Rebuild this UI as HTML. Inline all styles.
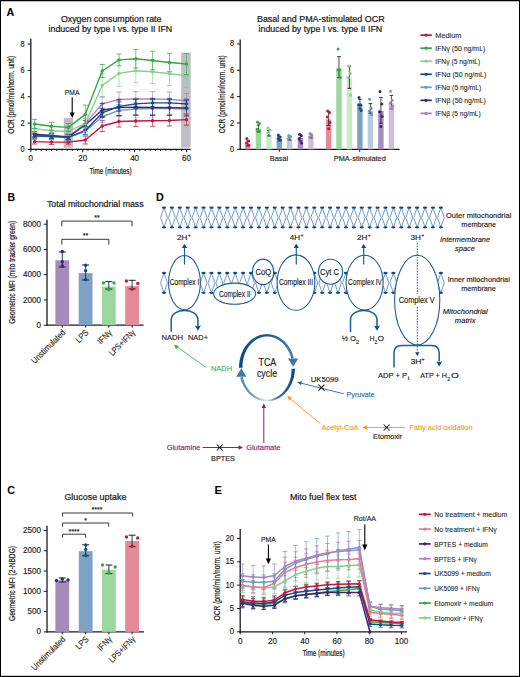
<!DOCTYPE html>
<html><head><meta charset="utf-8"><style>html,body{margin:0;padding:0;background:#fff;width:520px;height:677px;overflow:hidden}text{font-family:"Liberation Sans",sans-serif}</style></head><body>
<svg width="520" height="677" viewBox="0 0 520 677" style="display:block;font-family:'Liberation Sans', sans-serif">
<rect x="0.00" y="0.00" width="520.00" height="677.00" fill="#ffffff" />
<text x="6.60" y="15.70" font-size="10.6" text-anchor="start" fill="#000" font-weight="bold" textLength="7.80" lengthAdjust="spacingAndGlyphs" >A</text>
<text x="111.20" y="22.10" font-size="8.9" text-anchor="middle" fill="#1a1a1a" stroke="#1a1a1a" stroke-width="0.22" textLength="100.60" lengthAdjust="spacingAndGlyphs" >Oxygen consumption rate</text>
<text x="110.40" y="32.40" font-size="8.9" text-anchor="middle" fill="#1a1a1a" stroke="#1a1a1a" stroke-width="0.22" textLength="123.70" lengthAdjust="spacingAndGlyphs" >induced by type I vs. type II IFN</text>
<rect x="63.80" y="118.00" width="9.20" height="29.70" fill="#bdbdc2" />
<rect x="181.20" y="52.80" width="9.50" height="94.90" fill="#bdbdc2" />
<line x1="30.80" y1="38.70" x2="30.80" y2="150.00" stroke="#1a1a1a" stroke-width="1.3" />
<line x1="30.20" y1="149.40" x2="190.60" y2="149.40" stroke="#1a1a1a" stroke-width="1.3" />
<line x1="27.60" y1="149.40" x2="30.80" y2="149.40" stroke="#1a1a1a" stroke-width="1" />
<text x="24.70" y="151.95" font-size="8.2" text-anchor="end" fill="#1a1a1a" stroke="#1a1a1a" stroke-width="0.15" textLength="4.10" lengthAdjust="spacingAndGlyphs" >0</text>
<line x1="27.60" y1="123.06" x2="30.80" y2="123.06" stroke="#1a1a1a" stroke-width="1" />
<text x="24.70" y="125.61" font-size="8.2" text-anchor="end" fill="#1a1a1a" stroke="#1a1a1a" stroke-width="0.15" textLength="4.10" lengthAdjust="spacingAndGlyphs" >2</text>
<line x1="27.60" y1="96.72" x2="30.80" y2="96.72" stroke="#1a1a1a" stroke-width="1" />
<text x="24.70" y="99.27" font-size="8.2" text-anchor="end" fill="#1a1a1a" stroke="#1a1a1a" stroke-width="0.15" textLength="4.10" lengthAdjust="spacingAndGlyphs" >4</text>
<line x1="27.60" y1="70.38" x2="30.80" y2="70.38" stroke="#1a1a1a" stroke-width="1" />
<text x="24.70" y="72.93" font-size="8.2" text-anchor="end" fill="#1a1a1a" stroke="#1a1a1a" stroke-width="0.15" textLength="4.10" lengthAdjust="spacingAndGlyphs" >6</text>
<line x1="27.60" y1="44.04" x2="30.80" y2="44.04" stroke="#1a1a1a" stroke-width="1" />
<text x="24.70" y="46.59" font-size="8.2" text-anchor="end" fill="#1a1a1a" stroke="#1a1a1a" stroke-width="0.15" textLength="4.10" lengthAdjust="spacingAndGlyphs" >8</text>
<line x1="30.80" y1="149.40" x2="30.80" y2="152.20" stroke="#1a1a1a" stroke-width="1" />
<line x1="35.99" y1="149.40" x2="35.99" y2="150.90" stroke="#1a1a1a" stroke-width="1" />
<line x1="41.18" y1="149.40" x2="41.18" y2="150.90" stroke="#1a1a1a" stroke-width="1" />
<line x1="46.38" y1="149.40" x2="46.38" y2="150.90" stroke="#1a1a1a" stroke-width="1" />
<line x1="51.57" y1="149.40" x2="51.57" y2="150.90" stroke="#1a1a1a" stroke-width="1" />
<line x1="56.76" y1="149.40" x2="56.76" y2="150.90" stroke="#1a1a1a" stroke-width="1" />
<line x1="61.95" y1="149.40" x2="61.95" y2="150.90" stroke="#1a1a1a" stroke-width="1" />
<line x1="67.14" y1="149.40" x2="67.14" y2="150.90" stroke="#1a1a1a" stroke-width="1" />
<line x1="72.34" y1="149.40" x2="72.34" y2="150.90" stroke="#1a1a1a" stroke-width="1" />
<line x1="77.53" y1="149.40" x2="77.53" y2="150.90" stroke="#1a1a1a" stroke-width="1" />
<line x1="82.72" y1="149.40" x2="82.72" y2="152.20" stroke="#1a1a1a" stroke-width="1" />
<line x1="87.91" y1="149.40" x2="87.91" y2="150.90" stroke="#1a1a1a" stroke-width="1" />
<line x1="93.10" y1="149.40" x2="93.10" y2="150.90" stroke="#1a1a1a" stroke-width="1" />
<line x1="98.30" y1="149.40" x2="98.30" y2="150.90" stroke="#1a1a1a" stroke-width="1" />
<line x1="103.49" y1="149.40" x2="103.49" y2="150.90" stroke="#1a1a1a" stroke-width="1" />
<line x1="108.68" y1="149.40" x2="108.68" y2="150.90" stroke="#1a1a1a" stroke-width="1" />
<line x1="113.87" y1="149.40" x2="113.87" y2="150.90" stroke="#1a1a1a" stroke-width="1" />
<line x1="119.06" y1="149.40" x2="119.06" y2="150.90" stroke="#1a1a1a" stroke-width="1" />
<line x1="124.26" y1="149.40" x2="124.26" y2="150.90" stroke="#1a1a1a" stroke-width="1" />
<line x1="129.45" y1="149.40" x2="129.45" y2="150.90" stroke="#1a1a1a" stroke-width="1" />
<line x1="134.64" y1="149.40" x2="134.64" y2="152.20" stroke="#1a1a1a" stroke-width="1" />
<line x1="139.83" y1="149.40" x2="139.83" y2="150.90" stroke="#1a1a1a" stroke-width="1" />
<line x1="145.02" y1="149.40" x2="145.02" y2="150.90" stroke="#1a1a1a" stroke-width="1" />
<line x1="150.22" y1="149.40" x2="150.22" y2="150.90" stroke="#1a1a1a" stroke-width="1" />
<line x1="155.41" y1="149.40" x2="155.41" y2="150.90" stroke="#1a1a1a" stroke-width="1" />
<line x1="160.60" y1="149.40" x2="160.60" y2="150.90" stroke="#1a1a1a" stroke-width="1" />
<line x1="165.79" y1="149.40" x2="165.79" y2="150.90" stroke="#1a1a1a" stroke-width="1" />
<line x1="170.98" y1="149.40" x2="170.98" y2="150.90" stroke="#1a1a1a" stroke-width="1" />
<line x1="176.18" y1="149.40" x2="176.18" y2="150.90" stroke="#1a1a1a" stroke-width="1" />
<line x1="181.37" y1="149.40" x2="181.37" y2="150.90" stroke="#1a1a1a" stroke-width="1" />
<line x1="186.56" y1="149.40" x2="186.56" y2="152.20" stroke="#1a1a1a" stroke-width="1" />
<text x="30.80" y="161.15" font-size="8.2" text-anchor="middle" fill="#1a1a1a" stroke="#1a1a1a" stroke-width="0.15" textLength="4.50" lengthAdjust="spacingAndGlyphs" >0</text>
<text x="82.72" y="161.15" font-size="8.2" text-anchor="middle" fill="#1a1a1a" stroke="#1a1a1a" stroke-width="0.15" textLength="9.00" lengthAdjust="spacingAndGlyphs" >20</text>
<text x="134.64" y="161.15" font-size="8.2" text-anchor="middle" fill="#1a1a1a" stroke="#1a1a1a" stroke-width="0.15" textLength="9.00" lengthAdjust="spacingAndGlyphs" >40</text>
<text x="186.56" y="161.15" font-size="8.2" text-anchor="middle" fill="#1a1a1a" stroke="#1a1a1a" stroke-width="0.15" textLength="9.00" lengthAdjust="spacingAndGlyphs" >60</text>
<text x="110.50" y="173.80" font-size="9.4" text-anchor="middle" fill="#1a1a1a" stroke="#1a1a1a" stroke-width="0.22" textLength="42.20" lengthAdjust="spacingAndGlyphs" >Time (minutes)</text>
<text x="11.20" y="97.97" font-size="8.8" text-anchor="middle" fill="#1a1a1a" stroke="#1a1a1a" stroke-width="0.22" textLength="77.70" lengthAdjust="spacingAndGlyphs" transform="rotate(-90 11.20 94.80)" >OCR (pmol/min/norm. unit)</text>
<text x="72.10" y="95.04" font-size="7.6" text-anchor="middle" fill="#1a1a1a" stroke="#1a1a1a" stroke-width="0.15" textLength="14.60" lengthAdjust="spacingAndGlyphs" >PMA</text>
<line x1="72.20" y1="97.30" x2="72.20" y2="113.50" stroke="#000" stroke-width="1.1" />
<path d="M69.6,112.5 L74.8,112.5 L72.2,118 Z" fill="#000" stroke="none" stroke-width="1" />
<line x1="34.60" y1="139.26" x2="34.60" y2="144.00" stroke="#c8153c" stroke-width="0.75" opacity="0.85"/>
<line x1="32.00" y1="139.26" x2="37.20" y2="139.26" stroke="#c8153c" stroke-width="0.9" opacity="0.85"/>
<line x1="32.00" y1="144.00" x2="37.20" y2="144.00" stroke="#c8153c" stroke-width="0.9" opacity="0.85"/>
<line x1="51.50" y1="139.79" x2="51.50" y2="144.53" stroke="#c8153c" stroke-width="0.75" opacity="0.85"/>
<line x1="48.90" y1="139.79" x2="54.10" y2="139.79" stroke="#c8153c" stroke-width="0.9" opacity="0.85"/>
<line x1="48.90" y1="144.53" x2="54.10" y2="144.53" stroke="#c8153c" stroke-width="0.9" opacity="0.85"/>
<line x1="68.30" y1="140.18" x2="68.30" y2="144.13" stroke="#c8153c" stroke-width="0.75" opacity="0.85"/>
<line x1="65.70" y1="140.18" x2="70.90" y2="140.18" stroke="#c8153c" stroke-width="0.9" opacity="0.85"/>
<line x1="65.70" y1="144.13" x2="70.90" y2="144.13" stroke="#c8153c" stroke-width="0.9" opacity="0.85"/>
<line x1="85.30" y1="136.10" x2="85.30" y2="144.00" stroke="#c8153c" stroke-width="0.75" opacity="0.85"/>
<line x1="82.70" y1="136.10" x2="87.90" y2="136.10" stroke="#c8153c" stroke-width="0.9" opacity="0.85"/>
<line x1="82.70" y1="144.00" x2="87.90" y2="144.00" stroke="#c8153c" stroke-width="0.9" opacity="0.85"/>
<line x1="102.20" y1="120.43" x2="102.20" y2="131.49" stroke="#c8153c" stroke-width="0.75" opacity="0.85"/>
<line x1="99.60" y1="120.43" x2="104.80" y2="120.43" stroke="#c8153c" stroke-width="0.9" opacity="0.85"/>
<line x1="99.60" y1="131.49" x2="104.80" y2="131.49" stroke="#c8153c" stroke-width="0.9" opacity="0.85"/>
<line x1="119.00" y1="115.95" x2="119.00" y2="127.01" stroke="#c8153c" stroke-width="0.75" opacity="0.85"/>
<line x1="116.40" y1="115.95" x2="121.60" y2="115.95" stroke="#c8153c" stroke-width="0.9" opacity="0.85"/>
<line x1="116.40" y1="127.01" x2="121.60" y2="127.01" stroke="#c8153c" stroke-width="0.9" opacity="0.85"/>
<line x1="135.80" y1="115.42" x2="135.80" y2="126.48" stroke="#c8153c" stroke-width="0.75" opacity="0.85"/>
<line x1="133.20" y1="115.42" x2="138.40" y2="115.42" stroke="#c8153c" stroke-width="0.9" opacity="0.85"/>
<line x1="133.20" y1="126.48" x2="138.40" y2="126.48" stroke="#c8153c" stroke-width="0.9" opacity="0.85"/>
<line x1="152.60" y1="115.16" x2="152.60" y2="126.22" stroke="#c8153c" stroke-width="0.75" opacity="0.85"/>
<line x1="150.00" y1="115.16" x2="155.20" y2="115.16" stroke="#c8153c" stroke-width="0.9" opacity="0.85"/>
<line x1="150.00" y1="126.22" x2="155.20" y2="126.22" stroke="#c8153c" stroke-width="0.9" opacity="0.85"/>
<line x1="169.50" y1="114.89" x2="169.50" y2="125.96" stroke="#c8153c" stroke-width="0.75" opacity="0.85"/>
<line x1="166.90" y1="114.89" x2="172.10" y2="114.89" stroke="#c8153c" stroke-width="0.9" opacity="0.85"/>
<line x1="166.90" y1="125.96" x2="172.10" y2="125.96" stroke="#c8153c" stroke-width="0.9" opacity="0.85"/>
<line x1="186.40" y1="114.10" x2="186.40" y2="125.17" stroke="#c8153c" stroke-width="0.75" opacity="0.85"/>
<line x1="183.80" y1="114.10" x2="189.00" y2="114.10" stroke="#c8153c" stroke-width="0.9" opacity="0.85"/>
<line x1="183.80" y1="125.17" x2="189.00" y2="125.17" stroke="#c8153c" stroke-width="0.9" opacity="0.85"/>
<polyline points="34.60,141.63 51.50,142.16 68.30,142.16 85.30,140.05 102.20,125.96 119.00,121.48 135.80,120.95 152.60,120.69 169.50,120.43 186.40,119.64" fill="none" stroke="#c8153c" stroke-width="1.4" stroke-linejoin="round"/>
<circle cx="34.60" cy="141.63" r="1.7" fill="#c8153c" />
<circle cx="51.50" cy="142.16" r="1.7" fill="#c8153c" />
<circle cx="68.30" cy="142.16" r="1.7" fill="#c8153c" />
<circle cx="85.30" cy="140.05" r="1.7" fill="#c8153c" />
<circle cx="102.20" cy="125.96" r="1.7" fill="#c8153c" />
<circle cx="119.00" cy="121.48" r="1.7" fill="#c8153c" />
<circle cx="135.80" cy="120.95" r="1.7" fill="#c8153c" />
<circle cx="152.60" cy="120.69" r="1.7" fill="#c8153c" />
<circle cx="169.50" cy="120.43" r="1.7" fill="#c8153c" />
<circle cx="186.40" cy="119.64" r="1.7" fill="#c8153c" />
<line x1="34.60" y1="132.94" x2="34.60" y2="138.21" stroke="#a486be" stroke-width="0.75" opacity="0.85"/>
<line x1="32.00" y1="132.94" x2="37.20" y2="132.94" stroke="#a486be" stroke-width="0.9" opacity="0.85"/>
<line x1="32.00" y1="138.21" x2="37.20" y2="138.21" stroke="#a486be" stroke-width="0.9" opacity="0.85"/>
<line x1="51.50" y1="133.73" x2="51.50" y2="139.00" stroke="#a486be" stroke-width="0.75" opacity="0.85"/>
<line x1="48.90" y1="133.73" x2="54.10" y2="133.73" stroke="#a486be" stroke-width="0.9" opacity="0.85"/>
<line x1="48.90" y1="139.00" x2="54.10" y2="139.00" stroke="#a486be" stroke-width="0.9" opacity="0.85"/>
<line x1="68.30" y1="134.39" x2="68.30" y2="139.65" stroke="#a486be" stroke-width="0.75" opacity="0.85"/>
<line x1="65.70" y1="134.39" x2="70.90" y2="134.39" stroke="#a486be" stroke-width="0.9" opacity="0.85"/>
<line x1="65.70" y1="139.65" x2="70.90" y2="139.65" stroke="#a486be" stroke-width="0.9" opacity="0.85"/>
<line x1="85.30" y1="118.32" x2="85.30" y2="128.85" stroke="#a486be" stroke-width="0.75" opacity="0.85"/>
<line x1="82.70" y1="118.32" x2="87.90" y2="118.32" stroke="#a486be" stroke-width="0.9" opacity="0.85"/>
<line x1="82.70" y1="128.85" x2="87.90" y2="128.85" stroke="#a486be" stroke-width="0.9" opacity="0.85"/>
<line x1="102.20" y1="96.59" x2="102.20" y2="111.08" stroke="#a486be" stroke-width="0.75" opacity="0.85"/>
<line x1="99.60" y1="96.59" x2="104.80" y2="96.59" stroke="#a486be" stroke-width="0.9" opacity="0.85"/>
<line x1="99.60" y1="111.08" x2="104.80" y2="111.08" stroke="#a486be" stroke-width="0.9" opacity="0.85"/>
<line x1="119.00" y1="92.11" x2="119.00" y2="106.60" stroke="#a486be" stroke-width="0.75" opacity="0.85"/>
<line x1="116.40" y1="92.11" x2="121.60" y2="92.11" stroke="#a486be" stroke-width="0.9" opacity="0.85"/>
<line x1="116.40" y1="106.60" x2="121.60" y2="106.60" stroke="#a486be" stroke-width="0.9" opacity="0.85"/>
<line x1="135.80" y1="91.72" x2="135.80" y2="106.20" stroke="#a486be" stroke-width="0.75" opacity="0.85"/>
<line x1="133.20" y1="91.72" x2="138.40" y2="91.72" stroke="#a486be" stroke-width="0.9" opacity="0.85"/>
<line x1="133.20" y1="106.20" x2="138.40" y2="106.20" stroke="#a486be" stroke-width="0.9" opacity="0.85"/>
<line x1="152.60" y1="91.72" x2="152.60" y2="106.20" stroke="#a486be" stroke-width="0.75" opacity="0.85"/>
<line x1="150.00" y1="91.72" x2="155.20" y2="91.72" stroke="#a486be" stroke-width="0.9" opacity="0.85"/>
<line x1="150.00" y1="106.20" x2="155.20" y2="106.20" stroke="#a486be" stroke-width="0.9" opacity="0.85"/>
<line x1="169.50" y1="92.11" x2="169.50" y2="106.60" stroke="#a486be" stroke-width="0.75" opacity="0.85"/>
<line x1="166.90" y1="92.11" x2="172.10" y2="92.11" stroke="#a486be" stroke-width="0.9" opacity="0.85"/>
<line x1="166.90" y1="106.60" x2="172.10" y2="106.60" stroke="#a486be" stroke-width="0.9" opacity="0.85"/>
<line x1="186.40" y1="93.56" x2="186.40" y2="108.05" stroke="#a486be" stroke-width="0.75" opacity="0.85"/>
<line x1="183.80" y1="93.56" x2="189.00" y2="93.56" stroke="#a486be" stroke-width="0.9" opacity="0.85"/>
<line x1="183.80" y1="108.05" x2="189.00" y2="108.05" stroke="#a486be" stroke-width="0.9" opacity="0.85"/>
<polyline points="34.60,135.57 51.50,136.36 68.30,137.02 85.30,123.59 102.20,103.83 119.00,99.35 135.80,98.96 152.60,98.96 169.50,99.35 186.40,100.80" fill="none" stroke="#a486be" stroke-width="1.4" stroke-linejoin="round"/>
<circle cx="34.60" cy="135.57" r="1.7" fill="#a486be" />
<circle cx="51.50" cy="136.36" r="1.7" fill="#a486be" />
<circle cx="68.30" cy="137.02" r="1.7" fill="#a486be" />
<circle cx="85.30" cy="123.59" r="1.7" fill="#a486be" />
<circle cx="102.20" cy="103.83" r="1.7" fill="#a486be" />
<circle cx="119.00" cy="99.35" r="1.7" fill="#a486be" />
<circle cx="135.80" cy="98.96" r="1.7" fill="#a486be" />
<circle cx="152.60" cy="98.96" r="1.7" fill="#a486be" />
<circle cx="169.50" cy="99.35" r="1.7" fill="#a486be" />
<circle cx="186.40" cy="100.80" r="1.7" fill="#a486be" />
<line x1="34.60" y1="133.60" x2="34.60" y2="138.86" stroke="#6a9bc8" stroke-width="0.75" opacity="0.85"/>
<line x1="32.00" y1="133.60" x2="37.20" y2="133.60" stroke="#6a9bc8" stroke-width="0.9" opacity="0.85"/>
<line x1="32.00" y1="138.86" x2="37.20" y2="138.86" stroke="#6a9bc8" stroke-width="0.9" opacity="0.85"/>
<line x1="51.50" y1="133.99" x2="51.50" y2="139.26" stroke="#6a9bc8" stroke-width="0.75" opacity="0.85"/>
<line x1="48.90" y1="133.99" x2="54.10" y2="133.99" stroke="#6a9bc8" stroke-width="0.9" opacity="0.85"/>
<line x1="48.90" y1="139.26" x2="54.10" y2="139.26" stroke="#6a9bc8" stroke-width="0.9" opacity="0.85"/>
<line x1="68.30" y1="134.91" x2="68.30" y2="140.18" stroke="#6a9bc8" stroke-width="0.75" opacity="0.85"/>
<line x1="65.70" y1="134.91" x2="70.90" y2="134.91" stroke="#6a9bc8" stroke-width="0.9" opacity="0.85"/>
<line x1="65.70" y1="140.18" x2="70.90" y2="140.18" stroke="#6a9bc8" stroke-width="0.9" opacity="0.85"/>
<line x1="85.30" y1="127.27" x2="85.30" y2="135.18" stroke="#6a9bc8" stroke-width="0.75" opacity="0.85"/>
<line x1="82.70" y1="127.27" x2="87.90" y2="127.27" stroke="#6a9bc8" stroke-width="0.9" opacity="0.85"/>
<line x1="82.70" y1="135.18" x2="87.90" y2="135.18" stroke="#6a9bc8" stroke-width="0.9" opacity="0.85"/>
<line x1="102.20" y1="110.81" x2="102.20" y2="122.66" stroke="#6a9bc8" stroke-width="0.75" opacity="0.85"/>
<line x1="99.60" y1="110.81" x2="104.80" y2="110.81" stroke="#6a9bc8" stroke-width="0.9" opacity="0.85"/>
<line x1="99.60" y1="122.66" x2="104.80" y2="122.66" stroke="#6a9bc8" stroke-width="0.9" opacity="0.85"/>
<line x1="119.00" y1="104.49" x2="119.00" y2="116.34" stroke="#6a9bc8" stroke-width="0.75" opacity="0.85"/>
<line x1="116.40" y1="104.49" x2="121.60" y2="104.49" stroke="#6a9bc8" stroke-width="0.9" opacity="0.85"/>
<line x1="116.40" y1="116.34" x2="121.60" y2="116.34" stroke="#6a9bc8" stroke-width="0.9" opacity="0.85"/>
<line x1="135.80" y1="103.04" x2="135.80" y2="114.89" stroke="#6a9bc8" stroke-width="0.75" opacity="0.85"/>
<line x1="133.20" y1="103.04" x2="138.40" y2="103.04" stroke="#6a9bc8" stroke-width="0.9" opacity="0.85"/>
<line x1="133.20" y1="114.89" x2="138.40" y2="114.89" stroke="#6a9bc8" stroke-width="0.9" opacity="0.85"/>
<line x1="152.60" y1="102.65" x2="152.60" y2="114.50" stroke="#6a9bc8" stroke-width="0.75" opacity="0.85"/>
<line x1="150.00" y1="102.65" x2="155.20" y2="102.65" stroke="#6a9bc8" stroke-width="0.9" opacity="0.85"/>
<line x1="150.00" y1="114.50" x2="155.20" y2="114.50" stroke="#6a9bc8" stroke-width="0.9" opacity="0.85"/>
<line x1="169.50" y1="102.38" x2="169.50" y2="114.24" stroke="#6a9bc8" stroke-width="0.75" opacity="0.85"/>
<line x1="166.90" y1="102.38" x2="172.10" y2="102.38" stroke="#6a9bc8" stroke-width="0.9" opacity="0.85"/>
<line x1="166.90" y1="114.24" x2="172.10" y2="114.24" stroke="#6a9bc8" stroke-width="0.9" opacity="0.85"/>
<line x1="186.40" y1="103.44" x2="186.40" y2="115.29" stroke="#6a9bc8" stroke-width="0.75" opacity="0.85"/>
<line x1="183.80" y1="103.44" x2="189.00" y2="103.44" stroke="#6a9bc8" stroke-width="0.9" opacity="0.85"/>
<line x1="183.80" y1="115.29" x2="189.00" y2="115.29" stroke="#6a9bc8" stroke-width="0.9" opacity="0.85"/>
<polyline points="34.60,136.23 51.50,136.63 68.30,137.55 85.30,131.23 102.20,116.74 119.00,110.42 135.80,108.97 152.60,108.57 169.50,108.31 186.40,109.36" fill="none" stroke="#6a9bc8" stroke-width="1.4" stroke-linejoin="round"/>
<circle cx="34.60" cy="136.23" r="1.7" fill="#6a9bc8" />
<circle cx="51.50" cy="136.63" r="1.7" fill="#6a9bc8" />
<circle cx="68.30" cy="137.55" r="1.7" fill="#6a9bc8" />
<circle cx="85.30" cy="131.23" r="1.7" fill="#6a9bc8" />
<circle cx="102.20" cy="116.74" r="1.7" fill="#6a9bc8" />
<circle cx="119.00" cy="110.42" r="1.7" fill="#6a9bc8" />
<circle cx="135.80" cy="108.97" r="1.7" fill="#6a9bc8" />
<circle cx="152.60" cy="108.57" r="1.7" fill="#6a9bc8" />
<circle cx="169.50" cy="108.31" r="1.7" fill="#6a9bc8" />
<circle cx="186.40" cy="109.36" r="1.7" fill="#6a9bc8" />
<line x1="34.60" y1="131.62" x2="34.60" y2="136.89" stroke="#4c1c74" stroke-width="0.75" opacity="0.85"/>
<line x1="32.00" y1="131.62" x2="37.20" y2="131.62" stroke="#4c1c74" stroke-width="0.9" opacity="0.85"/>
<line x1="32.00" y1="136.89" x2="37.20" y2="136.89" stroke="#4c1c74" stroke-width="0.9" opacity="0.85"/>
<line x1="51.50" y1="132.94" x2="51.50" y2="138.21" stroke="#4c1c74" stroke-width="0.75" opacity="0.85"/>
<line x1="48.90" y1="132.94" x2="54.10" y2="132.94" stroke="#4c1c74" stroke-width="0.9" opacity="0.85"/>
<line x1="48.90" y1="138.21" x2="54.10" y2="138.21" stroke="#4c1c74" stroke-width="0.9" opacity="0.85"/>
<line x1="68.30" y1="134.25" x2="68.30" y2="139.52" stroke="#4c1c74" stroke-width="0.75" opacity="0.85"/>
<line x1="65.70" y1="134.25" x2="70.90" y2="134.25" stroke="#4c1c74" stroke-width="0.9" opacity="0.85"/>
<line x1="65.70" y1="139.52" x2="70.90" y2="139.52" stroke="#4c1c74" stroke-width="0.9" opacity="0.85"/>
<line x1="85.30" y1="120.43" x2="85.30" y2="129.65" stroke="#4c1c74" stroke-width="0.75" opacity="0.85"/>
<line x1="82.70" y1="120.43" x2="87.90" y2="120.43" stroke="#4c1c74" stroke-width="0.9" opacity="0.85"/>
<line x1="82.70" y1="129.65" x2="87.90" y2="129.65" stroke="#4c1c74" stroke-width="0.9" opacity="0.85"/>
<line x1="102.20" y1="103.44" x2="102.20" y2="116.61" stroke="#4c1c74" stroke-width="0.75" opacity="0.85"/>
<line x1="99.60" y1="103.44" x2="104.80" y2="103.44" stroke="#4c1c74" stroke-width="0.9" opacity="0.85"/>
<line x1="99.60" y1="116.61" x2="104.80" y2="116.61" stroke="#4c1c74" stroke-width="0.9" opacity="0.85"/>
<line x1="119.00" y1="99.75" x2="119.00" y2="115.55" stroke="#4c1c74" stroke-width="0.75" opacity="0.85"/>
<line x1="116.40" y1="99.75" x2="121.60" y2="99.75" stroke="#4c1c74" stroke-width="0.9" opacity="0.85"/>
<line x1="116.40" y1="115.55" x2="121.60" y2="115.55" stroke="#4c1c74" stroke-width="0.9" opacity="0.85"/>
<line x1="135.80" y1="99.22" x2="135.80" y2="115.03" stroke="#4c1c74" stroke-width="0.75" opacity="0.85"/>
<line x1="133.20" y1="99.22" x2="138.40" y2="99.22" stroke="#4c1c74" stroke-width="0.9" opacity="0.85"/>
<line x1="133.20" y1="115.03" x2="138.40" y2="115.03" stroke="#4c1c74" stroke-width="0.9" opacity="0.85"/>
<line x1="152.60" y1="99.62" x2="152.60" y2="115.42" stroke="#4c1c74" stroke-width="0.75" opacity="0.85"/>
<line x1="150.00" y1="99.62" x2="155.20" y2="99.62" stroke="#4c1c74" stroke-width="0.9" opacity="0.85"/>
<line x1="150.00" y1="115.42" x2="155.20" y2="115.42" stroke="#4c1c74" stroke-width="0.9" opacity="0.85"/>
<line x1="169.50" y1="99.75" x2="169.50" y2="115.55" stroke="#4c1c74" stroke-width="0.75" opacity="0.85"/>
<line x1="166.90" y1="99.75" x2="172.10" y2="99.75" stroke="#4c1c74" stroke-width="0.9" opacity="0.85"/>
<line x1="166.90" y1="115.55" x2="172.10" y2="115.55" stroke="#4c1c74" stroke-width="0.9" opacity="0.85"/>
<line x1="186.40" y1="100.14" x2="186.40" y2="115.95" stroke="#4c1c74" stroke-width="0.75" opacity="0.85"/>
<line x1="183.80" y1="100.14" x2="189.00" y2="100.14" stroke="#4c1c74" stroke-width="0.9" opacity="0.85"/>
<line x1="183.80" y1="115.95" x2="189.00" y2="115.95" stroke="#4c1c74" stroke-width="0.9" opacity="0.85"/>
<polyline points="34.60,134.25 51.50,135.57 68.30,136.89 85.30,125.04 102.20,110.02 119.00,107.65 135.80,107.12 152.60,107.52 169.50,107.65 186.40,108.05" fill="none" stroke="#4c1c74" stroke-width="1.4" stroke-linejoin="round"/>
<circle cx="34.60" cy="134.25" r="1.7" fill="#4c1c74" />
<circle cx="51.50" cy="135.57" r="1.7" fill="#4c1c74" />
<circle cx="68.30" cy="136.89" r="1.7" fill="#4c1c74" />
<circle cx="85.30" cy="125.04" r="1.7" fill="#4c1c74" />
<circle cx="102.20" cy="110.02" r="1.7" fill="#4c1c74" />
<circle cx="119.00" cy="107.65" r="1.7" fill="#4c1c74" />
<circle cx="135.80" cy="107.12" r="1.7" fill="#4c1c74" />
<circle cx="152.60" cy="107.52" r="1.7" fill="#4c1c74" />
<circle cx="169.50" cy="107.65" r="1.7" fill="#4c1c74" />
<circle cx="186.40" cy="108.05" r="1.7" fill="#4c1c74" />
<line x1="34.60" y1="133.86" x2="34.60" y2="137.81" stroke="#0f4c8a" stroke-width="0.75" opacity="0.85"/>
<line x1="32.00" y1="133.86" x2="37.20" y2="133.86" stroke="#0f4c8a" stroke-width="0.9" opacity="0.85"/>
<line x1="32.00" y1="137.81" x2="37.20" y2="137.81" stroke="#0f4c8a" stroke-width="0.9" opacity="0.85"/>
<line x1="51.50" y1="134.25" x2="51.50" y2="138.21" stroke="#0f4c8a" stroke-width="0.75" opacity="0.85"/>
<line x1="48.90" y1="134.25" x2="54.10" y2="134.25" stroke="#0f4c8a" stroke-width="0.9" opacity="0.85"/>
<line x1="48.90" y1="138.21" x2="54.10" y2="138.21" stroke="#0f4c8a" stroke-width="0.9" opacity="0.85"/>
<line x1="68.30" y1="135.31" x2="68.30" y2="139.26" stroke="#0f4c8a" stroke-width="0.75" opacity="0.85"/>
<line x1="65.70" y1="135.31" x2="70.90" y2="135.31" stroke="#0f4c8a" stroke-width="0.9" opacity="0.85"/>
<line x1="65.70" y1="139.26" x2="70.90" y2="139.26" stroke="#0f4c8a" stroke-width="0.9" opacity="0.85"/>
<line x1="85.30" y1="126.48" x2="85.30" y2="134.39" stroke="#0f4c8a" stroke-width="0.75" opacity="0.85"/>
<line x1="82.70" y1="126.48" x2="87.90" y2="126.48" stroke="#0f4c8a" stroke-width="0.9" opacity="0.85"/>
<line x1="82.70" y1="134.39" x2="87.90" y2="134.39" stroke="#0f4c8a" stroke-width="0.9" opacity="0.85"/>
<line x1="102.20" y1="108.31" x2="102.20" y2="117.53" stroke="#0f4c8a" stroke-width="0.75" opacity="0.85"/>
<line x1="99.60" y1="108.31" x2="104.80" y2="108.31" stroke="#0f4c8a" stroke-width="0.9" opacity="0.85"/>
<line x1="99.60" y1="117.53" x2="104.80" y2="117.53" stroke="#0f4c8a" stroke-width="0.9" opacity="0.85"/>
<line x1="119.00" y1="101.86" x2="119.00" y2="111.08" stroke="#0f4c8a" stroke-width="0.75" opacity="0.85"/>
<line x1="116.40" y1="101.86" x2="121.60" y2="101.86" stroke="#0f4c8a" stroke-width="0.9" opacity="0.85"/>
<line x1="116.40" y1="111.08" x2="121.60" y2="111.08" stroke="#0f4c8a" stroke-width="0.9" opacity="0.85"/>
<line x1="135.80" y1="99.22" x2="135.80" y2="108.44" stroke="#0f4c8a" stroke-width="0.75" opacity="0.85"/>
<line x1="133.20" y1="99.22" x2="138.40" y2="99.22" stroke="#0f4c8a" stroke-width="0.9" opacity="0.85"/>
<line x1="133.20" y1="108.44" x2="138.40" y2="108.44" stroke="#0f4c8a" stroke-width="0.9" opacity="0.85"/>
<line x1="152.60" y1="98.30" x2="152.60" y2="107.52" stroke="#0f4c8a" stroke-width="0.75" opacity="0.85"/>
<line x1="150.00" y1="98.30" x2="155.20" y2="98.30" stroke="#0f4c8a" stroke-width="0.9" opacity="0.85"/>
<line x1="150.00" y1="107.52" x2="155.20" y2="107.52" stroke="#0f4c8a" stroke-width="0.9" opacity="0.85"/>
<line x1="169.50" y1="98.30" x2="169.50" y2="107.52" stroke="#0f4c8a" stroke-width="0.75" opacity="0.85"/>
<line x1="166.90" y1="98.30" x2="172.10" y2="98.30" stroke="#0f4c8a" stroke-width="0.9" opacity="0.85"/>
<line x1="166.90" y1="107.52" x2="172.10" y2="107.52" stroke="#0f4c8a" stroke-width="0.9" opacity="0.85"/>
<line x1="186.40" y1="99.22" x2="186.40" y2="108.44" stroke="#0f4c8a" stroke-width="0.75" opacity="0.85"/>
<line x1="183.80" y1="99.22" x2="189.00" y2="99.22" stroke="#0f4c8a" stroke-width="0.9" opacity="0.85"/>
<line x1="183.80" y1="108.44" x2="189.00" y2="108.44" stroke="#0f4c8a" stroke-width="0.9" opacity="0.85"/>
<polyline points="34.60,135.83 51.50,136.23 68.30,137.28 85.30,130.44 102.20,112.92 119.00,106.47 135.80,103.83 152.60,102.91 169.50,102.91 186.40,103.83" fill="none" stroke="#0f4c8a" stroke-width="1.4" stroke-linejoin="round"/>
<circle cx="34.60" cy="135.83" r="1.7" fill="#0f4c8a" />
<circle cx="51.50" cy="136.23" r="1.7" fill="#0f4c8a" />
<circle cx="68.30" cy="137.28" r="1.7" fill="#0f4c8a" />
<circle cx="85.30" cy="130.44" r="1.7" fill="#0f4c8a" />
<circle cx="102.20" cy="112.92" r="1.7" fill="#0f4c8a" />
<circle cx="119.00" cy="106.47" r="1.7" fill="#0f4c8a" />
<circle cx="135.80" cy="103.83" r="1.7" fill="#0f4c8a" />
<circle cx="152.60" cy="102.91" r="1.7" fill="#0f4c8a" />
<circle cx="169.50" cy="102.91" r="1.7" fill="#0f4c8a" />
<circle cx="186.40" cy="103.83" r="1.7" fill="#0f4c8a" />
<line x1="34.60" y1="124.64" x2="34.60" y2="132.54" stroke="#87d18c" stroke-width="0.75" opacity="0.85"/>
<line x1="32.00" y1="124.64" x2="37.20" y2="124.64" stroke="#87d18c" stroke-width="0.9" opacity="0.85"/>
<line x1="32.00" y1="132.54" x2="37.20" y2="132.54" stroke="#87d18c" stroke-width="0.9" opacity="0.85"/>
<line x1="51.50" y1="126.75" x2="51.50" y2="134.65" stroke="#87d18c" stroke-width="0.75" opacity="0.85"/>
<line x1="48.90" y1="126.75" x2="54.10" y2="126.75" stroke="#87d18c" stroke-width="0.9" opacity="0.85"/>
<line x1="48.90" y1="134.65" x2="54.10" y2="134.65" stroke="#87d18c" stroke-width="0.9" opacity="0.85"/>
<line x1="68.30" y1="127.54" x2="68.30" y2="135.44" stroke="#87d18c" stroke-width="0.75" opacity="0.85"/>
<line x1="65.70" y1="127.54" x2="70.90" y2="127.54" stroke="#87d18c" stroke-width="0.9" opacity="0.85"/>
<line x1="65.70" y1="135.44" x2="70.90" y2="135.44" stroke="#87d18c" stroke-width="0.9" opacity="0.85"/>
<line x1="85.30" y1="115.68" x2="85.30" y2="131.49" stroke="#87d18c" stroke-width="0.75" opacity="0.85"/>
<line x1="82.70" y1="115.68" x2="87.90" y2="115.68" stroke="#87d18c" stroke-width="0.9" opacity="0.85"/>
<line x1="82.70" y1="131.49" x2="87.90" y2="131.49" stroke="#87d18c" stroke-width="0.9" opacity="0.85"/>
<line x1="102.20" y1="73.67" x2="102.20" y2="97.38" stroke="#87d18c" stroke-width="0.75" opacity="0.85"/>
<line x1="99.60" y1="73.67" x2="104.80" y2="73.67" stroke="#87d18c" stroke-width="0.9" opacity="0.85"/>
<line x1="99.60" y1="97.38" x2="104.80" y2="97.38" stroke="#87d18c" stroke-width="0.9" opacity="0.85"/>
<line x1="119.00" y1="60.24" x2="119.00" y2="86.58" stroke="#87d18c" stroke-width="0.75" opacity="0.85"/>
<line x1="116.40" y1="60.24" x2="121.60" y2="60.24" stroke="#87d18c" stroke-width="0.9" opacity="0.85"/>
<line x1="116.40" y1="86.58" x2="121.60" y2="86.58" stroke="#87d18c" stroke-width="0.9" opacity="0.85"/>
<line x1="135.80" y1="58.92" x2="135.80" y2="82.63" stroke="#87d18c" stroke-width="0.75" opacity="0.85"/>
<line x1="133.20" y1="58.92" x2="138.40" y2="58.92" stroke="#87d18c" stroke-width="0.9" opacity="0.85"/>
<line x1="133.20" y1="82.63" x2="138.40" y2="82.63" stroke="#87d18c" stroke-width="0.9" opacity="0.85"/>
<line x1="152.60" y1="59.84" x2="152.60" y2="83.55" stroke="#87d18c" stroke-width="0.75" opacity="0.85"/>
<line x1="150.00" y1="59.84" x2="155.20" y2="59.84" stroke="#87d18c" stroke-width="0.9" opacity="0.85"/>
<line x1="150.00" y1="83.55" x2="155.20" y2="83.55" stroke="#87d18c" stroke-width="0.9" opacity="0.85"/>
<line x1="169.50" y1="61.95" x2="169.50" y2="85.66" stroke="#87d18c" stroke-width="0.75" opacity="0.85"/>
<line x1="166.90" y1="61.95" x2="172.10" y2="61.95" stroke="#87d18c" stroke-width="0.9" opacity="0.85"/>
<line x1="166.90" y1="85.66" x2="172.10" y2="85.66" stroke="#87d18c" stroke-width="0.9" opacity="0.85"/>
<line x1="186.40" y1="63.80" x2="186.40" y2="87.50" stroke="#87d18c" stroke-width="0.75" opacity="0.85"/>
<line x1="183.80" y1="63.80" x2="189.00" y2="63.80" stroke="#87d18c" stroke-width="0.9" opacity="0.85"/>
<line x1="183.80" y1="87.50" x2="189.00" y2="87.50" stroke="#87d18c" stroke-width="0.9" opacity="0.85"/>
<polyline points="34.60,128.59 51.50,130.70 68.30,131.49 85.30,123.59 102.20,85.53 119.00,73.41 135.80,70.78 152.60,71.70 169.50,73.80 186.40,75.65" fill="none" stroke="#87d18c" stroke-width="1.4" stroke-linejoin="round"/>
<circle cx="34.60" cy="128.59" r="1.7" fill="#87d18c" />
<circle cx="51.50" cy="130.70" r="1.7" fill="#87d18c" />
<circle cx="68.30" cy="131.49" r="1.7" fill="#87d18c" />
<circle cx="85.30" cy="123.59" r="1.7" fill="#87d18c" />
<circle cx="102.20" cy="85.53" r="1.7" fill="#87d18c" />
<circle cx="119.00" cy="73.41" r="1.7" fill="#87d18c" />
<circle cx="135.80" cy="70.78" r="1.7" fill="#87d18c" />
<circle cx="152.60" cy="71.70" r="1.7" fill="#87d18c" />
<circle cx="169.50" cy="73.80" r="1.7" fill="#87d18c" />
<circle cx="186.40" cy="75.65" r="1.7" fill="#87d18c" />
<line x1="34.60" y1="119.37" x2="34.60" y2="128.59" stroke="#2eab44" stroke-width="0.75" opacity="0.85"/>
<line x1="32.00" y1="119.37" x2="37.20" y2="119.37" stroke="#2eab44" stroke-width="0.9" opacity="0.85"/>
<line x1="32.00" y1="128.59" x2="37.20" y2="128.59" stroke="#2eab44" stroke-width="0.9" opacity="0.85"/>
<line x1="51.50" y1="122.27" x2="51.50" y2="130.17" stroke="#2eab44" stroke-width="0.75" opacity="0.85"/>
<line x1="48.90" y1="122.27" x2="54.10" y2="122.27" stroke="#2eab44" stroke-width="0.9" opacity="0.85"/>
<line x1="48.90" y1="130.17" x2="54.10" y2="130.17" stroke="#2eab44" stroke-width="0.9" opacity="0.85"/>
<line x1="68.30" y1="123.46" x2="68.30" y2="131.36" stroke="#2eab44" stroke-width="0.75" opacity="0.85"/>
<line x1="65.70" y1="123.46" x2="70.90" y2="123.46" stroke="#2eab44" stroke-width="0.9" opacity="0.85"/>
<line x1="65.70" y1="131.36" x2="70.90" y2="131.36" stroke="#2eab44" stroke-width="0.9" opacity="0.85"/>
<line x1="85.30" y1="105.15" x2="85.30" y2="123.59" stroke="#2eab44" stroke-width="0.75" opacity="0.85"/>
<line x1="82.70" y1="105.15" x2="87.90" y2="105.15" stroke="#2eab44" stroke-width="0.9" opacity="0.85"/>
<line x1="82.70" y1="123.59" x2="87.90" y2="123.59" stroke="#2eab44" stroke-width="0.9" opacity="0.85"/>
<line x1="102.20" y1="64.45" x2="102.20" y2="77.62" stroke="#2eab44" stroke-width="0.75" opacity="0.85"/>
<line x1="99.60" y1="64.45" x2="104.80" y2="64.45" stroke="#2eab44" stroke-width="0.9" opacity="0.85"/>
<line x1="99.60" y1="77.62" x2="104.80" y2="77.62" stroke="#2eab44" stroke-width="0.9" opacity="0.85"/>
<line x1="119.00" y1="53.92" x2="119.00" y2="65.77" stroke="#2eab44" stroke-width="0.75" opacity="0.85"/>
<line x1="116.40" y1="53.92" x2="121.60" y2="53.92" stroke="#2eab44" stroke-width="0.9" opacity="0.85"/>
<line x1="116.40" y1="65.77" x2="121.60" y2="65.77" stroke="#2eab44" stroke-width="0.9" opacity="0.85"/>
<line x1="135.80" y1="49.57" x2="135.80" y2="68.01" stroke="#2eab44" stroke-width="0.75" opacity="0.85"/>
<line x1="133.20" y1="49.57" x2="138.40" y2="49.57" stroke="#2eab44" stroke-width="0.9" opacity="0.85"/>
<line x1="133.20" y1="68.01" x2="138.40" y2="68.01" stroke="#2eab44" stroke-width="0.9" opacity="0.85"/>
<line x1="152.60" y1="51.28" x2="152.60" y2="69.72" stroke="#2eab44" stroke-width="0.75" opacity="0.85"/>
<line x1="150.00" y1="51.28" x2="155.20" y2="51.28" stroke="#2eab44" stroke-width="0.9" opacity="0.85"/>
<line x1="150.00" y1="69.72" x2="155.20" y2="69.72" stroke="#2eab44" stroke-width="0.9" opacity="0.85"/>
<line x1="169.50" y1="53.26" x2="169.50" y2="71.70" stroke="#2eab44" stroke-width="0.75" opacity="0.85"/>
<line x1="166.90" y1="53.26" x2="172.10" y2="53.26" stroke="#2eab44" stroke-width="0.9" opacity="0.85"/>
<line x1="166.90" y1="71.70" x2="172.10" y2="71.70" stroke="#2eab44" stroke-width="0.9" opacity="0.85"/>
<line x1="186.40" y1="53.52" x2="186.40" y2="74.59" stroke="#2eab44" stroke-width="0.75" opacity="0.85"/>
<line x1="183.80" y1="53.52" x2="189.00" y2="53.52" stroke="#2eab44" stroke-width="0.9" opacity="0.85"/>
<line x1="183.80" y1="74.59" x2="189.00" y2="74.59" stroke="#2eab44" stroke-width="0.9" opacity="0.85"/>
<polyline points="34.60,123.98 51.50,126.22 68.30,127.41 85.30,114.37 102.20,71.04 119.00,59.84 135.80,58.79 152.60,60.50 169.50,62.48 186.40,64.06" fill="none" stroke="#2eab44" stroke-width="1.4" stroke-linejoin="round"/>
<circle cx="34.60" cy="123.98" r="1.7" fill="#2eab44" />
<circle cx="51.50" cy="126.22" r="1.7" fill="#2eab44" />
<circle cx="68.30" cy="127.41" r="1.7" fill="#2eab44" />
<circle cx="85.30" cy="114.37" r="1.7" fill="#2eab44" />
<circle cx="102.20" cy="71.04" r="1.7" fill="#2eab44" />
<circle cx="119.00" cy="59.84" r="1.7" fill="#2eab44" />
<circle cx="135.80" cy="58.79" r="1.7" fill="#2eab44" />
<circle cx="152.60" cy="60.50" r="1.7" fill="#2eab44" />
<circle cx="169.50" cy="62.48" r="1.7" fill="#2eab44" />
<circle cx="186.40" cy="64.06" r="1.7" fill="#2eab44" />
<text x="320.80" y="22.10" font-size="8.9" text-anchor="middle" fill="#1a1a1a" stroke="#1a1a1a" stroke-width="0.22" textLength="127.70" lengthAdjust="spacingAndGlyphs" >Basal and PMA-stimulated OCR</text>
<text x="320.40" y="32.40" font-size="8.9" text-anchor="middle" fill="#1a1a1a" stroke="#1a1a1a" stroke-width="0.22" textLength="123.70" lengthAdjust="spacingAndGlyphs" >induced by type I vs. type II IFN</text>
<line x1="240.20" y1="39.60" x2="240.20" y2="149.90" stroke="#1a1a1a" stroke-width="1.3" />
<line x1="239.60" y1="149.30" x2="399.60" y2="149.30" stroke="#1a1a1a" stroke-width="1.3" />
<line x1="237.00" y1="149.30" x2="240.20" y2="149.30" stroke="#1a1a1a" stroke-width="1" />
<text x="234.10" y="151.85" font-size="8.2" text-anchor="end" fill="#1a1a1a" stroke="#1a1a1a" stroke-width="0.15" textLength="4.10" lengthAdjust="spacingAndGlyphs" >0</text>
<line x1="237.00" y1="122.96" x2="240.20" y2="122.96" stroke="#1a1a1a" stroke-width="1" />
<text x="234.10" y="125.51" font-size="8.2" text-anchor="end" fill="#1a1a1a" stroke="#1a1a1a" stroke-width="0.15" textLength="4.10" lengthAdjust="spacingAndGlyphs" >2</text>
<line x1="237.00" y1="96.62" x2="240.20" y2="96.62" stroke="#1a1a1a" stroke-width="1" />
<text x="234.10" y="99.17" font-size="8.2" text-anchor="end" fill="#1a1a1a" stroke="#1a1a1a" stroke-width="0.15" textLength="4.10" lengthAdjust="spacingAndGlyphs" >4</text>
<line x1="237.00" y1="70.28" x2="240.20" y2="70.28" stroke="#1a1a1a" stroke-width="1" />
<text x="234.10" y="72.83" font-size="8.2" text-anchor="end" fill="#1a1a1a" stroke="#1a1a1a" stroke-width="0.15" textLength="4.10" lengthAdjust="spacingAndGlyphs" >6</text>
<line x1="237.00" y1="43.94" x2="240.20" y2="43.94" stroke="#1a1a1a" stroke-width="1" />
<text x="234.10" y="46.49" font-size="8.2" text-anchor="end" fill="#1a1a1a" stroke="#1a1a1a" stroke-width="0.15" textLength="4.10" lengthAdjust="spacingAndGlyphs" >8</text>
<text x="222.10" y="97.37" font-size="8.8" text-anchor="middle" fill="#1a1a1a" stroke="#1a1a1a" stroke-width="0.22" textLength="78.00" lengthAdjust="spacingAndGlyphs" transform="rotate(-90 222.10 94.20)" >OCR (pmol/min/norm. unit)</text>
<line x1="279.30" y1="149.30" x2="279.30" y2="151.80" stroke="#1a1a1a" stroke-width="1" />
<line x1="359.70" y1="149.30" x2="359.70" y2="151.80" stroke="#1a1a1a" stroke-width="1" />
<text x="279.00" y="160.74" font-size="7.6" text-anchor="middle" fill="#1a1a1a" stroke="#1a1a1a" stroke-width="0.15" textLength="18.40" lengthAdjust="spacingAndGlyphs" >Basal</text>
<text x="359.80" y="160.74" font-size="7.6" text-anchor="middle" fill="#1a1a1a" stroke="#1a1a1a" stroke-width="0.15" textLength="52.00" lengthAdjust="spacingAndGlyphs" >PMA-stimulated</text>
<rect x="245.00" y="144.20" width="5.40" height="5.10" fill="#e58a98" />
<rect x="255.70" y="128.50" width="5.40" height="20.80" fill="#9ad89d" />
<rect x="266.20" y="135.00" width="5.40" height="14.30" fill="#c9ebca" />
<rect x="276.60" y="139.60" width="5.40" height="9.70" fill="#7ea2c6" />
<rect x="286.90" y="138.80" width="5.40" height="10.50" fill="#b6cbe0" />
<rect x="297.70" y="138.00" width="5.40" height="11.30" fill="#a58cbb" />
<rect x="308.20" y="136.50" width="5.40" height="12.80" fill="#cdbcdb" />
<line x1="247.70" y1="141.00" x2="247.70" y2="146.00" stroke="#222" stroke-width="0.8" />
<line x1="245.90" y1="141.00" x2="249.50" y2="141.00" stroke="#222" stroke-width="0.9" />
<line x1="245.90" y1="146.00" x2="249.50" y2="146.00" stroke="#222" stroke-width="0.9" />
<circle cx="246.80" cy="138.50" r="1.5" fill="#c8153c" />
<circle cx="248.60" cy="141.00" r="1.5" fill="#c8153c" />
<circle cx="246.50" cy="143.00" r="1.5" fill="#c8153c" />
<circle cx="248.90" cy="145.00" r="1.5" fill="#c8153c" />
<line x1="258.40" y1="125.00" x2="258.40" y2="132.00" stroke="#222" stroke-width="0.8" />
<line x1="256.60" y1="125.00" x2="260.20" y2="125.00" stroke="#222" stroke-width="0.9" />
<line x1="256.60" y1="132.00" x2="260.20" y2="132.00" stroke="#222" stroke-width="0.9" />
<circle cx="257.50" cy="121.90" r="1.5" fill="#2eab44" />
<circle cx="259.30" cy="123.50" r="1.5" fill="#2eab44" />
<circle cx="257.20" cy="129.20" r="1.5" fill="#2eab44" />
<circle cx="259.60" cy="131.20" r="1.5" fill="#2eab44" />
<line x1="268.90" y1="130.50" x2="268.90" y2="136.00" stroke="#222" stroke-width="0.8" />
<line x1="267.10" y1="130.50" x2="270.70" y2="130.50" stroke="#222" stroke-width="0.9" />
<line x1="267.10" y1="136.00" x2="270.70" y2="136.00" stroke="#222" stroke-width="0.9" />
<circle cx="268.00" cy="128.00" r="1.5" fill="#87d18c" />
<circle cx="269.80" cy="130.00" r="1.5" fill="#87d18c" />
<circle cx="267.70" cy="133.00" r="1.5" fill="#87d18c" />
<line x1="279.30" y1="136.50" x2="279.30" y2="141.00" stroke="#222" stroke-width="0.8" />
<line x1="277.50" y1="136.50" x2="281.10" y2="136.50" stroke="#222" stroke-width="0.9" />
<line x1="277.50" y1="141.00" x2="281.10" y2="141.00" stroke="#222" stroke-width="0.9" />
<circle cx="278.40" cy="135.00" r="1.5" fill="#0f4c8a" />
<circle cx="280.20" cy="137.00" r="1.5" fill="#0f4c8a" />
<circle cx="278.10" cy="138.50" r="1.5" fill="#0f4c8a" />
<circle cx="280.50" cy="140.00" r="1.5" fill="#0f4c8a" />
<line x1="289.60" y1="136.00" x2="289.60" y2="140.00" stroke="#222" stroke-width="0.8" />
<line x1="287.80" y1="136.00" x2="291.40" y2="136.00" stroke="#222" stroke-width="0.9" />
<line x1="287.80" y1="140.00" x2="291.40" y2="140.00" stroke="#222" stroke-width="0.9" />
<circle cx="288.70" cy="135.50" r="1.5" fill="#6a9bc8" />
<circle cx="290.50" cy="137.00" r="1.5" fill="#6a9bc8" />
<circle cx="288.40" cy="138.50" r="1.5" fill="#6a9bc8" />
<line x1="300.40" y1="135.00" x2="300.40" y2="141.00" stroke="#222" stroke-width="0.8" />
<line x1="298.60" y1="135.00" x2="302.20" y2="135.00" stroke="#222" stroke-width="0.9" />
<line x1="298.60" y1="141.00" x2="302.20" y2="141.00" stroke="#222" stroke-width="0.9" />
<circle cx="299.50" cy="134.20" r="1.5" fill="#4c1c74" />
<circle cx="301.30" cy="135.70" r="1.5" fill="#4c1c74" />
<circle cx="299.20" cy="138.50" r="1.5" fill="#4c1c74" />
<circle cx="301.60" cy="143.00" r="1.5" fill="#4c1c74" />
<line x1="310.90" y1="134.00" x2="310.90" y2="138.00" stroke="#222" stroke-width="0.8" />
<line x1="309.10" y1="134.00" x2="312.70" y2="134.00" stroke="#222" stroke-width="0.9" />
<line x1="309.10" y1="138.00" x2="312.70" y2="138.00" stroke="#222" stroke-width="0.9" />
<circle cx="310.00" cy="133.50" r="1.5" fill="#a486be" />
<circle cx="311.80" cy="135.50" r="1.5" fill="#a486be" />
<circle cx="309.70" cy="137.00" r="1.5" fill="#a486be" />
<rect x="325.90" y="119.40" width="5.40" height="29.90" fill="#e58a98" />
<rect x="336.30" y="70.60" width="5.40" height="78.70" fill="#9ad89d" />
<rect x="346.70" y="78.30" width="5.40" height="71.00" fill="#c9ebca" />
<rect x="357.20" y="104.70" width="5.40" height="44.60" fill="#7ea2c6" />
<rect x="367.70" y="110.90" width="5.40" height="38.40" fill="#b6cbe0" />
<rect x="378.20" y="110.90" width="5.40" height="38.40" fill="#a58cbb" />
<rect x="388.70" y="103.10" width="5.40" height="46.20" fill="#cdbcdb" />
<line x1="328.60" y1="111.70" x2="328.60" y2="125.60" stroke="#222" stroke-width="0.8" />
<line x1="326.80" y1="111.70" x2="330.40" y2="111.70" stroke="#222" stroke-width="0.9" />
<line x1="326.80" y1="125.60" x2="330.40" y2="125.60" stroke="#222" stroke-width="0.9" />
<circle cx="327.70" cy="110.90" r="1.5" fill="#c8153c" />
<circle cx="329.50" cy="112.80" r="1.5" fill="#c8153c" />
<circle cx="327.40" cy="117.00" r="1.5" fill="#c8153c" />
<circle cx="329.80" cy="122.50" r="1.5" fill="#c8153c" />
<circle cx="328.60" cy="128.70" r="1.5" fill="#c8153c" />
<line x1="339.00" y1="56.60" x2="339.00" y2="77.60" stroke="#222" stroke-width="0.8" />
<line x1="337.20" y1="56.60" x2="340.80" y2="56.60" stroke="#222" stroke-width="0.9" />
<line x1="337.20" y1="77.60" x2="340.80" y2="77.60" stroke="#222" stroke-width="0.9" />
<circle cx="338.10" cy="48.90" r="1.5" fill="#2eab44" />
<circle cx="339.90" cy="69.80" r="1.5" fill="#2eab44" />
<circle cx="337.80" cy="69.80" r="1.5" fill="#2eab44" />
<circle cx="340.20" cy="77.60" r="1.5" fill="#2eab44" />
<line x1="349.40" y1="66.20" x2="349.40" y2="88.40" stroke="#222" stroke-width="0.8" />
<line x1="347.60" y1="66.20" x2="351.20" y2="66.20" stroke="#222" stroke-width="0.9" />
<line x1="347.60" y1="88.40" x2="351.20" y2="88.40" stroke="#222" stroke-width="0.9" />
<circle cx="348.50" cy="66.20" r="1.5" fill="#87d18c" />
<circle cx="350.30" cy="73.40" r="1.5" fill="#87d18c" />
<circle cx="348.20" cy="77.60" r="1.5" fill="#87d18c" />
<circle cx="350.60" cy="94.90" r="1.5" fill="#87d18c" />
<line x1="359.90" y1="99.30" x2="359.90" y2="108.90" stroke="#222" stroke-width="0.8" />
<line x1="358.10" y1="99.30" x2="361.70" y2="99.30" stroke="#222" stroke-width="0.9" />
<line x1="358.10" y1="108.90" x2="361.70" y2="108.90" stroke="#222" stroke-width="0.9" />
<circle cx="359.00" cy="97.40" r="1.5" fill="#0f4c8a" />
<circle cx="360.80" cy="104.70" r="1.5" fill="#0f4c8a" />
<circle cx="358.70" cy="104.70" r="1.5" fill="#0f4c8a" />
<circle cx="361.10" cy="110.40" r="1.5" fill="#0f4c8a" />
<line x1="370.40" y1="103.60" x2="370.40" y2="113.20" stroke="#222" stroke-width="0.8" />
<line x1="368.60" y1="103.60" x2="372.20" y2="103.60" stroke="#222" stroke-width="0.9" />
<line x1="368.60" y1="113.20" x2="372.20" y2="113.20" stroke="#222" stroke-width="0.9" />
<circle cx="369.50" cy="99.30" r="1.5" fill="#6a9bc8" />
<circle cx="371.30" cy="108.30" r="1.5" fill="#6a9bc8" />
<circle cx="369.20" cy="110.90" r="1.5" fill="#6a9bc8" />
<circle cx="371.60" cy="114.80" r="1.5" fill="#6a9bc8" />
<line x1="380.90" y1="97.40" x2="380.90" y2="123.30" stroke="#222" stroke-width="0.8" />
<line x1="379.10" y1="97.40" x2="382.70" y2="97.40" stroke="#222" stroke-width="0.9" />
<line x1="379.10" y1="123.30" x2="382.70" y2="123.30" stroke="#222" stroke-width="0.9" />
<circle cx="380.00" cy="91.50" r="1.5" fill="#4c1c74" />
<circle cx="381.80" cy="103.90" r="1.5" fill="#4c1c74" />
<circle cx="379.70" cy="111.70" r="1.5" fill="#4c1c74" />
<circle cx="382.10" cy="116.60" r="1.5" fill="#4c1c74" />
<circle cx="380.90" cy="126.40" r="1.5" fill="#4c1c74" />
<line x1="391.40" y1="95.40" x2="391.40" y2="108.90" stroke="#222" stroke-width="0.8" />
<line x1="389.60" y1="95.40" x2="393.20" y2="95.40" stroke="#222" stroke-width="0.9" />
<line x1="389.60" y1="108.90" x2="393.20" y2="108.90" stroke="#222" stroke-width="0.9" />
<circle cx="390.50" cy="91.20" r="1.5" fill="#a486be" />
<circle cx="392.30" cy="100.30" r="1.5" fill="#a486be" />
<circle cx="390.20" cy="103.10" r="1.5" fill="#a486be" />
<circle cx="392.60" cy="106.20" r="1.5" fill="#a486be" />
<circle cx="391.40" cy="108.60" r="1.5" fill="#a486be" />
<line x1="420.30" y1="35.10" x2="431.80" y2="35.10" stroke="#c8153c" stroke-width="1.7" />
<circle cx="426.00" cy="35.10" r="1.6" fill="#c8153c" />
<text x="435.30" y="37.86" font-size="7.1" text-anchor="start" fill="#1a1a1a" stroke="#1a1a1a" stroke-width="0.08" textLength="26.00" lengthAdjust="spacingAndGlyphs" >Medium</text>
<line x1="420.30" y1="48.15" x2="431.80" y2="48.15" stroke="#2eab44" stroke-width="1.7" />
<circle cx="426.00" cy="48.15" r="1.6" fill="#2eab44" />
<text x="435.30" y="50.91" font-size="7.1" text-anchor="start" fill="#1a1a1a" stroke="#1a1a1a" stroke-width="0.08" textLength="50.00" lengthAdjust="spacingAndGlyphs" >IFN&#947; (50 ng/mL)</text>
<line x1="420.30" y1="61.20" x2="431.80" y2="61.20" stroke="#87d18c" stroke-width="1.7" />
<circle cx="426.00" cy="61.20" r="1.6" fill="#87d18c" />
<text x="435.30" y="63.96" font-size="7.1" text-anchor="start" fill="#1a1a1a" stroke="#1a1a1a" stroke-width="0.08" textLength="45.00" lengthAdjust="spacingAndGlyphs" >IFN&#947; (5 ng/mL)</text>
<line x1="420.30" y1="74.25" x2="431.80" y2="74.25" stroke="#0f4c8a" stroke-width="1.7" />
<circle cx="426.00" cy="74.25" r="1.6" fill="#0f4c8a" />
<text x="435.30" y="77.01" font-size="7.1" text-anchor="start" fill="#1a1a1a" stroke="#1a1a1a" stroke-width="0.08" textLength="51.00" lengthAdjust="spacingAndGlyphs" >IFN&#945; (50 ng/mL)</text>
<line x1="420.30" y1="87.30" x2="431.80" y2="87.30" stroke="#6a9bc8" stroke-width="1.7" />
<circle cx="426.00" cy="87.30" r="1.6" fill="#6a9bc8" />
<text x="435.30" y="90.06" font-size="7.1" text-anchor="start" fill="#1a1a1a" stroke="#1a1a1a" stroke-width="0.08" textLength="46.00" lengthAdjust="spacingAndGlyphs" >IFN&#945; (5 ng/mL)</text>
<line x1="420.30" y1="100.35" x2="431.80" y2="100.35" stroke="#4c1c74" stroke-width="1.7" />
<circle cx="426.00" cy="100.35" r="1.6" fill="#4c1c74" />
<text x="435.30" y="103.11" font-size="7.1" text-anchor="start" fill="#1a1a1a" stroke="#1a1a1a" stroke-width="0.08" textLength="50.50" lengthAdjust="spacingAndGlyphs" >IFN&#946; (50 ng/mL)</text>
<line x1="420.30" y1="113.40" x2="431.80" y2="113.40" stroke="#a486be" stroke-width="1.7" />
<circle cx="426.00" cy="113.40" r="1.6" fill="#a486be" />
<text x="435.30" y="116.16" font-size="7.1" text-anchor="start" fill="#1a1a1a" stroke="#1a1a1a" stroke-width="0.08" textLength="45.50" lengthAdjust="spacingAndGlyphs" >IFN&#946; (5 ng/mL)</text>
<text x="7.40" y="200.70" font-size="10.6" text-anchor="start" fill="#000" font-weight="bold" textLength="7.60" lengthAdjust="spacingAndGlyphs" >B</text>
<text x="95.30" y="207.40" font-size="8.9" text-anchor="middle" fill="#1a1a1a" stroke="#1a1a1a" stroke-width="0.22" textLength="96.70" lengthAdjust="spacingAndGlyphs" >Total mitochondrial mass</text>
<line x1="47.00" y1="219.70" x2="47.00" y2="325.80" stroke="#1a1a1a" stroke-width="1.3" />
<line x1="46.40" y1="325.20" x2="143.60" y2="325.20" stroke="#1a1a1a" stroke-width="1.3" />
<line x1="43.80" y1="325.20" x2="47.00" y2="325.20" stroke="#1a1a1a" stroke-width="1" />
<text x="40.90" y="327.75" font-size="8.2" text-anchor="end" fill="#1a1a1a" stroke="#1a1a1a" stroke-width="0.15" textLength="4.50" lengthAdjust="spacingAndGlyphs" >0</text>
<line x1="43.80" y1="299.95" x2="47.00" y2="299.95" stroke="#1a1a1a" stroke-width="1" />
<text x="40.90" y="302.50" font-size="8.2" text-anchor="end" fill="#1a1a1a" stroke="#1a1a1a" stroke-width="0.15" textLength="18.00" lengthAdjust="spacingAndGlyphs" >2000</text>
<line x1="43.80" y1="274.70" x2="47.00" y2="274.70" stroke="#1a1a1a" stroke-width="1" />
<text x="40.90" y="277.25" font-size="8.2" text-anchor="end" fill="#1a1a1a" stroke="#1a1a1a" stroke-width="0.15" textLength="18.00" lengthAdjust="spacingAndGlyphs" >4000</text>
<line x1="43.80" y1="249.45" x2="47.00" y2="249.45" stroke="#1a1a1a" stroke-width="1" />
<text x="40.90" y="252.00" font-size="8.2" text-anchor="end" fill="#1a1a1a" stroke="#1a1a1a" stroke-width="0.15" textLength="18.00" lengthAdjust="spacingAndGlyphs" >6000</text>
<line x1="43.80" y1="224.20" x2="47.00" y2="224.20" stroke="#1a1a1a" stroke-width="1" />
<text x="40.90" y="226.75" font-size="8.2" text-anchor="end" fill="#1a1a1a" stroke="#1a1a1a" stroke-width="0.15" textLength="18.00" lengthAdjust="spacingAndGlyphs" >8000</text>
<text x="12.20" y="275.47" font-size="8.8" text-anchor="middle" fill="#1a1a1a" stroke="#1a1a1a" stroke-width="0.22" textLength="103.00" lengthAdjust="spacingAndGlyphs" transform="rotate(-90 12.20 272.30)" >Geometric MFI (mito tracker green)</text>
<rect x="55.40" y="260.27" width="13.80" height="64.93" fill="#a58cbb" />
<rect x="78.70" y="273.10" width="13.80" height="52.10" fill="#7ea2c6" />
<rect x="101.90" y="286.53" width="13.80" height="38.67" fill="#9ad89d" />
<rect x="125.20" y="286.06" width="13.80" height="39.14" fill="#e58a98" />
<line x1="62.30" y1="252.00" x2="62.30" y2="267.00" stroke="#222" stroke-width="0.9" />
<line x1="58.80" y1="252.00" x2="65.80" y2="252.00" stroke="#222" stroke-width="1" />
<line x1="58.80" y1="267.00" x2="65.80" y2="267.00" stroke="#222" stroke-width="1" />
<circle cx="62.30" cy="251.50" r="1.7" fill="#4c1c74" />
<circle cx="62.30" cy="261.80" r="1.7" fill="#4c1c74" />
<circle cx="62.30" cy="266.00" r="1.7" fill="#4c1c74" />
<line x1="62.30" y1="325.20" x2="62.30" y2="327.70" stroke="#1a1a1a" stroke-width="1" />
<line x1="85.60" y1="265.00" x2="85.60" y2="280.00" stroke="#222" stroke-width="0.9" />
<line x1="82.10" y1="265.00" x2="89.10" y2="265.00" stroke="#222" stroke-width="1" />
<line x1="82.10" y1="280.00" x2="89.10" y2="280.00" stroke="#222" stroke-width="1" />
<circle cx="85.60" cy="265.30" r="1.7" fill="#0f4c8a" />
<circle cx="85.60" cy="270.80" r="1.7" fill="#0f4c8a" />
<circle cx="85.60" cy="279.60" r="1.7" fill="#0f4c8a" />
<line x1="85.60" y1="325.20" x2="85.60" y2="327.70" stroke="#1a1a1a" stroke-width="1" />
<line x1="108.80" y1="281.60" x2="108.80" y2="289.00" stroke="#222" stroke-width="0.9" />
<line x1="105.30" y1="281.60" x2="112.30" y2="281.60" stroke="#222" stroke-width="1" />
<line x1="105.30" y1="289.00" x2="112.30" y2="289.00" stroke="#222" stroke-width="1" />
<circle cx="103.50" cy="283.00" r="1.7" fill="#2eab44" />
<circle cx="114.00" cy="283.00" r="1.7" fill="#2eab44" />
<circle cx="108.80" cy="289.80" r="1.7" fill="#2eab44" />
<line x1="108.80" y1="325.20" x2="108.80" y2="327.70" stroke="#1a1a1a" stroke-width="1" />
<line x1="132.10" y1="280.30" x2="132.10" y2="288.90" stroke="#222" stroke-width="0.9" />
<line x1="128.60" y1="280.30" x2="135.60" y2="280.30" stroke="#222" stroke-width="1" />
<line x1="128.60" y1="288.90" x2="135.60" y2="288.90" stroke="#222" stroke-width="1" />
<circle cx="126.40" cy="281.00" r="1.7" fill="#c8153c" />
<circle cx="137.80" cy="283.40" r="1.7" fill="#c8153c" />
<circle cx="132.10" cy="289.20" r="1.7" fill="#c8153c" />
<line x1="132.10" y1="325.20" x2="132.10" y2="327.70" stroke="#1a1a1a" stroke-width="1" />
<path d="M61.8,226.4 L61.8,221.1 L132,221.1 L132,226.4" fill="none" stroke="#222" stroke-width="0.9" />
<path d="M61.8,244.6 L61.8,239.3 L108.8,239.3 L108.8,244.6" fill="none" stroke="#222" stroke-width="0.9" />
<text x="97.10" y="220.02" font-size="7" text-anchor="middle" fill="#1a1a1a" stroke="#1a1a1a" stroke-width="0.15" >**</text>
<text x="85.50" y="238.02" font-size="7" text-anchor="middle" fill="#1a1a1a" stroke="#1a1a1a" stroke-width="0.15" >**</text>
<text x="63.80" y="331.00" font-size="8.8" text-anchor="end" fill="#1a1a1a" stroke="#1a1a1a" stroke-width="0.1" textLength="44" lengthAdjust="spacingAndGlyphs" transform="rotate(-45 63.80 331.00)" dy="3.0">Unstimulated</text>
<text x="87.10" y="331.00" font-size="8.8" text-anchor="end" fill="#1a1a1a" stroke="#1a1a1a" stroke-width="0.1" textLength="14.5" lengthAdjust="spacingAndGlyphs" transform="rotate(-45 87.10 331.00)" dy="3.0">LPS</text>
<text x="110.30" y="331.00" font-size="8.8" text-anchor="end" fill="#1a1a1a" stroke="#1a1a1a" stroke-width="0.1" textLength="16.5" lengthAdjust="spacingAndGlyphs" transform="rotate(-45 110.30 331.00)" dy="3.0">IFN&#947;</text>
<text x="133.60" y="331.00" font-size="8.8" text-anchor="end" fill="#1a1a1a" stroke="#1a1a1a" stroke-width="0.1" textLength="33" lengthAdjust="spacingAndGlyphs" transform="rotate(-45 133.60 331.00)" dy="3.0">LPS+IFN&#947;</text>
<text x="7.20" y="494.40" font-size="10.6" text-anchor="start" fill="#000" font-weight="bold" textLength="7.80" lengthAdjust="spacingAndGlyphs" >C</text>
<text x="95.40" y="500.10" font-size="8.9" text-anchor="middle" fill="#1a1a1a" stroke="#1a1a1a" stroke-width="0.22" textLength="62.00" lengthAdjust="spacingAndGlyphs" >Glucose uptake</text>
<line x1="47.00" y1="525.80" x2="47.00" y2="632.50" stroke="#1a1a1a" stroke-width="1.3" />
<line x1="46.40" y1="631.90" x2="144.00" y2="631.90" stroke="#1a1a1a" stroke-width="1.3" />
<line x1="43.80" y1="631.90" x2="47.00" y2="631.90" stroke="#1a1a1a" stroke-width="1" />
<text x="40.90" y="634.45" font-size="8.2" text-anchor="end" fill="#1a1a1a" stroke="#1a1a1a" stroke-width="0.15" textLength="4.50" lengthAdjust="spacingAndGlyphs" >0</text>
<line x1="43.80" y1="611.62" x2="47.00" y2="611.62" stroke="#1a1a1a" stroke-width="1" />
<text x="40.90" y="614.17" font-size="8.2" text-anchor="end" fill="#1a1a1a" stroke="#1a1a1a" stroke-width="0.15" textLength="13.50" lengthAdjust="spacingAndGlyphs" >500</text>
<line x1="43.80" y1="591.34" x2="47.00" y2="591.34" stroke="#1a1a1a" stroke-width="1" />
<text x="40.90" y="593.89" font-size="8.2" text-anchor="end" fill="#1a1a1a" stroke="#1a1a1a" stroke-width="0.15" textLength="18.00" lengthAdjust="spacingAndGlyphs" >1000</text>
<line x1="43.80" y1="571.06" x2="47.00" y2="571.06" stroke="#1a1a1a" stroke-width="1" />
<text x="40.90" y="573.61" font-size="8.2" text-anchor="end" fill="#1a1a1a" stroke="#1a1a1a" stroke-width="0.15" textLength="18.00" lengthAdjust="spacingAndGlyphs" >1500</text>
<line x1="43.80" y1="550.78" x2="47.00" y2="550.78" stroke="#1a1a1a" stroke-width="1" />
<text x="40.90" y="553.33" font-size="8.2" text-anchor="end" fill="#1a1a1a" stroke="#1a1a1a" stroke-width="0.15" textLength="18.00" lengthAdjust="spacingAndGlyphs" >2000</text>
<line x1="43.80" y1="530.50" x2="47.00" y2="530.50" stroke="#1a1a1a" stroke-width="1" />
<text x="40.90" y="533.05" font-size="8.2" text-anchor="end" fill="#1a1a1a" stroke="#1a1a1a" stroke-width="0.15" textLength="18.00" lengthAdjust="spacingAndGlyphs" >2500</text>
<text x="12.20" y="586.67" font-size="8.8" text-anchor="middle" fill="#1a1a1a" stroke="#1a1a1a" stroke-width="0.22" textLength="75.00" lengthAdjust="spacingAndGlyphs" transform="rotate(-90 12.20 583.50)" >Geometric MFI (2-NBDG)</text>
<rect x="55.40" y="580.35" width="13.80" height="51.55" fill="#a58cbb" />
<rect x="78.80" y="551.19" width="13.80" height="80.71" fill="#7ea2c6" />
<rect x="102.00" y="569.76" width="13.80" height="62.14" fill="#9ad89d" />
<rect x="125.20" y="541.01" width="13.80" height="90.89" fill="#e58a98" />
<line x1="62.30" y1="578.00" x2="62.30" y2="582.00" stroke="#222" stroke-width="0.9" />
<line x1="58.80" y1="578.00" x2="65.80" y2="578.00" stroke="#222" stroke-width="1" />
<line x1="58.80" y1="582.00" x2="65.80" y2="582.00" stroke="#222" stroke-width="1" />
<circle cx="56.50" cy="580.50" r="1.7" fill="#4c1c74" />
<circle cx="62.30" cy="579.00" r="1.7" fill="#4c1c74" />
<circle cx="68.00" cy="580.00" r="1.7" fill="#4c1c74" />
<line x1="62.30" y1="631.90" x2="62.30" y2="634.40" stroke="#1a1a1a" stroke-width="1" />
<line x1="85.70" y1="544.80" x2="85.70" y2="555.80" stroke="#222" stroke-width="0.9" />
<line x1="82.20" y1="544.80" x2="89.20" y2="544.80" stroke="#222" stroke-width="1" />
<line x1="82.20" y1="555.80" x2="89.20" y2="555.80" stroke="#222" stroke-width="1" />
<circle cx="85.70" cy="545.00" r="1.7" fill="#0f4c8a" />
<circle cx="85.70" cy="549.50" r="1.7" fill="#0f4c8a" />
<circle cx="85.70" cy="555.50" r="1.7" fill="#0f4c8a" />
<line x1="85.70" y1="631.90" x2="85.70" y2="634.40" stroke="#1a1a1a" stroke-width="1" />
<line x1="108.90" y1="565.00" x2="108.90" y2="573.60" stroke="#222" stroke-width="0.9" />
<line x1="105.40" y1="565.00" x2="112.40" y2="565.00" stroke="#222" stroke-width="1" />
<line x1="105.40" y1="573.60" x2="112.40" y2="573.60" stroke="#222" stroke-width="1" />
<circle cx="102.50" cy="565.00" r="1.7" fill="#2eab44" />
<circle cx="115.20" cy="567.00" r="1.7" fill="#2eab44" />
<circle cx="108.90" cy="573.00" r="1.7" fill="#2eab44" />
<line x1="108.90" y1="631.90" x2="108.90" y2="634.40" stroke="#1a1a1a" stroke-width="1" />
<line x1="132.10" y1="535.20" x2="132.10" y2="546.70" stroke="#222" stroke-width="0.9" />
<line x1="128.60" y1="535.20" x2="135.60" y2="535.20" stroke="#222" stroke-width="1" />
<line x1="128.60" y1="546.70" x2="135.60" y2="546.70" stroke="#222" stroke-width="1" />
<circle cx="126.50" cy="537.00" r="1.7" fill="#c8153c" />
<circle cx="137.70" cy="538.00" r="1.7" fill="#c8153c" />
<circle cx="132.10" cy="546.00" r="1.7" fill="#c8153c" />
<line x1="132.10" y1="631.90" x2="132.10" y2="634.40" stroke="#1a1a1a" stroke-width="1" />
<path d="M62.5,516.5 L62.5,513 L132.7,513 L132.7,516.5" fill="none" stroke="#222" stroke-width="0.9" />
<path d="M62.5,526.7 L62.5,523 L108.7,523 L108.7,526.7" fill="none" stroke="#222" stroke-width="0.9" />
<path d="M62.5,537.8 L62.5,534.2 L85.6,534.2 L85.6,537.8" fill="none" stroke="#222" stroke-width="0.9" />
<text x="97.00" y="512.32" font-size="7" text-anchor="middle" fill="#1a1a1a" stroke="#1a1a1a" stroke-width="0.15" >****</text>
<text x="85.60" y="522.52" font-size="7" text-anchor="middle" fill="#1a1a1a" stroke="#1a1a1a" stroke-width="0.15" >*</text>
<text x="74.00" y="533.52" font-size="7" text-anchor="middle" fill="#1a1a1a" stroke="#1a1a1a" stroke-width="0.15" >****</text>
<text x="63.80" y="637.70" font-size="8.8" text-anchor="end" fill="#1a1a1a" stroke="#1a1a1a" stroke-width="0.1" textLength="44" lengthAdjust="spacingAndGlyphs" transform="rotate(-45 63.80 637.70)" dy="3.0">Unstimulated</text>
<text x="87.20" y="637.70" font-size="8.8" text-anchor="end" fill="#1a1a1a" stroke="#1a1a1a" stroke-width="0.1" textLength="14.5" lengthAdjust="spacingAndGlyphs" transform="rotate(-45 87.20 637.70)" dy="3.0">LPS</text>
<text x="110.40" y="637.70" font-size="8.8" text-anchor="end" fill="#1a1a1a" stroke="#1a1a1a" stroke-width="0.1" textLength="16.5" lengthAdjust="spacingAndGlyphs" transform="rotate(-45 110.40 637.70)" dy="3.0">IFN&#947;</text>
<text x="133.60" y="637.70" font-size="8.8" text-anchor="end" fill="#1a1a1a" stroke="#1a1a1a" stroke-width="0.1" textLength="33" lengthAdjust="spacingAndGlyphs" transform="rotate(-45 133.60 637.70)" dy="3.0">LPS+IFN&#947;</text>
<text x="155.90" y="200.80" font-size="10.6" text-anchor="start" fill="#000" font-weight="bold" textLength="7.80" lengthAdjust="spacingAndGlyphs" >D</text>
<path d="M160.55,217.50 L164.00,207.70 L167.45,217.50 L164.00,227.30 Z M168.46,217.50 L171.91,207.70 L175.36,217.50 L171.91,227.30 Z M176.37,217.50 L179.82,207.70 L183.27,217.50 L179.82,227.30 Z M184.28,217.50 L187.73,207.70 L191.18,217.50 L187.73,227.30 Z M192.19,217.50 L195.64,207.70 L199.09,217.50 L195.64,227.30 Z M200.10,217.50 L203.55,207.70 L207.00,217.50 L203.55,227.30 Z M208.01,217.50 L211.46,207.70 L214.91,217.50 L211.46,227.30 Z M215.92,217.50 L219.37,207.70 L222.82,217.50 L219.37,227.30 Z M223.83,217.50 L227.28,207.70 L230.73,217.50 L227.28,227.30 Z M231.74,217.50 L235.19,207.70 L238.64,217.50 L235.19,227.30 Z M239.65,217.50 L243.10,207.70 L246.55,217.50 L243.10,227.30 Z M247.56,217.50 L251.01,207.70 L254.46,217.50 L251.01,227.30 Z M255.47,217.50 L258.92,207.70 L262.37,217.50 L258.92,227.30 Z M263.38,217.50 L266.83,207.70 L270.28,217.50 L266.83,227.30 Z M271.29,217.50 L274.74,207.70 L278.19,217.50 L274.74,227.30 Z M279.20,217.50 L282.65,207.70 L286.10,217.50 L282.65,227.30 Z M287.11,217.50 L290.56,207.70 L294.01,217.50 L290.56,227.30 Z M295.02,217.50 L298.47,207.70 L301.92,217.50 L298.47,227.30 Z M302.93,217.50 L306.38,207.70 L309.83,217.50 L306.38,227.30 Z M310.84,217.50 L314.29,207.70 L317.74,217.50 L314.29,227.30 Z M318.75,217.50 L322.20,207.70 L325.65,217.50 L322.20,227.30 Z M326.66,217.50 L330.11,207.70 L333.56,217.50 L330.11,227.30 Z M334.57,217.50 L338.02,207.70 L341.47,217.50 L338.02,227.30 Z M342.48,217.50 L345.93,207.70 L349.38,217.50 L345.93,227.30 Z M350.39,217.50 L353.84,207.70 L357.29,217.50 L353.84,227.30 Z M358.30,217.50 L361.75,207.70 L365.20,217.50 L361.75,227.30 Z M366.21,217.50 L369.66,207.70 L373.11,217.50 L369.66,227.30 Z M374.12,217.50 L377.57,207.70 L381.02,217.50 L377.57,227.30 Z M382.03,217.50 L385.48,207.70 L388.93,217.50 L385.48,227.30 Z M389.94,217.50 L393.39,207.70 L396.84,217.50 L393.39,227.30 Z M397.85,217.50 L401.30,207.70 L404.75,217.50 L401.30,227.30 Z M405.76,217.50 L409.21,207.70 L412.66,217.50 L409.21,227.30 Z M413.67,217.50 L417.12,207.70 L420.57,217.50 L417.12,227.30 Z M421.58,217.50 L425.03,207.70 L428.48,217.50 L425.03,227.30 Z M429.49,217.50 L432.94,207.70 L436.39,217.50 L432.94,227.30 Z M437.40,217.50 L440.85,207.70 L444.30,217.50 L440.85,227.30 Z" fill="none" stroke="#4479ad" stroke-width="0.75" stroke-linejoin="round"/>
<line x1="160.55" y1="217.50" x2="444.30" y2="217.50" stroke="#e3ebf3" stroke-width="0.3" />
<ellipse cx="164.00" cy="207.70" rx="2.2" ry="1.15" fill="#0e4a82"/>
<ellipse cx="164.00" cy="227.30" rx="2.2" ry="1.15" fill="#0e4a82"/>
<ellipse cx="171.91" cy="207.70" rx="2.2" ry="1.15" fill="#0e4a82"/>
<ellipse cx="171.91" cy="227.30" rx="2.2" ry="1.15" fill="#0e4a82"/>
<ellipse cx="179.82" cy="207.70" rx="2.2" ry="1.15" fill="#0e4a82"/>
<ellipse cx="179.82" cy="227.30" rx="2.2" ry="1.15" fill="#0e4a82"/>
<ellipse cx="187.73" cy="207.70" rx="2.2" ry="1.15" fill="#0e4a82"/>
<ellipse cx="187.73" cy="227.30" rx="2.2" ry="1.15" fill="#0e4a82"/>
<ellipse cx="195.64" cy="207.70" rx="2.2" ry="1.15" fill="#0e4a82"/>
<ellipse cx="195.64" cy="227.30" rx="2.2" ry="1.15" fill="#0e4a82"/>
<ellipse cx="203.55" cy="207.70" rx="2.2" ry="1.15" fill="#0e4a82"/>
<ellipse cx="203.55" cy="227.30" rx="2.2" ry="1.15" fill="#0e4a82"/>
<ellipse cx="211.46" cy="207.70" rx="2.2" ry="1.15" fill="#0e4a82"/>
<ellipse cx="211.46" cy="227.30" rx="2.2" ry="1.15" fill="#0e4a82"/>
<ellipse cx="219.37" cy="207.70" rx="2.2" ry="1.15" fill="#0e4a82"/>
<ellipse cx="219.37" cy="227.30" rx="2.2" ry="1.15" fill="#0e4a82"/>
<ellipse cx="227.28" cy="207.70" rx="2.2" ry="1.15" fill="#0e4a82"/>
<ellipse cx="227.28" cy="227.30" rx="2.2" ry="1.15" fill="#0e4a82"/>
<ellipse cx="235.19" cy="207.70" rx="2.2" ry="1.15" fill="#0e4a82"/>
<ellipse cx="235.19" cy="227.30" rx="2.2" ry="1.15" fill="#0e4a82"/>
<ellipse cx="243.10" cy="207.70" rx="2.2" ry="1.15" fill="#0e4a82"/>
<ellipse cx="243.10" cy="227.30" rx="2.2" ry="1.15" fill="#0e4a82"/>
<ellipse cx="251.01" cy="207.70" rx="2.2" ry="1.15" fill="#0e4a82"/>
<ellipse cx="251.01" cy="227.30" rx="2.2" ry="1.15" fill="#0e4a82"/>
<ellipse cx="258.92" cy="207.70" rx="2.2" ry="1.15" fill="#0e4a82"/>
<ellipse cx="258.92" cy="227.30" rx="2.2" ry="1.15" fill="#0e4a82"/>
<ellipse cx="266.83" cy="207.70" rx="2.2" ry="1.15" fill="#0e4a82"/>
<ellipse cx="266.83" cy="227.30" rx="2.2" ry="1.15" fill="#0e4a82"/>
<ellipse cx="274.74" cy="207.70" rx="2.2" ry="1.15" fill="#0e4a82"/>
<ellipse cx="274.74" cy="227.30" rx="2.2" ry="1.15" fill="#0e4a82"/>
<ellipse cx="282.65" cy="207.70" rx="2.2" ry="1.15" fill="#0e4a82"/>
<ellipse cx="282.65" cy="227.30" rx="2.2" ry="1.15" fill="#0e4a82"/>
<ellipse cx="290.56" cy="207.70" rx="2.2" ry="1.15" fill="#0e4a82"/>
<ellipse cx="290.56" cy="227.30" rx="2.2" ry="1.15" fill="#0e4a82"/>
<ellipse cx="298.47" cy="207.70" rx="2.2" ry="1.15" fill="#0e4a82"/>
<ellipse cx="298.47" cy="227.30" rx="2.2" ry="1.15" fill="#0e4a82"/>
<ellipse cx="306.38" cy="207.70" rx="2.2" ry="1.15" fill="#0e4a82"/>
<ellipse cx="306.38" cy="227.30" rx="2.2" ry="1.15" fill="#0e4a82"/>
<ellipse cx="314.29" cy="207.70" rx="2.2" ry="1.15" fill="#0e4a82"/>
<ellipse cx="314.29" cy="227.30" rx="2.2" ry="1.15" fill="#0e4a82"/>
<ellipse cx="322.20" cy="207.70" rx="2.2" ry="1.15" fill="#0e4a82"/>
<ellipse cx="322.20" cy="227.30" rx="2.2" ry="1.15" fill="#0e4a82"/>
<ellipse cx="330.11" cy="207.70" rx="2.2" ry="1.15" fill="#0e4a82"/>
<ellipse cx="330.11" cy="227.30" rx="2.2" ry="1.15" fill="#0e4a82"/>
<ellipse cx="338.02" cy="207.70" rx="2.2" ry="1.15" fill="#0e4a82"/>
<ellipse cx="338.02" cy="227.30" rx="2.2" ry="1.15" fill="#0e4a82"/>
<ellipse cx="345.93" cy="207.70" rx="2.2" ry="1.15" fill="#0e4a82"/>
<ellipse cx="345.93" cy="227.30" rx="2.2" ry="1.15" fill="#0e4a82"/>
<ellipse cx="353.84" cy="207.70" rx="2.2" ry="1.15" fill="#0e4a82"/>
<ellipse cx="353.84" cy="227.30" rx="2.2" ry="1.15" fill="#0e4a82"/>
<ellipse cx="361.75" cy="207.70" rx="2.2" ry="1.15" fill="#0e4a82"/>
<ellipse cx="361.75" cy="227.30" rx="2.2" ry="1.15" fill="#0e4a82"/>
<ellipse cx="369.66" cy="207.70" rx="2.2" ry="1.15" fill="#0e4a82"/>
<ellipse cx="369.66" cy="227.30" rx="2.2" ry="1.15" fill="#0e4a82"/>
<ellipse cx="377.57" cy="207.70" rx="2.2" ry="1.15" fill="#0e4a82"/>
<ellipse cx="377.57" cy="227.30" rx="2.2" ry="1.15" fill="#0e4a82"/>
<ellipse cx="385.48" cy="207.70" rx="2.2" ry="1.15" fill="#0e4a82"/>
<ellipse cx="385.48" cy="227.30" rx="2.2" ry="1.15" fill="#0e4a82"/>
<ellipse cx="393.39" cy="207.70" rx="2.2" ry="1.15" fill="#0e4a82"/>
<ellipse cx="393.39" cy="227.30" rx="2.2" ry="1.15" fill="#0e4a82"/>
<ellipse cx="401.30" cy="207.70" rx="2.2" ry="1.15" fill="#0e4a82"/>
<ellipse cx="401.30" cy="227.30" rx="2.2" ry="1.15" fill="#0e4a82"/>
<ellipse cx="409.21" cy="207.70" rx="2.2" ry="1.15" fill="#0e4a82"/>
<ellipse cx="409.21" cy="227.30" rx="2.2" ry="1.15" fill="#0e4a82"/>
<ellipse cx="417.12" cy="207.70" rx="2.2" ry="1.15" fill="#0e4a82"/>
<ellipse cx="417.12" cy="227.30" rx="2.2" ry="1.15" fill="#0e4a82"/>
<ellipse cx="425.03" cy="207.70" rx="2.2" ry="1.15" fill="#0e4a82"/>
<ellipse cx="425.03" cy="227.30" rx="2.2" ry="1.15" fill="#0e4a82"/>
<ellipse cx="432.94" cy="207.70" rx="2.2" ry="1.15" fill="#0e4a82"/>
<ellipse cx="432.94" cy="227.30" rx="2.2" ry="1.15" fill="#0e4a82"/>
<ellipse cx="440.85" cy="207.70" rx="2.2" ry="1.15" fill="#0e4a82"/>
<ellipse cx="440.85" cy="227.30" rx="2.2" ry="1.15" fill="#0e4a82"/>
<path d="M160.55,282.90 L164.00,273.00 L167.45,282.90 L164.00,292.80 Z M168.46,282.90 L171.91,273.00 L175.36,282.90 L171.91,292.80 Z M176.37,282.90 L179.82,273.00 L183.27,282.90 L179.82,292.80 Z M184.28,282.90 L187.73,273.00 L191.18,282.90 L187.73,292.80 Z M192.19,282.90 L195.64,273.00 L199.09,282.90 L195.64,292.80 Z M200.10,282.90 L203.55,273.00 L207.00,282.90 L203.55,292.80 Z M208.01,282.90 L211.46,273.00 L214.91,282.90 L211.46,292.80 Z M215.92,282.90 L219.37,273.00 L222.82,282.90 L219.37,292.80 Z M223.83,282.90 L227.28,273.00 L230.73,282.90 L227.28,292.80 Z M231.74,282.90 L235.19,273.00 L238.64,282.90 L235.19,292.80 Z M239.65,282.90 L243.10,273.00 L246.55,282.90 L243.10,292.80 Z M247.56,282.90 L251.01,273.00 L254.46,282.90 L251.01,292.80 Z M255.47,282.90 L258.92,273.00 L262.37,282.90 L258.92,292.80 Z M263.38,282.90 L266.83,273.00 L270.28,282.90 L266.83,292.80 Z M271.29,282.90 L274.74,273.00 L278.19,282.90 L274.74,292.80 Z M279.20,282.90 L282.65,273.00 L286.10,282.90 L282.65,292.80 Z M287.11,282.90 L290.56,273.00 L294.01,282.90 L290.56,292.80 Z M295.02,282.90 L298.47,273.00 L301.92,282.90 L298.47,292.80 Z M302.93,282.90 L306.38,273.00 L309.83,282.90 L306.38,292.80 Z M310.84,282.90 L314.29,273.00 L317.74,282.90 L314.29,292.80 Z M318.75,282.90 L322.20,273.00 L325.65,282.90 L322.20,292.80 Z M326.66,282.90 L330.11,273.00 L333.56,282.90 L330.11,292.80 Z M334.57,282.90 L338.02,273.00 L341.47,282.90 L338.02,292.80 Z M342.48,282.90 L345.93,273.00 L349.38,282.90 L345.93,292.80 Z M350.39,282.90 L353.84,273.00 L357.29,282.90 L353.84,292.80 Z M358.30,282.90 L361.75,273.00 L365.20,282.90 L361.75,292.80 Z M366.21,282.90 L369.66,273.00 L373.11,282.90 L369.66,292.80 Z M374.12,282.90 L377.57,273.00 L381.02,282.90 L377.57,292.80 Z M382.03,282.90 L385.48,273.00 L388.93,282.90 L385.48,292.80 Z M389.94,282.90 L393.39,273.00 L396.84,282.90 L393.39,292.80 Z M397.85,282.90 L401.30,273.00 L404.75,282.90 L401.30,292.80 Z M405.76,282.90 L409.21,273.00 L412.66,282.90 L409.21,292.80 Z M413.67,282.90 L417.12,273.00 L420.57,282.90 L417.12,292.80 Z M421.58,282.90 L425.03,273.00 L428.48,282.90 L425.03,292.80 Z M429.49,282.90 L432.94,273.00 L436.39,282.90 L432.94,292.80 Z M437.40,282.90 L440.85,273.00 L444.30,282.90 L440.85,292.80 Z" fill="none" stroke="#4479ad" stroke-width="0.75" stroke-linejoin="round"/>
<line x1="160.55" y1="282.90" x2="444.30" y2="282.90" stroke="#e3ebf3" stroke-width="0.3" />
<ellipse cx="164.00" cy="273.00" rx="2.2" ry="1.15" fill="#0e4a82"/>
<ellipse cx="164.00" cy="292.80" rx="2.2" ry="1.15" fill="#0e4a82"/>
<ellipse cx="171.91" cy="273.00" rx="2.2" ry="1.15" fill="#0e4a82"/>
<ellipse cx="171.91" cy="292.80" rx="2.2" ry="1.15" fill="#0e4a82"/>
<ellipse cx="179.82" cy="273.00" rx="2.2" ry="1.15" fill="#0e4a82"/>
<ellipse cx="179.82" cy="292.80" rx="2.2" ry="1.15" fill="#0e4a82"/>
<ellipse cx="187.73" cy="273.00" rx="2.2" ry="1.15" fill="#0e4a82"/>
<ellipse cx="187.73" cy="292.80" rx="2.2" ry="1.15" fill="#0e4a82"/>
<ellipse cx="195.64" cy="273.00" rx="2.2" ry="1.15" fill="#0e4a82"/>
<ellipse cx="195.64" cy="292.80" rx="2.2" ry="1.15" fill="#0e4a82"/>
<ellipse cx="203.55" cy="273.00" rx="2.2" ry="1.15" fill="#0e4a82"/>
<ellipse cx="203.55" cy="292.80" rx="2.2" ry="1.15" fill="#0e4a82"/>
<ellipse cx="211.46" cy="273.00" rx="2.2" ry="1.15" fill="#0e4a82"/>
<ellipse cx="211.46" cy="292.80" rx="2.2" ry="1.15" fill="#0e4a82"/>
<ellipse cx="219.37" cy="273.00" rx="2.2" ry="1.15" fill="#0e4a82"/>
<ellipse cx="219.37" cy="292.80" rx="2.2" ry="1.15" fill="#0e4a82"/>
<ellipse cx="227.28" cy="273.00" rx="2.2" ry="1.15" fill="#0e4a82"/>
<ellipse cx="227.28" cy="292.80" rx="2.2" ry="1.15" fill="#0e4a82"/>
<ellipse cx="235.19" cy="273.00" rx="2.2" ry="1.15" fill="#0e4a82"/>
<ellipse cx="235.19" cy="292.80" rx="2.2" ry="1.15" fill="#0e4a82"/>
<ellipse cx="243.10" cy="273.00" rx="2.2" ry="1.15" fill="#0e4a82"/>
<ellipse cx="243.10" cy="292.80" rx="2.2" ry="1.15" fill="#0e4a82"/>
<ellipse cx="251.01" cy="273.00" rx="2.2" ry="1.15" fill="#0e4a82"/>
<ellipse cx="251.01" cy="292.80" rx="2.2" ry="1.15" fill="#0e4a82"/>
<ellipse cx="258.92" cy="273.00" rx="2.2" ry="1.15" fill="#0e4a82"/>
<ellipse cx="258.92" cy="292.80" rx="2.2" ry="1.15" fill="#0e4a82"/>
<ellipse cx="266.83" cy="273.00" rx="2.2" ry="1.15" fill="#0e4a82"/>
<ellipse cx="266.83" cy="292.80" rx="2.2" ry="1.15" fill="#0e4a82"/>
<ellipse cx="274.74" cy="273.00" rx="2.2" ry="1.15" fill="#0e4a82"/>
<ellipse cx="274.74" cy="292.80" rx="2.2" ry="1.15" fill="#0e4a82"/>
<ellipse cx="282.65" cy="273.00" rx="2.2" ry="1.15" fill="#0e4a82"/>
<ellipse cx="282.65" cy="292.80" rx="2.2" ry="1.15" fill="#0e4a82"/>
<ellipse cx="290.56" cy="273.00" rx="2.2" ry="1.15" fill="#0e4a82"/>
<ellipse cx="290.56" cy="292.80" rx="2.2" ry="1.15" fill="#0e4a82"/>
<ellipse cx="298.47" cy="273.00" rx="2.2" ry="1.15" fill="#0e4a82"/>
<ellipse cx="298.47" cy="292.80" rx="2.2" ry="1.15" fill="#0e4a82"/>
<ellipse cx="306.38" cy="273.00" rx="2.2" ry="1.15" fill="#0e4a82"/>
<ellipse cx="306.38" cy="292.80" rx="2.2" ry="1.15" fill="#0e4a82"/>
<ellipse cx="314.29" cy="273.00" rx="2.2" ry="1.15" fill="#0e4a82"/>
<ellipse cx="314.29" cy="292.80" rx="2.2" ry="1.15" fill="#0e4a82"/>
<ellipse cx="322.20" cy="273.00" rx="2.2" ry="1.15" fill="#0e4a82"/>
<ellipse cx="322.20" cy="292.80" rx="2.2" ry="1.15" fill="#0e4a82"/>
<ellipse cx="330.11" cy="273.00" rx="2.2" ry="1.15" fill="#0e4a82"/>
<ellipse cx="330.11" cy="292.80" rx="2.2" ry="1.15" fill="#0e4a82"/>
<ellipse cx="338.02" cy="273.00" rx="2.2" ry="1.15" fill="#0e4a82"/>
<ellipse cx="338.02" cy="292.80" rx="2.2" ry="1.15" fill="#0e4a82"/>
<ellipse cx="345.93" cy="273.00" rx="2.2" ry="1.15" fill="#0e4a82"/>
<ellipse cx="345.93" cy="292.80" rx="2.2" ry="1.15" fill="#0e4a82"/>
<ellipse cx="353.84" cy="273.00" rx="2.2" ry="1.15" fill="#0e4a82"/>
<ellipse cx="353.84" cy="292.80" rx="2.2" ry="1.15" fill="#0e4a82"/>
<ellipse cx="361.75" cy="273.00" rx="2.2" ry="1.15" fill="#0e4a82"/>
<ellipse cx="361.75" cy="292.80" rx="2.2" ry="1.15" fill="#0e4a82"/>
<ellipse cx="369.66" cy="273.00" rx="2.2" ry="1.15" fill="#0e4a82"/>
<ellipse cx="369.66" cy="292.80" rx="2.2" ry="1.15" fill="#0e4a82"/>
<ellipse cx="377.57" cy="273.00" rx="2.2" ry="1.15" fill="#0e4a82"/>
<ellipse cx="377.57" cy="292.80" rx="2.2" ry="1.15" fill="#0e4a82"/>
<ellipse cx="385.48" cy="273.00" rx="2.2" ry="1.15" fill="#0e4a82"/>
<ellipse cx="385.48" cy="292.80" rx="2.2" ry="1.15" fill="#0e4a82"/>
<ellipse cx="393.39" cy="273.00" rx="2.2" ry="1.15" fill="#0e4a82"/>
<ellipse cx="393.39" cy="292.80" rx="2.2" ry="1.15" fill="#0e4a82"/>
<ellipse cx="401.30" cy="273.00" rx="2.2" ry="1.15" fill="#0e4a82"/>
<ellipse cx="401.30" cy="292.80" rx="2.2" ry="1.15" fill="#0e4a82"/>
<ellipse cx="409.21" cy="273.00" rx="2.2" ry="1.15" fill="#0e4a82"/>
<ellipse cx="409.21" cy="292.80" rx="2.2" ry="1.15" fill="#0e4a82"/>
<ellipse cx="417.12" cy="273.00" rx="2.2" ry="1.15" fill="#0e4a82"/>
<ellipse cx="417.12" cy="292.80" rx="2.2" ry="1.15" fill="#0e4a82"/>
<ellipse cx="425.03" cy="273.00" rx="2.2" ry="1.15" fill="#0e4a82"/>
<ellipse cx="425.03" cy="292.80" rx="2.2" ry="1.15" fill="#0e4a82"/>
<ellipse cx="432.94" cy="273.00" rx="2.2" ry="1.15" fill="#0e4a82"/>
<ellipse cx="432.94" cy="292.80" rx="2.2" ry="1.15" fill="#0e4a82"/>
<ellipse cx="440.85" cy="273.00" rx="2.2" ry="1.15" fill="#0e4a82"/>
<ellipse cx="440.85" cy="292.80" rx="2.2" ry="1.15" fill="#0e4a82"/>
<text x="478.70" y="217.64" font-size="7.9" text-anchor="middle" fill="#1a1a1a" stroke="#1a1a1a" stroke-width="0.15" textLength="65.30" lengthAdjust="spacingAndGlyphs" >Outer mitochondrial</text>
<text x="478.70" y="227.04" font-size="7.9" text-anchor="middle" fill="#1a1a1a" stroke="#1a1a1a" stroke-width="0.15" textLength="34.70" lengthAdjust="spacingAndGlyphs" >membrane</text>
<text x="465.00" y="242.44" font-size="7.9" text-anchor="middle" fill="#1a1a1a" stroke="#1a1a1a" stroke-width="0.15" font-style="italic" textLength="50.00" lengthAdjust="spacingAndGlyphs" >Intermembrane</text>
<text x="465.00" y="250.74" font-size="7.9" text-anchor="middle" fill="#1a1a1a" stroke="#1a1a1a" stroke-width="0.15" font-style="italic" textLength="19.80" lengthAdjust="spacingAndGlyphs" >space</text>
<text x="478.80" y="282.44" font-size="7.9" text-anchor="middle" fill="#1a1a1a" stroke="#1a1a1a" stroke-width="0.15" textLength="62.00" lengthAdjust="spacingAndGlyphs" >Inner mitochondrial</text>
<text x="478.60" y="291.34" font-size="7.9" text-anchor="middle" fill="#1a1a1a" stroke="#1a1a1a" stroke-width="0.15" textLength="34.50" lengthAdjust="spacingAndGlyphs" >membrane</text>
<text x="465.20" y="314.24" font-size="7.9" text-anchor="middle" fill="#1a1a1a" stroke="#1a1a1a" stroke-width="0.15" font-style="italic" textLength="45.00" lengthAdjust="spacingAndGlyphs" >Mitochondrial</text>
<text x="465.20" y="322.84" font-size="7.9" text-anchor="middle" fill="#1a1a1a" stroke="#1a1a1a" stroke-width="0.15" font-style="italic" textLength="20.70" lengthAdjust="spacingAndGlyphs" >matrix</text>
<ellipse cx="184.5" cy="282.6" rx="15.9" ry="27.1" fill="#fff" stroke="#1d5e98" stroke-width="1.1"/>
<ellipse cx="296.0" cy="282.6" rx="18.85" ry="27.7" fill="#fff" stroke="#1d5e98" stroke-width="1.1"/>
<ellipse cx="364.6" cy="282.65" rx="18.5" ry="27.35" fill="#fff" stroke="#1d5e98" stroke-width="1.1"/>
<ellipse cx="417.2" cy="300.15" rx="22.6" ry="44.85" fill="#fff" stroke="#1d5e98" stroke-width="1.1"/>
<ellipse cx="234.6" cy="293.7" rx="21.0" ry="10.6" fill="#fff" stroke="#1d5e98" stroke-width="1.1"/>
<ellipse cx="263.1" cy="271.9" rx="10.65" ry="12.75" fill="#fff" stroke="#1d5e98" stroke-width="1.1"/>
<ellipse cx="330.5" cy="271.7" rx="12.05" ry="12.5" fill="#fff" stroke="#1d5e98" stroke-width="1.1"/>
<text x="184.50" y="285.46" font-size="8.5" text-anchor="middle" fill="#1a1a1a" stroke="#1a1a1a" stroke-width="0.15" textLength="29.50" lengthAdjust="spacingAndGlyphs" >Complex I</text>
<text x="234.80" y="297.06" font-size="8.5" text-anchor="middle" fill="#1a1a1a" stroke="#1a1a1a" stroke-width="0.15" textLength="31.50" lengthAdjust="spacingAndGlyphs" >Complex II</text>
<text x="263.30" y="274.96" font-size="8.5" text-anchor="middle" fill="#1a1a1a" stroke="#1a1a1a" stroke-width="0.15" textLength="15.80" lengthAdjust="spacingAndGlyphs" >CoQ</text>
<text x="296.00" y="285.36" font-size="8.5" text-anchor="middle" fill="#1a1a1a" stroke="#1a1a1a" stroke-width="0.15" textLength="34.20" lengthAdjust="spacingAndGlyphs" >Complex III</text>
<text x="329.50" y="275.06" font-size="8.5" text-anchor="middle" fill="#1a1a1a" stroke="#1a1a1a" stroke-width="0.15" textLength="18.90" lengthAdjust="spacingAndGlyphs" >Cyt C</text>
<text x="365.00" y="285.26" font-size="8.5" text-anchor="middle" fill="#1a1a1a" stroke="#1a1a1a" stroke-width="0.15" textLength="33.90" lengthAdjust="spacingAndGlyphs" >Complex IV</text>
<text x="416.70" y="302.86" font-size="8.5" text-anchor="middle" fill="#1a1a1a" stroke="#1a1a1a" stroke-width="0.15" textLength="35.90" lengthAdjust="spacingAndGlyphs" >Complex V</text>
<line x1="184.50" y1="264.50" x2="184.50" y2="247.30" stroke="#1d5e98" stroke-width="1.2" />
<path d="M181.90,248.00 L184.50,243.80 L187.10,248.00 Z" fill="#0e4a82" stroke="none" stroke-width="1" />
<line x1="296.30" y1="264.50" x2="296.30" y2="247.30" stroke="#1d5e98" stroke-width="1.2" />
<path d="M293.70,248.00 L296.30,243.80 L298.90,248.00 Z" fill="#0e4a82" stroke="none" stroke-width="1" />
<line x1="363.70" y1="264.50" x2="363.70" y2="247.40" stroke="#1d5e98" stroke-width="1.2" />
<path d="M361.10,248.10 L363.70,243.90 L366.30,248.10 Z" fill="#0e4a82" stroke="none" stroke-width="1" />
<text x="176.90" y="239.80" font-size="7.9" fill="#1a1a1a" stroke="#1a1a1a" stroke-width="0.15" textLength="10.40" lengthAdjust="spacingAndGlyphs">2H</text>
<text x="187.90" y="236.60" font-size="5.4" fill="#1a1a1a" stroke="#1a1a1a" stroke-width="0.15" textLength="2.60" lengthAdjust="spacingAndGlyphs">+</text>
<text x="289.80" y="239.80" font-size="7.9" fill="#1a1a1a" stroke="#1a1a1a" stroke-width="0.15" textLength="10.40" lengthAdjust="spacingAndGlyphs">4H</text>
<text x="300.80" y="236.60" font-size="5.4" fill="#1a1a1a" stroke="#1a1a1a" stroke-width="0.15" textLength="2.60" lengthAdjust="spacingAndGlyphs">+</text>
<text x="357.10" y="239.80" font-size="7.9" fill="#1a1a1a" stroke="#1a1a1a" stroke-width="0.15" textLength="10.40" lengthAdjust="spacingAndGlyphs">2H</text>
<text x="368.10" y="236.60" font-size="5.4" fill="#1a1a1a" stroke="#1a1a1a" stroke-width="0.15" textLength="2.60" lengthAdjust="spacingAndGlyphs">+</text>
<text x="410.40" y="239.80" font-size="7.9" fill="#1a1a1a" stroke="#1a1a1a" stroke-width="0.15" textLength="10.40" lengthAdjust="spacingAndGlyphs">3H</text>
<text x="421.40" y="236.60" font-size="5.4" fill="#1a1a1a" stroke="#1a1a1a" stroke-width="0.15" textLength="2.60" lengthAdjust="spacingAndGlyphs">+</text>
<line x1="417.30" y1="242.80" x2="417.30" y2="293.90" stroke="#1d5e98" stroke-width="1.0" stroke-dasharray="1.6,1.2"/>
<line x1="417.30" y1="306.90" x2="417.30" y2="352.50" stroke="#1d5e98" stroke-width="1.0" stroke-dasharray="1.6,1.2"/>
<path d="M415.1,352.2 L417.3,356.0 L419.5,352.2 Z" fill="#0e4a82" stroke="none" stroke-width="1" />
<text x="410.50" y="363.80" font-size="7.9" fill="#1a1a1a" stroke="#1a1a1a" stroke-width="0.15" textLength="11.00" lengthAdjust="spacingAndGlyphs">3H</text>
<text x="421.60" y="360.60" font-size="5.2" fill="#1a1a1a" stroke="#1a1a1a" stroke-width="0.15" textLength="3.00" lengthAdjust="spacingAndGlyphs">+</text>
<path d="M171.20,331.70 L171.20,320.01 C171.20,307.33 197.90,307.33 197.90,320.01 L197.90,326.80" fill="none" stroke="#1d5e98" stroke-width="1.5" />
<path d="M194.90,325.60 L197.90,330.80 L200.90,325.60 L197.90,326.60 Z" fill="#0e4a82" stroke="none" stroke-width="1" />
<path d="M350.50,332.00 L350.50,319.94 C350.50,307.35 377.00,307.35 377.00,319.94 L377.00,326.80" fill="none" stroke="#1d5e98" stroke-width="1.5" />
<path d="M374.00,325.60 L377.00,330.80 L380.00,325.60 L377.00,326.60 Z" fill="#0e4a82" stroke="none" stroke-width="1" />
<path d="M394.0,367.6 L394.0,353.0 Q394.0,345.4 401.6,345.4 L431.6,345.4 Q439.2,345.4 439.2,353.0 L439.2,361.5" fill="none" stroke="#1d5e98" stroke-width="1.5" />
<path d="M436.2,361.2 L439.2,366.6 L442.2,361.2 L439.2,362.2 Z" fill="#0e4a82" stroke="none" stroke-width="1" />
<text x="172.20" y="340.34" font-size="7.9" text-anchor="middle" fill="#1a1a1a" stroke="#1a1a1a" stroke-width="0.15" textLength="21.50" lengthAdjust="spacingAndGlyphs" >NADH</text>
<text x="198.00" y="340.34" font-size="7.9" text-anchor="middle" fill="#1a1a1a" stroke="#1a1a1a" stroke-width="0.15" textLength="20.00" lengthAdjust="spacingAndGlyphs" >NAD+</text>
<text x="341.70" y="341.30" font-size="7.9" fill="#1a1a1a" stroke="#1a1a1a" stroke-width="0.15" textLength="6.30" lengthAdjust="spacingAndGlyphs">&#189;</text>
<text x="350.20" y="341.30" font-size="7.9" fill="#1a1a1a" stroke="#1a1a1a" stroke-width="0.15" textLength="5.60" lengthAdjust="spacingAndGlyphs">O</text>
<text x="356.00" y="344.40" font-size="5.6" fill="#1a1a1a" stroke="#1a1a1a" stroke-width="0.15" textLength="3.00" lengthAdjust="spacingAndGlyphs">2</text>
<text x="369.40" y="341.30" font-size="7.9" fill="#1a1a1a" stroke="#1a1a1a" stroke-width="0.15" textLength="5.00" lengthAdjust="spacingAndGlyphs">H</text>
<text x="374.50" y="344.40" font-size="5.6" fill="#1a1a1a" stroke="#1a1a1a" stroke-width="0.15" textLength="2.80" lengthAdjust="spacingAndGlyphs">2</text>
<text x="377.50" y="341.30" font-size="7.9" fill="#1a1a1a" stroke="#1a1a1a" stroke-width="0.15" textLength="6.50" lengthAdjust="spacingAndGlyphs">O</text>
<text x="378.10" y="378.00" font-size="7.9" fill="#1a1a1a" stroke="#1a1a1a" stroke-width="0.15" textLength="29.00" lengthAdjust="spacingAndGlyphs">ADP + P</text>
<text x="407.80" y="379.60" font-size="5.6" fill="#1a1a1a" stroke="#1a1a1a" stroke-width="0.15" textLength="1.60" lengthAdjust="spacingAndGlyphs">i</text>
<text x="420.30" y="378.00" font-size="7.9" fill="#1a1a1a" stroke="#1a1a1a" stroke-width="0.15" textLength="26.50" lengthAdjust="spacingAndGlyphs">ATP + H</text>
<text x="447.20" y="380.60" font-size="5.6" fill="#1a1a1a" stroke="#1a1a1a" stroke-width="0.15" textLength="3.00" lengthAdjust="spacingAndGlyphs">2</text>
<text x="451.10" y="378.00" font-size="7.9" fill="#1a1a1a" stroke="#1a1a1a" stroke-width="0.15" textLength="7.80" lengthAdjust="spacingAndGlyphs">O</text>
<line x1="206.00" y1="367.30" x2="176.50" y2="346.50" stroke="#3db54a" stroke-width="0.9" />
<path d="M173.8,344.6 L178.9,345.9 L176.2,349.5 Z" fill="#3db54a" stroke="none" stroke-width="1" />
<text x="221.50" y="370.54" font-size="7.9" text-anchor="middle" fill="#3db54a" stroke="#3db54a" stroke-width="0.15" textLength="21.00" lengthAdjust="spacingAndGlyphs" >NADH</text>
<defs><linearGradient id="gB" gradientUnits="userSpaceOnUse" x1="239" y1="0" x2="295" y2="0"><stop offset="0" stop-color="#0c4985"/><stop offset="0.5" stop-color="#1d5b96"/><stop offset="1" stop-color="#4a7fb1"/></linearGradient></defs>
<path d="M239.00,367.70 L239.03,366.11 L239.13,364.52 L239.28,362.94 L239.50,361.37 L239.78,359.81 L240.13,358.27 L240.53,356.75 L240.99,355.26 L241.51,353.79 L242.09,352.36 L242.72,350.96 L243.41,349.60 L244.15,348.28 L244.95,347.00 L245.79,345.77 L246.68,344.59 L247.61,343.46 L248.59,342.38 L249.61,341.36 L250.67,340.40 L251.77,339.50 L252.90,338.67 L254.06,337.90 L255.26,337.20 L256.47,336.56 L257.71,336.00 L258.98,335.51 L260.26,335.09 L261.55,334.74 L262.86,334.47 L264.18,334.27 L265.50,334.15 L266.83,334.10 L268.16,334.13 L269.48,334.23 L270.80,334.41 L272.11,334.66 L273.41,334.99 L274.69,335.39 L275.96,335.87 L277.21,336.41 L278.43,337.03 L279.63,337.71 L280.80,338.47 L281.94,339.28 L283.05,340.17 L284.12,341.11 L285.15,342.11 L286.14,343.17 L287.08,344.29 L287.99,345.46 L288.84,346.68 L289.65,347.94 L290.40,349.25 L291.10,350.60 L291.75,351.99 L292.35,353.42 L292.88,354.88 L293.36,356.36 L293.78,357.88 L291.29,358.64 L290.92,357.24 L290.49,355.87 L290.01,354.52 L289.48,353.20 L288.90,351.91 L288.26,350.66 L287.58,349.44 L286.86,348.27 L286.08,347.14 L285.27,346.05 L284.41,345.02 L283.51,344.03 L282.58,343.10 L281.61,342.22 L280.61,341.40 L279.57,340.64 L278.51,339.93 L277.42,339.29 L276.31,338.72 L275.17,338.20 L274.02,337.76 L272.85,337.38 L271.66,337.07 L270.47,336.83 L269.27,336.66 L268.06,336.55 L266.84,336.52 L265.63,336.56 L264.42,336.67 L263.22,336.84 L262.03,337.13 L260.85,337.49 L259.70,337.91 L258.56,338.40 L257.44,338.96 L256.35,339.58 L255.29,340.26 L254.26,341.00 L253.26,341.80 L252.29,342.65 L251.35,343.56 L250.46,344.52 L249.61,345.53 L248.79,346.59 L248.02,347.69 L247.30,348.84 L246.62,350.02 L245.99,351.25 L245.41,352.50 L244.88,353.79 L244.40,355.11 L243.97,356.45 L243.59,357.81 L243.27,359.19 L243.01,360.59 L242.80,362.00 L242.64,363.42 L242.54,364.84 L242.49,366.27 L242.50,367.70 Z" fill="url(#gB)" stroke="none" stroke-width="1" />
<path d="M288.0,358.6 L298.2,358.6 L293.2,366.8 Z" fill="#3e76aa" stroke="none" stroke-width="1" />
<defs><linearGradient id="gA" gradientUnits="userSpaceOnUse" x1="239" y1="0" x2="295" y2="0"><stop offset="0" stop-color="#4e83b5"/><stop offset="0.3" stop-color="#7fa5c8"/><stop offset="0.5" stop-color="#e2eaf2"/><stop offset="0.68" stop-color="#3a72a8"/><stop offset="1" stop-color="#0c4985"/></linearGradient></defs>
<path d="M294.98,368.87 L294.91,370.44 L294.77,372.01 L294.57,373.56 L294.31,375.11 L293.99,376.63 L293.61,378.14 L293.18,379.62 L292.68,381.08 L292.13,382.51 L291.53,383.90 L290.87,385.26 L290.16,386.59 L289.40,387.87 L288.58,389.10 L287.73,390.29 L286.82,391.43 L285.87,392.52 L284.89,393.55 L283.86,394.53 L282.79,395.45 L281.69,396.30 L280.56,397.10 L279.40,397.83 L278.21,398.49 L277.00,399.09 L275.76,399.61 L274.51,400.07 L273.24,400.46 L271.95,400.77 L270.65,401.01 L269.35,401.18 L268.04,401.28 L266.73,401.30 L265.42,401.25 L264.11,401.12 L262.81,400.92 L261.52,400.65 L260.24,400.31 L258.98,399.89 L257.73,399.41 L256.50,398.85 L255.30,398.23 L254.12,397.54 L252.97,396.78 L251.85,395.96 L250.77,395.08 L249.72,394.13 L248.70,393.14 L247.73,392.08 L246.80,390.97 L245.92,389.81 L245.08,388.60 L244.29,387.35 L243.54,386.05 L242.85,384.71 L242.22,383.34 L241.63,381.93 L241.11,380.49 L240.64,379.02 L240.22,377.52 L242.71,376.76 L243.05,378.15 L243.45,379.52 L243.90,380.87 L244.40,382.19 L244.95,383.48 L245.55,384.74 L246.21,385.96 L246.90,387.15 L247.65,388.30 L248.44,389.40 L249.27,390.46 L250.14,391.47 L251.05,392.43 L252.00,393.34 L252.99,394.19 L254.01,394.99 L255.06,395.73 L256.14,396.41 L257.24,397.03 L258.37,397.58 L259.52,398.07 L260.69,398.50 L261.88,398.85 L263.08,399.14 L264.30,399.36 L265.52,399.52 L266.75,399.60 L267.98,399.61 L269.21,399.55 L270.45,399.43 L271.66,399.14 L272.85,398.78 L274.03,398.36 L275.19,397.87 L276.32,397.31 L277.43,396.69 L278.50,396.02 L279.55,395.28 L280.57,394.48 L281.55,393.63 L282.50,392.72 L283.40,391.77 L284.27,390.76 L285.09,389.71 L285.88,388.61 L286.61,387.47 L287.30,386.29 L287.94,385.08 L288.53,383.83 L289.08,382.55 L289.57,381.25 L290.01,379.92 L290.39,378.57 L290.72,377.19 L291.00,375.81 L291.23,374.41 L291.40,373.00 L291.52,371.59 L291.58,370.17 L291.59,368.75 Z" fill="url(#gA)" stroke="none" stroke-width="1" />
<path d="M236.2,376.8 L246.4,376.8 L241.3,368.2 Z" fill="#3f78ad" stroke="none" stroke-width="1" />
<text x="267.40" y="365.50" font-size="10.0" text-anchor="middle" fill="#1a1a1a" stroke="#1a1a1a" stroke-width="0.15" textLength="17.90" lengthAdjust="spacingAndGlyphs" >TCA</text>
<text x="267.00" y="377.20" font-size="10.0" text-anchor="middle" fill="#1a1a1a" stroke="#1a1a1a" stroke-width="0.15" textLength="20.20" lengthAdjust="spacingAndGlyphs" >cycle</text>
<line x1="343.80" y1="393.80" x2="300.50" y2="383.00" stroke="#2f6aa3" stroke-width="0.9" />
<path d="M296.9,382.0 L302.0,381.2 L301.0,385.2 Z" fill="#2f6aa3" stroke="none" stroke-width="1" />
<text x="324.60" y="382.34" font-size="7.9" text-anchor="middle" fill="#1a1a1a" stroke="#1a1a1a" stroke-width="0.15" textLength="27.70" lengthAdjust="spacingAndGlyphs" >UK5099</text>
<text x="346.60" y="397.24" font-size="7.9" text-anchor="start" fill="#2f6aa3" stroke="#2f6aa3" stroke-width="0.15" textLength="28.20" lengthAdjust="spacingAndGlyphs" >Pyruvate</text>
<line x1="318.50" y1="384.70" x2="324.50" y2="390.70" stroke="#111" stroke-width="1.05" />
<line x1="318.50" y1="390.70" x2="324.50" y2="384.70" stroke="#111" stroke-width="1.05" />
<line x1="320.40" y1="423.50" x2="289.50" y2="398.20" stroke="#f39a1e" stroke-width="0.9" />
<path d="M286.9,395.8 L292.0,397.6 L289.3,400.8 Z" fill="#f39a1e" stroke="none" stroke-width="1" />
<text x="321.50" y="430.24" font-size="7.9" text-anchor="start" fill="#f39a1e" stroke="#f39a1e" stroke-width="0.15" textLength="37.00" lengthAdjust="spacingAndGlyphs" >Acetyl-CoA</text>
<line x1="404.90" y1="427.50" x2="366.00" y2="427.50" stroke="#f39a1e" stroke-width="0.9" />
<path d="M362.3,427.5 L367.0,425.3 L367.0,429.7 Z" fill="#f39a1e" stroke="none" stroke-width="1" />
<line x1="383.60" y1="424.50" x2="389.60" y2="430.50" stroke="#111" stroke-width="1.05" />
<line x1="383.60" y1="430.50" x2="389.60" y2="424.50" stroke="#111" stroke-width="1.05" />
<text x="387.60" y="439.44" font-size="7.9" text-anchor="middle" fill="#1a1a1a" stroke="#1a1a1a" stroke-width="0.15" textLength="29.30" lengthAdjust="spacingAndGlyphs" >Etomoxir</text>
<text x="409.60" y="430.34" font-size="7.9" text-anchor="start" fill="#f39a1e" stroke="#f39a1e" stroke-width="0.15" textLength="62.90" lengthAdjust="spacingAndGlyphs" >Fatty acid oxidation</text>
<line x1="263.80" y1="443.00" x2="263.80" y2="407.50" stroke="#6b2a82" stroke-width="1.0" />
<path d="M261.6,408.0 L263.8,403.4 L266.0,408.0 Z" fill="#6b2a82" stroke="none" stroke-width="1" />
<text x="166.70" y="450.34" font-size="7.9" text-anchor="start" fill="#6b2a82" stroke="#6b2a82" stroke-width="0.15" textLength="33.70" lengthAdjust="spacingAndGlyphs" >Glutamine</text>
<line x1="202.50" y1="447.50" x2="239.50" y2="447.50" stroke="#6b2a82" stroke-width="1.0" />
<path d="M238.5,445.3 L243.0,447.5 L238.5,449.7 Z" fill="#6b2a82" stroke="none" stroke-width="1" />
<line x1="216.80" y1="444.50" x2="222.80" y2="450.50" stroke="#111" stroke-width="1.05" />
<line x1="216.80" y1="450.50" x2="222.80" y2="444.50" stroke="#111" stroke-width="1.05" />
<text x="223.00" y="461.04" font-size="7.9" text-anchor="middle" fill="#1a1a1a" stroke="#1a1a1a" stroke-width="0.15" textLength="23.90" lengthAdjust="spacingAndGlyphs" >BPTES</text>
<text x="246.20" y="450.34" font-size="7.9" text-anchor="start" fill="#6b2a82" stroke="#6b2a82" stroke-width="0.15" textLength="34.20" lengthAdjust="spacingAndGlyphs" >Glutamate</text>
<text x="214.40" y="494.40" font-size="10.6" text-anchor="start" fill="#000" font-weight="bold" textLength="7.50" lengthAdjust="spacingAndGlyphs" >E</text>
<text x="323.20" y="500.40" font-size="8.9" text-anchor="middle" fill="#1a1a1a" stroke="#1a1a1a" stroke-width="0.22" textLength="66.60" lengthAdjust="spacingAndGlyphs" >Mito fuel flex test</text>
<line x1="240.20" y1="529.00" x2="240.20" y2="632.40" stroke="#1a1a1a" stroke-width="1.3" />
<line x1="239.60" y1="631.80" x2="406.90" y2="631.80" stroke="#1a1a1a" stroke-width="1.3" />
<line x1="237.00" y1="631.80" x2="240.20" y2="631.80" stroke="#1a1a1a" stroke-width="1" />
<text x="234.10" y="634.35" font-size="8.2" text-anchor="end" fill="#1a1a1a" stroke="#1a1a1a" stroke-width="0.15" textLength="4.30" lengthAdjust="spacingAndGlyphs" >0</text>
<line x1="237.00" y1="608.47" x2="240.20" y2="608.47" stroke="#1a1a1a" stroke-width="1" />
<text x="234.10" y="611.03" font-size="8.2" text-anchor="end" fill="#1a1a1a" stroke="#1a1a1a" stroke-width="0.15" textLength="4.30" lengthAdjust="spacingAndGlyphs" >5</text>
<line x1="237.00" y1="585.15" x2="240.20" y2="585.15" stroke="#1a1a1a" stroke-width="1" />
<text x="234.10" y="587.70" font-size="8.2" text-anchor="end" fill="#1a1a1a" stroke="#1a1a1a" stroke-width="0.15" textLength="8.60" lengthAdjust="spacingAndGlyphs" >10</text>
<line x1="237.00" y1="561.82" x2="240.20" y2="561.82" stroke="#1a1a1a" stroke-width="1" />
<text x="234.10" y="564.38" font-size="8.2" text-anchor="end" fill="#1a1a1a" stroke="#1a1a1a" stroke-width="0.15" textLength="8.60" lengthAdjust="spacingAndGlyphs" >15</text>
<line x1="237.00" y1="538.50" x2="240.20" y2="538.50" stroke="#1a1a1a" stroke-width="1" />
<text x="234.10" y="541.05" font-size="8.2" text-anchor="end" fill="#1a1a1a" stroke="#1a1a1a" stroke-width="0.15" textLength="8.60" lengthAdjust="spacingAndGlyphs" >20</text>
<line x1="240.20" y1="631.80" x2="240.20" y2="634.30" stroke="#1a1a1a" stroke-width="1" />
<text x="240.20" y="644.45" font-size="8.2" text-anchor="middle" fill="#1a1a1a" stroke="#1a1a1a" stroke-width="0.15" textLength="4.50" lengthAdjust="spacingAndGlyphs" >0</text>
<line x1="272.45" y1="631.80" x2="272.45" y2="634.30" stroke="#1a1a1a" stroke-width="1" />
<text x="272.45" y="644.45" font-size="8.2" text-anchor="middle" fill="#1a1a1a" stroke="#1a1a1a" stroke-width="0.15" textLength="9.00" lengthAdjust="spacingAndGlyphs" >20</text>
<line x1="304.70" y1="631.80" x2="304.70" y2="634.30" stroke="#1a1a1a" stroke-width="1" />
<text x="304.70" y="644.45" font-size="8.2" text-anchor="middle" fill="#1a1a1a" stroke="#1a1a1a" stroke-width="0.15" textLength="9.00" lengthAdjust="spacingAndGlyphs" >40</text>
<line x1="336.95" y1="631.80" x2="336.95" y2="634.30" stroke="#1a1a1a" stroke-width="1" />
<text x="336.95" y="644.45" font-size="8.2" text-anchor="middle" fill="#1a1a1a" stroke="#1a1a1a" stroke-width="0.15" textLength="9.00" lengthAdjust="spacingAndGlyphs" >60</text>
<line x1="369.20" y1="631.80" x2="369.20" y2="634.30" stroke="#1a1a1a" stroke-width="1" />
<text x="369.20" y="644.45" font-size="8.2" text-anchor="middle" fill="#1a1a1a" stroke="#1a1a1a" stroke-width="0.15" textLength="9.00" lengthAdjust="spacingAndGlyphs" >80</text>
<line x1="401.45" y1="631.80" x2="401.45" y2="634.30" stroke="#1a1a1a" stroke-width="1" />
<text x="401.45" y="644.45" font-size="8.2" text-anchor="middle" fill="#1a1a1a" stroke="#1a1a1a" stroke-width="0.15" textLength="13.50" lengthAdjust="spacingAndGlyphs" >100</text>
<text x="323.50" y="656.40" font-size="9.4" text-anchor="middle" fill="#1a1a1a" stroke="#1a1a1a" stroke-width="0.22" textLength="42.20" lengthAdjust="spacingAndGlyphs" >Time (minutes)</text>
<text x="216.50" y="584.07" font-size="8.8" text-anchor="middle" fill="#1a1a1a" stroke="#1a1a1a" stroke-width="0.22" textLength="79.00" lengthAdjust="spacingAndGlyphs" transform="rotate(-90 216.50 580.90)" >OCR (pmol/min/norm. unit)</text>
<text x="268.40" y="541.54" font-size="7.6" text-anchor="middle" fill="#1a1a1a" stroke="#1a1a1a" stroke-width="0.15" textLength="14.60" lengthAdjust="spacingAndGlyphs" >PMA</text>
<line x1="268.40" y1="544.60" x2="268.40" y2="559.50" stroke="#000" stroke-width="1.1" />
<path d="M265.8,558.5 L271.0,558.5 L268.4,564.2 Z" fill="#000" stroke="none" stroke-width="1" />
<text x="364.90" y="521.36" font-size="7.4" text-anchor="middle" fill="#1a1a1a" stroke="#1a1a1a" stroke-width="0.15" textLength="22.20" lengthAdjust="spacingAndGlyphs" >Rot/AA</text>
<line x1="364.80" y1="524.40" x2="364.80" y2="545.50" stroke="#000" stroke-width="1.1" />
<path d="M362.2,544.6 L367.4,544.6 L364.8,550.4 Z" fill="#000" stroke="none" stroke-width="1" />
<line x1="242.50" y1="599.14" x2="242.50" y2="606.61" stroke="#2eab44" stroke-width="0.75" opacity="0.85"/>
<line x1="240.30" y1="599.14" x2="244.70" y2="599.14" stroke="#2eab44" stroke-width="0.9" opacity="0.85"/>
<line x1="240.30" y1="606.61" x2="244.70" y2="606.61" stroke="#2eab44" stroke-width="0.9" opacity="0.85"/>
<line x1="253.12" y1="600.08" x2="253.12" y2="607.54" stroke="#2eab44" stroke-width="0.75" opacity="0.85"/>
<line x1="250.92" y1="600.08" x2="255.32" y2="600.08" stroke="#2eab44" stroke-width="0.9" opacity="0.85"/>
<line x1="250.92" y1="607.54" x2="255.32" y2="607.54" stroke="#2eab44" stroke-width="0.9" opacity="0.85"/>
<line x1="263.74" y1="600.54" x2="263.74" y2="608.01" stroke="#2eab44" stroke-width="0.75" opacity="0.85"/>
<line x1="261.54" y1="600.54" x2="265.94" y2="600.54" stroke="#2eab44" stroke-width="0.9" opacity="0.85"/>
<line x1="261.54" y1="608.01" x2="265.94" y2="608.01" stroke="#2eab44" stroke-width="0.9" opacity="0.85"/>
<line x1="274.36" y1="599.61" x2="274.36" y2="607.08" stroke="#2eab44" stroke-width="0.75" opacity="0.85"/>
<line x1="272.16" y1="599.61" x2="276.56" y2="599.61" stroke="#2eab44" stroke-width="0.9" opacity="0.85"/>
<line x1="272.16" y1="607.08" x2="276.56" y2="607.08" stroke="#2eab44" stroke-width="0.9" opacity="0.85"/>
<line x1="284.98" y1="595.41" x2="284.98" y2="602.88" stroke="#2eab44" stroke-width="0.75" opacity="0.85"/>
<line x1="282.78" y1="595.41" x2="287.18" y2="595.41" stroke="#2eab44" stroke-width="0.9" opacity="0.85"/>
<line x1="282.78" y1="602.88" x2="287.18" y2="602.88" stroke="#2eab44" stroke-width="0.9" opacity="0.85"/>
<line x1="295.60" y1="592.05" x2="295.60" y2="599.52" stroke="#2eab44" stroke-width="0.75" opacity="0.85"/>
<line x1="293.40" y1="592.05" x2="297.80" y2="592.05" stroke="#2eab44" stroke-width="0.9" opacity="0.85"/>
<line x1="293.40" y1="599.52" x2="297.80" y2="599.52" stroke="#2eab44" stroke-width="0.9" opacity="0.85"/>
<line x1="306.22" y1="590.75" x2="306.22" y2="598.21" stroke="#2eab44" stroke-width="0.75" opacity="0.85"/>
<line x1="304.02" y1="590.75" x2="308.42" y2="590.75" stroke="#2eab44" stroke-width="0.9" opacity="0.85"/>
<line x1="304.02" y1="598.21" x2="308.42" y2="598.21" stroke="#2eab44" stroke-width="0.9" opacity="0.85"/>
<line x1="316.84" y1="589.35" x2="316.84" y2="596.81" stroke="#2eab44" stroke-width="0.75" opacity="0.85"/>
<line x1="314.64" y1="589.35" x2="319.04" y2="589.35" stroke="#2eab44" stroke-width="0.9" opacity="0.85"/>
<line x1="314.64" y1="596.81" x2="319.04" y2="596.81" stroke="#2eab44" stroke-width="0.9" opacity="0.85"/>
<line x1="327.46" y1="587.95" x2="327.46" y2="595.41" stroke="#2eab44" stroke-width="0.75" opacity="0.85"/>
<line x1="325.26" y1="587.95" x2="329.66" y2="587.95" stroke="#2eab44" stroke-width="0.9" opacity="0.85"/>
<line x1="325.26" y1="595.41" x2="329.66" y2="595.41" stroke="#2eab44" stroke-width="0.9" opacity="0.85"/>
<line x1="338.08" y1="587.02" x2="338.08" y2="594.48" stroke="#2eab44" stroke-width="0.75" opacity="0.85"/>
<line x1="335.88" y1="587.02" x2="340.28" y2="587.02" stroke="#2eab44" stroke-width="0.9" opacity="0.85"/>
<line x1="335.88" y1="594.48" x2="340.28" y2="594.48" stroke="#2eab44" stroke-width="0.9" opacity="0.85"/>
<line x1="348.70" y1="586.08" x2="348.70" y2="593.55" stroke="#2eab44" stroke-width="0.75" opacity="0.85"/>
<line x1="346.50" y1="586.08" x2="350.90" y2="586.08" stroke="#2eab44" stroke-width="0.9" opacity="0.85"/>
<line x1="346.50" y1="593.55" x2="350.90" y2="593.55" stroke="#2eab44" stroke-width="0.9" opacity="0.85"/>
<line x1="359.32" y1="584.82" x2="359.32" y2="592.29" stroke="#2eab44" stroke-width="0.75" opacity="0.85"/>
<line x1="357.12" y1="584.82" x2="361.52" y2="584.82" stroke="#2eab44" stroke-width="0.9" opacity="0.85"/>
<line x1="357.12" y1="592.29" x2="361.52" y2="592.29" stroke="#2eab44" stroke-width="0.9" opacity="0.85"/>
<line x1="369.94" y1="620.28" x2="369.94" y2="623.26" stroke="#2eab44" stroke-width="0.75" opacity="0.85"/>
<line x1="367.74" y1="620.28" x2="372.14" y2="620.28" stroke="#2eab44" stroke-width="0.9" opacity="0.85"/>
<line x1="367.74" y1="623.26" x2="372.14" y2="623.26" stroke="#2eab44" stroke-width="0.9" opacity="0.85"/>
<line x1="380.56" y1="620.98" x2="380.56" y2="623.96" stroke="#2eab44" stroke-width="0.75" opacity="0.85"/>
<line x1="378.36" y1="620.98" x2="382.76" y2="620.98" stroke="#2eab44" stroke-width="0.9" opacity="0.85"/>
<line x1="378.36" y1="623.96" x2="382.76" y2="623.96" stroke="#2eab44" stroke-width="0.9" opacity="0.85"/>
<line x1="391.18" y1="621.44" x2="391.18" y2="624.43" stroke="#2eab44" stroke-width="0.75" opacity="0.85"/>
<line x1="388.98" y1="621.44" x2="393.38" y2="621.44" stroke="#2eab44" stroke-width="0.9" opacity="0.85"/>
<line x1="388.98" y1="624.43" x2="393.38" y2="624.43" stroke="#2eab44" stroke-width="0.9" opacity="0.85"/>
<line x1="401.80" y1="621.91" x2="401.80" y2="624.90" stroke="#2eab44" stroke-width="0.75" opacity="0.85"/>
<line x1="399.60" y1="621.91" x2="404.00" y2="621.91" stroke="#2eab44" stroke-width="0.9" opacity="0.85"/>
<line x1="399.60" y1="624.90" x2="404.00" y2="624.90" stroke="#2eab44" stroke-width="0.9" opacity="0.85"/>
<line x1="242.50" y1="600.36" x2="242.50" y2="606.89" stroke="#4c1c74" stroke-width="0.75" opacity="0.85"/>
<line x1="240.30" y1="600.36" x2="244.70" y2="600.36" stroke="#4c1c74" stroke-width="0.9" opacity="0.85"/>
<line x1="240.30" y1="606.89" x2="244.70" y2="606.89" stroke="#4c1c74" stroke-width="0.9" opacity="0.85"/>
<line x1="253.12" y1="602.04" x2="253.12" y2="608.57" stroke="#4c1c74" stroke-width="0.75" opacity="0.85"/>
<line x1="250.92" y1="602.04" x2="255.32" y2="602.04" stroke="#4c1c74" stroke-width="0.9" opacity="0.85"/>
<line x1="250.92" y1="608.57" x2="255.32" y2="608.57" stroke="#4c1c74" stroke-width="0.9" opacity="0.85"/>
<line x1="263.74" y1="602.92" x2="263.74" y2="609.45" stroke="#4c1c74" stroke-width="0.75" opacity="0.85"/>
<line x1="261.54" y1="602.92" x2="265.94" y2="602.92" stroke="#4c1c74" stroke-width="0.9" opacity="0.85"/>
<line x1="261.54" y1="609.45" x2="265.94" y2="609.45" stroke="#4c1c74" stroke-width="0.9" opacity="0.85"/>
<line x1="274.36" y1="602.04" x2="274.36" y2="608.57" stroke="#4c1c74" stroke-width="0.75" opacity="0.85"/>
<line x1="272.16" y1="602.04" x2="276.56" y2="602.04" stroke="#4c1c74" stroke-width="0.9" opacity="0.85"/>
<line x1="272.16" y1="608.57" x2="276.56" y2="608.57" stroke="#4c1c74" stroke-width="0.9" opacity="0.85"/>
<line x1="284.98" y1="595.41" x2="284.98" y2="601.94" stroke="#4c1c74" stroke-width="0.75" opacity="0.85"/>
<line x1="282.78" y1="595.41" x2="287.18" y2="595.41" stroke="#4c1c74" stroke-width="0.9" opacity="0.85"/>
<line x1="282.78" y1="601.94" x2="287.18" y2="601.94" stroke="#4c1c74" stroke-width="0.9" opacity="0.85"/>
<line x1="295.60" y1="592.52" x2="295.60" y2="599.05" stroke="#4c1c74" stroke-width="0.75" opacity="0.85"/>
<line x1="293.40" y1="592.52" x2="297.80" y2="592.52" stroke="#4c1c74" stroke-width="0.9" opacity="0.85"/>
<line x1="293.40" y1="599.05" x2="297.80" y2="599.05" stroke="#4c1c74" stroke-width="0.9" opacity="0.85"/>
<line x1="306.22" y1="591.21" x2="306.22" y2="597.75" stroke="#4c1c74" stroke-width="0.75" opacity="0.85"/>
<line x1="304.02" y1="591.21" x2="308.42" y2="591.21" stroke="#4c1c74" stroke-width="0.9" opacity="0.85"/>
<line x1="304.02" y1="597.75" x2="308.42" y2="597.75" stroke="#4c1c74" stroke-width="0.9" opacity="0.85"/>
<line x1="316.84" y1="590.28" x2="316.84" y2="596.81" stroke="#4c1c74" stroke-width="0.75" opacity="0.85"/>
<line x1="314.64" y1="590.28" x2="319.04" y2="590.28" stroke="#4c1c74" stroke-width="0.9" opacity="0.85"/>
<line x1="314.64" y1="596.81" x2="319.04" y2="596.81" stroke="#4c1c74" stroke-width="0.9" opacity="0.85"/>
<line x1="327.46" y1="589.12" x2="327.46" y2="595.65" stroke="#4c1c74" stroke-width="0.75" opacity="0.85"/>
<line x1="325.26" y1="589.12" x2="329.66" y2="589.12" stroke="#4c1c74" stroke-width="0.9" opacity="0.85"/>
<line x1="325.26" y1="595.65" x2="329.66" y2="595.65" stroke="#4c1c74" stroke-width="0.9" opacity="0.85"/>
<line x1="338.08" y1="589.12" x2="338.08" y2="595.65" stroke="#4c1c74" stroke-width="0.75" opacity="0.85"/>
<line x1="335.88" y1="589.12" x2="340.28" y2="589.12" stroke="#4c1c74" stroke-width="0.9" opacity="0.85"/>
<line x1="335.88" y1="595.65" x2="340.28" y2="595.65" stroke="#4c1c74" stroke-width="0.9" opacity="0.85"/>
<line x1="348.70" y1="589.35" x2="348.70" y2="595.88" stroke="#4c1c74" stroke-width="0.75" opacity="0.85"/>
<line x1="346.50" y1="589.35" x2="350.90" y2="589.35" stroke="#4c1c74" stroke-width="0.9" opacity="0.85"/>
<line x1="346.50" y1="595.88" x2="350.90" y2="595.88" stroke="#4c1c74" stroke-width="0.9" opacity="0.85"/>
<line x1="359.32" y1="589.35" x2="359.32" y2="595.88" stroke="#4c1c74" stroke-width="0.75" opacity="0.85"/>
<line x1="357.12" y1="589.35" x2="361.52" y2="589.35" stroke="#4c1c74" stroke-width="0.9" opacity="0.85"/>
<line x1="357.12" y1="595.88" x2="361.52" y2="595.88" stroke="#4c1c74" stroke-width="0.9" opacity="0.85"/>
<line x1="242.50" y1="595.74" x2="242.50" y2="607.87" stroke="#0f4c8a" stroke-width="0.75" opacity="0.85"/>
<line x1="240.30" y1="595.74" x2="244.70" y2="595.74" stroke="#0f4c8a" stroke-width="0.9" opacity="0.85"/>
<line x1="240.30" y1="607.87" x2="244.70" y2="607.87" stroke="#0f4c8a" stroke-width="0.9" opacity="0.85"/>
<line x1="253.12" y1="596.81" x2="253.12" y2="608.94" stroke="#0f4c8a" stroke-width="0.75" opacity="0.85"/>
<line x1="250.92" y1="596.81" x2="255.32" y2="596.81" stroke="#0f4c8a" stroke-width="0.9" opacity="0.85"/>
<line x1="250.92" y1="608.94" x2="255.32" y2="608.94" stroke="#0f4c8a" stroke-width="0.9" opacity="0.85"/>
<line x1="263.74" y1="597.37" x2="263.74" y2="609.50" stroke="#0f4c8a" stroke-width="0.75" opacity="0.85"/>
<line x1="261.54" y1="597.37" x2="265.94" y2="597.37" stroke="#0f4c8a" stroke-width="0.9" opacity="0.85"/>
<line x1="261.54" y1="609.50" x2="265.94" y2="609.50" stroke="#0f4c8a" stroke-width="0.9" opacity="0.85"/>
<line x1="274.36" y1="595.74" x2="274.36" y2="607.87" stroke="#0f4c8a" stroke-width="0.75" opacity="0.85"/>
<line x1="272.16" y1="595.74" x2="276.56" y2="595.74" stroke="#0f4c8a" stroke-width="0.9" opacity="0.85"/>
<line x1="272.16" y1="607.87" x2="276.56" y2="607.87" stroke="#0f4c8a" stroke-width="0.9" opacity="0.85"/>
<line x1="284.98" y1="589.26" x2="284.98" y2="601.38" stroke="#0f4c8a" stroke-width="0.75" opacity="0.85"/>
<line x1="282.78" y1="589.26" x2="287.18" y2="589.26" stroke="#0f4c8a" stroke-width="0.9" opacity="0.85"/>
<line x1="282.78" y1="601.38" x2="287.18" y2="601.38" stroke="#0f4c8a" stroke-width="0.9" opacity="0.85"/>
<line x1="295.60" y1="586.55" x2="295.60" y2="598.68" stroke="#0f4c8a" stroke-width="0.75" opacity="0.85"/>
<line x1="293.40" y1="586.55" x2="297.80" y2="586.55" stroke="#0f4c8a" stroke-width="0.9" opacity="0.85"/>
<line x1="293.40" y1="598.68" x2="297.80" y2="598.68" stroke="#0f4c8a" stroke-width="0.9" opacity="0.85"/>
<line x1="306.22" y1="585.15" x2="306.22" y2="597.28" stroke="#0f4c8a" stroke-width="0.75" opacity="0.85"/>
<line x1="304.02" y1="585.15" x2="308.42" y2="585.15" stroke="#0f4c8a" stroke-width="0.9" opacity="0.85"/>
<line x1="304.02" y1="597.28" x2="308.42" y2="597.28" stroke="#0f4c8a" stroke-width="0.9" opacity="0.85"/>
<line x1="316.84" y1="583.94" x2="316.84" y2="596.07" stroke="#0f4c8a" stroke-width="0.75" opacity="0.85"/>
<line x1="314.64" y1="583.94" x2="319.04" y2="583.94" stroke="#0f4c8a" stroke-width="0.9" opacity="0.85"/>
<line x1="314.64" y1="596.07" x2="319.04" y2="596.07" stroke="#0f4c8a" stroke-width="0.9" opacity="0.85"/>
<line x1="327.46" y1="582.82" x2="327.46" y2="594.95" stroke="#0f4c8a" stroke-width="0.75" opacity="0.85"/>
<line x1="325.26" y1="582.82" x2="329.66" y2="582.82" stroke="#0f4c8a" stroke-width="0.9" opacity="0.85"/>
<line x1="325.26" y1="594.95" x2="329.66" y2="594.95" stroke="#0f4c8a" stroke-width="0.9" opacity="0.85"/>
<line x1="338.08" y1="581.88" x2="338.08" y2="594.01" stroke="#0f4c8a" stroke-width="0.75" opacity="0.85"/>
<line x1="335.88" y1="581.88" x2="340.28" y2="581.88" stroke="#0f4c8a" stroke-width="0.9" opacity="0.85"/>
<line x1="335.88" y1="594.01" x2="340.28" y2="594.01" stroke="#0f4c8a" stroke-width="0.9" opacity="0.85"/>
<line x1="348.70" y1="581.18" x2="348.70" y2="593.31" stroke="#0f4c8a" stroke-width="0.75" opacity="0.85"/>
<line x1="346.50" y1="581.18" x2="350.90" y2="581.18" stroke="#0f4c8a" stroke-width="0.9" opacity="0.85"/>
<line x1="346.50" y1="593.31" x2="350.90" y2="593.31" stroke="#0f4c8a" stroke-width="0.9" opacity="0.85"/>
<line x1="359.32" y1="580.72" x2="359.32" y2="592.85" stroke="#0f4c8a" stroke-width="0.75" opacity="0.85"/>
<line x1="357.12" y1="580.72" x2="361.52" y2="580.72" stroke="#0f4c8a" stroke-width="0.9" opacity="0.85"/>
<line x1="357.12" y1="592.85" x2="361.52" y2="592.85" stroke="#0f4c8a" stroke-width="0.9" opacity="0.85"/>
<line x1="369.94" y1="621.58" x2="369.94" y2="626.44" stroke="#0f4c8a" stroke-width="0.75" opacity="0.85"/>
<line x1="367.74" y1="621.58" x2="372.14" y2="621.58" stroke="#0f4c8a" stroke-width="0.9" opacity="0.85"/>
<line x1="367.74" y1="626.44" x2="372.14" y2="626.44" stroke="#0f4c8a" stroke-width="0.9" opacity="0.85"/>
<line x1="380.56" y1="622.38" x2="380.56" y2="627.23" stroke="#0f4c8a" stroke-width="0.75" opacity="0.85"/>
<line x1="378.36" y1="622.38" x2="382.76" y2="622.38" stroke="#0f4c8a" stroke-width="0.9" opacity="0.85"/>
<line x1="378.36" y1="627.23" x2="382.76" y2="627.23" stroke="#0f4c8a" stroke-width="0.9" opacity="0.85"/>
<line x1="391.18" y1="622.84" x2="391.18" y2="627.69" stroke="#0f4c8a" stroke-width="0.75" opacity="0.85"/>
<line x1="388.98" y1="622.84" x2="393.38" y2="622.84" stroke="#0f4c8a" stroke-width="0.9" opacity="0.85"/>
<line x1="388.98" y1="627.69" x2="393.38" y2="627.69" stroke="#0f4c8a" stroke-width="0.9" opacity="0.85"/>
<line x1="401.80" y1="623.08" x2="401.80" y2="627.93" stroke="#0f4c8a" stroke-width="0.75" opacity="0.85"/>
<line x1="399.60" y1="623.08" x2="404.00" y2="623.08" stroke="#0f4c8a" stroke-width="0.9" opacity="0.85"/>
<line x1="399.60" y1="627.93" x2="404.00" y2="627.93" stroke="#0f4c8a" stroke-width="0.9" opacity="0.85"/>
<line x1="242.50" y1="596.81" x2="242.50" y2="602.41" stroke="#c8153c" stroke-width="0.75" opacity="0.85"/>
<line x1="240.30" y1="596.81" x2="244.70" y2="596.81" stroke="#c8153c" stroke-width="0.9" opacity="0.85"/>
<line x1="240.30" y1="602.41" x2="244.70" y2="602.41" stroke="#c8153c" stroke-width="0.9" opacity="0.85"/>
<line x1="253.12" y1="598.54" x2="253.12" y2="604.14" stroke="#c8153c" stroke-width="0.75" opacity="0.85"/>
<line x1="250.92" y1="598.54" x2="255.32" y2="598.54" stroke="#c8153c" stroke-width="0.9" opacity="0.85"/>
<line x1="250.92" y1="604.14" x2="255.32" y2="604.14" stroke="#c8153c" stroke-width="0.9" opacity="0.85"/>
<line x1="263.74" y1="598.82" x2="263.74" y2="604.42" stroke="#c8153c" stroke-width="0.75" opacity="0.85"/>
<line x1="261.54" y1="598.82" x2="265.94" y2="598.82" stroke="#c8153c" stroke-width="0.9" opacity="0.85"/>
<line x1="261.54" y1="604.42" x2="265.94" y2="604.42" stroke="#c8153c" stroke-width="0.9" opacity="0.85"/>
<line x1="274.36" y1="597.28" x2="274.36" y2="602.88" stroke="#c8153c" stroke-width="0.75" opacity="0.85"/>
<line x1="272.16" y1="597.28" x2="276.56" y2="597.28" stroke="#c8153c" stroke-width="0.9" opacity="0.85"/>
<line x1="272.16" y1="602.88" x2="276.56" y2="602.88" stroke="#c8153c" stroke-width="0.9" opacity="0.85"/>
<line x1="284.98" y1="590.00" x2="284.98" y2="595.60" stroke="#c8153c" stroke-width="0.75" opacity="0.85"/>
<line x1="282.78" y1="590.00" x2="287.18" y2="590.00" stroke="#c8153c" stroke-width="0.9" opacity="0.85"/>
<line x1="282.78" y1="595.60" x2="287.18" y2="595.60" stroke="#c8153c" stroke-width="0.9" opacity="0.85"/>
<line x1="295.60" y1="586.18" x2="295.60" y2="591.77" stroke="#c8153c" stroke-width="0.75" opacity="0.85"/>
<line x1="293.40" y1="586.18" x2="297.80" y2="586.18" stroke="#c8153c" stroke-width="0.9" opacity="0.85"/>
<line x1="293.40" y1="591.77" x2="297.80" y2="591.77" stroke="#c8153c" stroke-width="0.9" opacity="0.85"/>
<line x1="306.22" y1="584.22" x2="306.22" y2="589.81" stroke="#c8153c" stroke-width="0.75" opacity="0.85"/>
<line x1="304.02" y1="584.22" x2="308.42" y2="584.22" stroke="#c8153c" stroke-width="0.9" opacity="0.85"/>
<line x1="304.02" y1="589.81" x2="308.42" y2="589.81" stroke="#c8153c" stroke-width="0.9" opacity="0.85"/>
<line x1="316.84" y1="583.10" x2="316.84" y2="588.70" stroke="#c8153c" stroke-width="0.75" opacity="0.85"/>
<line x1="314.64" y1="583.10" x2="319.04" y2="583.10" stroke="#c8153c" stroke-width="0.9" opacity="0.85"/>
<line x1="314.64" y1="588.70" x2="319.04" y2="588.70" stroke="#c8153c" stroke-width="0.9" opacity="0.85"/>
<line x1="327.46" y1="581.88" x2="327.46" y2="587.48" stroke="#c8153c" stroke-width="0.75" opacity="0.85"/>
<line x1="325.26" y1="581.88" x2="329.66" y2="581.88" stroke="#c8153c" stroke-width="0.9" opacity="0.85"/>
<line x1="325.26" y1="587.48" x2="329.66" y2="587.48" stroke="#c8153c" stroke-width="0.9" opacity="0.85"/>
<line x1="338.08" y1="581.42" x2="338.08" y2="587.02" stroke="#c8153c" stroke-width="0.75" opacity="0.85"/>
<line x1="335.88" y1="581.42" x2="340.28" y2="581.42" stroke="#c8153c" stroke-width="0.9" opacity="0.85"/>
<line x1="335.88" y1="587.02" x2="340.28" y2="587.02" stroke="#c8153c" stroke-width="0.9" opacity="0.85"/>
<line x1="348.70" y1="581.18" x2="348.70" y2="586.78" stroke="#c8153c" stroke-width="0.75" opacity="0.85"/>
<line x1="346.50" y1="581.18" x2="350.90" y2="581.18" stroke="#c8153c" stroke-width="0.9" opacity="0.85"/>
<line x1="346.50" y1="586.78" x2="350.90" y2="586.78" stroke="#c8153c" stroke-width="0.9" opacity="0.85"/>
<line x1="359.32" y1="580.95" x2="359.32" y2="586.55" stroke="#c8153c" stroke-width="0.75" opacity="0.85"/>
<line x1="357.12" y1="580.95" x2="361.52" y2="580.95" stroke="#c8153c" stroke-width="0.9" opacity="0.85"/>
<line x1="357.12" y1="586.55" x2="361.52" y2="586.55" stroke="#c8153c" stroke-width="0.9" opacity="0.85"/>
<line x1="369.94" y1="618.55" x2="369.94" y2="620.79" stroke="#c8153c" stroke-width="0.75" opacity="0.85"/>
<line x1="367.74" y1="618.55" x2="372.14" y2="618.55" stroke="#c8153c" stroke-width="0.9" opacity="0.85"/>
<line x1="367.74" y1="620.79" x2="372.14" y2="620.79" stroke="#c8153c" stroke-width="0.9" opacity="0.85"/>
<line x1="380.56" y1="619.95" x2="380.56" y2="622.19" stroke="#c8153c" stroke-width="0.75" opacity="0.85"/>
<line x1="378.36" y1="619.95" x2="382.76" y2="619.95" stroke="#c8153c" stroke-width="0.9" opacity="0.85"/>
<line x1="378.36" y1="622.19" x2="382.76" y2="622.19" stroke="#c8153c" stroke-width="0.9" opacity="0.85"/>
<line x1="391.18" y1="620.88" x2="391.18" y2="623.12" stroke="#c8153c" stroke-width="0.75" opacity="0.85"/>
<line x1="388.98" y1="620.88" x2="393.38" y2="620.88" stroke="#c8153c" stroke-width="0.9" opacity="0.85"/>
<line x1="388.98" y1="623.12" x2="393.38" y2="623.12" stroke="#c8153c" stroke-width="0.9" opacity="0.85"/>
<line x1="401.80" y1="621.35" x2="401.80" y2="623.59" stroke="#c8153c" stroke-width="0.75" opacity="0.85"/>
<line x1="399.60" y1="621.35" x2="404.00" y2="621.35" stroke="#c8153c" stroke-width="0.9" opacity="0.85"/>
<line x1="399.60" y1="623.59" x2="404.00" y2="623.59" stroke="#c8153c" stroke-width="0.9" opacity="0.85"/>
<line x1="242.50" y1="579.55" x2="242.50" y2="592.61" stroke="#7dd487" stroke-width="0.75" opacity="0.85"/>
<line x1="240.30" y1="579.55" x2="244.70" y2="579.55" stroke="#7dd487" stroke-width="0.9" opacity="0.85"/>
<line x1="240.30" y1="592.61" x2="244.70" y2="592.61" stroke="#7dd487" stroke-width="0.9" opacity="0.85"/>
<line x1="253.12" y1="580.48" x2="253.12" y2="593.55" stroke="#7dd487" stroke-width="0.75" opacity="0.85"/>
<line x1="250.92" y1="580.48" x2="255.32" y2="580.48" stroke="#7dd487" stroke-width="0.9" opacity="0.85"/>
<line x1="250.92" y1="593.55" x2="255.32" y2="593.55" stroke="#7dd487" stroke-width="0.9" opacity="0.85"/>
<line x1="263.74" y1="581.42" x2="263.74" y2="594.48" stroke="#7dd487" stroke-width="0.75" opacity="0.85"/>
<line x1="261.54" y1="581.42" x2="265.94" y2="581.42" stroke="#7dd487" stroke-width="0.9" opacity="0.85"/>
<line x1="261.54" y1="594.48" x2="265.94" y2="594.48" stroke="#7dd487" stroke-width="0.9" opacity="0.85"/>
<line x1="274.36" y1="580.48" x2="274.36" y2="593.55" stroke="#7dd487" stroke-width="0.75" opacity="0.85"/>
<line x1="272.16" y1="580.48" x2="276.56" y2="580.48" stroke="#7dd487" stroke-width="0.9" opacity="0.85"/>
<line x1="272.16" y1="593.55" x2="276.56" y2="593.55" stroke="#7dd487" stroke-width="0.9" opacity="0.85"/>
<line x1="284.98" y1="569.29" x2="284.98" y2="592.61" stroke="#7dd487" stroke-width="0.75" opacity="0.85"/>
<line x1="282.78" y1="569.29" x2="287.18" y2="569.29" stroke="#7dd487" stroke-width="0.9" opacity="0.85"/>
<line x1="282.78" y1="592.61" x2="287.18" y2="592.61" stroke="#7dd487" stroke-width="0.9" opacity="0.85"/>
<line x1="295.60" y1="562.90" x2="295.60" y2="586.22" stroke="#7dd487" stroke-width="0.75" opacity="0.85"/>
<line x1="293.40" y1="562.90" x2="297.80" y2="562.90" stroke="#7dd487" stroke-width="0.9" opacity="0.85"/>
<line x1="293.40" y1="586.22" x2="297.80" y2="586.22" stroke="#7dd487" stroke-width="0.9" opacity="0.85"/>
<line x1="306.22" y1="559.49" x2="306.22" y2="582.82" stroke="#7dd487" stroke-width="0.75" opacity="0.85"/>
<line x1="304.02" y1="559.49" x2="308.42" y2="559.49" stroke="#7dd487" stroke-width="0.9" opacity="0.85"/>
<line x1="304.02" y1="582.82" x2="308.42" y2="582.82" stroke="#7dd487" stroke-width="0.9" opacity="0.85"/>
<line x1="316.84" y1="556.69" x2="316.84" y2="580.02" stroke="#7dd487" stroke-width="0.75" opacity="0.85"/>
<line x1="314.64" y1="556.69" x2="319.04" y2="556.69" stroke="#7dd487" stroke-width="0.9" opacity="0.85"/>
<line x1="314.64" y1="580.02" x2="319.04" y2="580.02" stroke="#7dd487" stroke-width="0.9" opacity="0.85"/>
<line x1="327.46" y1="554.83" x2="327.46" y2="578.15" stroke="#7dd487" stroke-width="0.75" opacity="0.85"/>
<line x1="325.26" y1="554.83" x2="329.66" y2="554.83" stroke="#7dd487" stroke-width="0.9" opacity="0.85"/>
<line x1="325.26" y1="578.15" x2="329.66" y2="578.15" stroke="#7dd487" stroke-width="0.9" opacity="0.85"/>
<line x1="338.08" y1="554.83" x2="338.08" y2="578.15" stroke="#7dd487" stroke-width="0.75" opacity="0.85"/>
<line x1="335.88" y1="554.83" x2="340.28" y2="554.83" stroke="#7dd487" stroke-width="0.9" opacity="0.85"/>
<line x1="335.88" y1="578.15" x2="340.28" y2="578.15" stroke="#7dd487" stroke-width="0.9" opacity="0.85"/>
<line x1="348.70" y1="553.89" x2="348.70" y2="577.22" stroke="#7dd487" stroke-width="0.75" opacity="0.85"/>
<line x1="346.50" y1="553.89" x2="350.90" y2="553.89" stroke="#7dd487" stroke-width="0.9" opacity="0.85"/>
<line x1="346.50" y1="577.22" x2="350.90" y2="577.22" stroke="#7dd487" stroke-width="0.9" opacity="0.85"/>
<line x1="359.32" y1="553.43" x2="359.32" y2="576.75" stroke="#7dd487" stroke-width="0.75" opacity="0.85"/>
<line x1="357.12" y1="553.43" x2="361.52" y2="553.43" stroke="#7dd487" stroke-width="0.9" opacity="0.85"/>
<line x1="357.12" y1="576.75" x2="361.52" y2="576.75" stroke="#7dd487" stroke-width="0.9" opacity="0.85"/>
<line x1="369.94" y1="605.21" x2="369.94" y2="614.54" stroke="#7dd487" stroke-width="0.75" opacity="0.85"/>
<line x1="367.74" y1="605.21" x2="372.14" y2="605.21" stroke="#7dd487" stroke-width="0.9" opacity="0.85"/>
<line x1="367.74" y1="614.54" x2="372.14" y2="614.54" stroke="#7dd487" stroke-width="0.9" opacity="0.85"/>
<line x1="380.56" y1="607.54" x2="380.56" y2="616.87" stroke="#7dd487" stroke-width="0.75" opacity="0.85"/>
<line x1="378.36" y1="607.54" x2="382.76" y2="607.54" stroke="#7dd487" stroke-width="0.9" opacity="0.85"/>
<line x1="378.36" y1="616.87" x2="382.76" y2="616.87" stroke="#7dd487" stroke-width="0.9" opacity="0.85"/>
<line x1="391.18" y1="608.47" x2="391.18" y2="617.80" stroke="#7dd487" stroke-width="0.75" opacity="0.85"/>
<line x1="388.98" y1="608.47" x2="393.38" y2="608.47" stroke="#7dd487" stroke-width="0.9" opacity="0.85"/>
<line x1="388.98" y1="617.80" x2="393.38" y2="617.80" stroke="#7dd487" stroke-width="0.9" opacity="0.85"/>
<line x1="401.80" y1="608.94" x2="401.80" y2="618.27" stroke="#7dd487" stroke-width="0.75" opacity="0.85"/>
<line x1="399.60" y1="608.94" x2="404.00" y2="608.94" stroke="#7dd487" stroke-width="0.9" opacity="0.85"/>
<line x1="399.60" y1="618.27" x2="404.00" y2="618.27" stroke="#7dd487" stroke-width="0.9" opacity="0.85"/>
<line x1="242.50" y1="579.55" x2="242.50" y2="590.75" stroke="#e97a91" stroke-width="0.75" opacity="0.85"/>
<line x1="240.30" y1="579.55" x2="244.70" y2="579.55" stroke="#e97a91" stroke-width="0.9" opacity="0.85"/>
<line x1="240.30" y1="590.75" x2="244.70" y2="590.75" stroke="#e97a91" stroke-width="0.9" opacity="0.85"/>
<line x1="253.12" y1="581.42" x2="253.12" y2="592.61" stroke="#e97a91" stroke-width="0.75" opacity="0.85"/>
<line x1="250.92" y1="581.42" x2="255.32" y2="581.42" stroke="#e97a91" stroke-width="0.9" opacity="0.85"/>
<line x1="250.92" y1="592.61" x2="255.32" y2="592.61" stroke="#e97a91" stroke-width="0.9" opacity="0.85"/>
<line x1="263.74" y1="582.02" x2="263.74" y2="593.22" stroke="#e97a91" stroke-width="0.75" opacity="0.85"/>
<line x1="261.54" y1="582.02" x2="265.94" y2="582.02" stroke="#e97a91" stroke-width="0.9" opacity="0.85"/>
<line x1="261.54" y1="593.22" x2="265.94" y2="593.22" stroke="#e97a91" stroke-width="0.9" opacity="0.85"/>
<line x1="274.36" y1="577.69" x2="274.36" y2="588.88" stroke="#e97a91" stroke-width="0.75" opacity="0.85"/>
<line x1="272.16" y1="577.69" x2="276.56" y2="577.69" stroke="#e97a91" stroke-width="0.9" opacity="0.85"/>
<line x1="272.16" y1="588.88" x2="276.56" y2="588.88" stroke="#e97a91" stroke-width="0.9" opacity="0.85"/>
<line x1="284.98" y1="562.29" x2="284.98" y2="582.82" stroke="#e97a91" stroke-width="0.75" opacity="0.85"/>
<line x1="282.78" y1="562.29" x2="287.18" y2="562.29" stroke="#e97a91" stroke-width="0.9" opacity="0.85"/>
<line x1="282.78" y1="582.82" x2="287.18" y2="582.82" stroke="#e97a91" stroke-width="0.9" opacity="0.85"/>
<line x1="295.60" y1="557.16" x2="295.60" y2="577.69" stroke="#e97a91" stroke-width="0.75" opacity="0.85"/>
<line x1="293.40" y1="557.16" x2="297.80" y2="557.16" stroke="#e97a91" stroke-width="0.9" opacity="0.85"/>
<line x1="293.40" y1="577.69" x2="297.80" y2="577.69" stroke="#e97a91" stroke-width="0.9" opacity="0.85"/>
<line x1="306.22" y1="553.89" x2="306.22" y2="574.42" stroke="#e97a91" stroke-width="0.75" opacity="0.85"/>
<line x1="304.02" y1="553.89" x2="308.42" y2="553.89" stroke="#e97a91" stroke-width="0.9" opacity="0.85"/>
<line x1="304.02" y1="574.42" x2="308.42" y2="574.42" stroke="#e97a91" stroke-width="0.9" opacity="0.85"/>
<line x1="316.84" y1="551.80" x2="316.84" y2="572.32" stroke="#e97a91" stroke-width="0.75" opacity="0.85"/>
<line x1="314.64" y1="551.80" x2="319.04" y2="551.80" stroke="#e97a91" stroke-width="0.9" opacity="0.85"/>
<line x1="314.64" y1="572.32" x2="319.04" y2="572.32" stroke="#e97a91" stroke-width="0.9" opacity="0.85"/>
<line x1="327.46" y1="550.30" x2="327.46" y2="570.83" stroke="#e97a91" stroke-width="0.75" opacity="0.85"/>
<line x1="325.26" y1="550.30" x2="329.66" y2="550.30" stroke="#e97a91" stroke-width="0.9" opacity="0.85"/>
<line x1="325.26" y1="570.83" x2="329.66" y2="570.83" stroke="#e97a91" stroke-width="0.9" opacity="0.85"/>
<line x1="338.08" y1="549.51" x2="338.08" y2="570.04" stroke="#e97a91" stroke-width="0.75" opacity="0.85"/>
<line x1="335.88" y1="549.51" x2="340.28" y2="549.51" stroke="#e97a91" stroke-width="0.9" opacity="0.85"/>
<line x1="335.88" y1="570.04" x2="340.28" y2="570.04" stroke="#e97a91" stroke-width="0.9" opacity="0.85"/>
<line x1="348.70" y1="549.23" x2="348.70" y2="569.76" stroke="#e97a91" stroke-width="0.75" opacity="0.85"/>
<line x1="346.50" y1="549.23" x2="350.90" y2="549.23" stroke="#e97a91" stroke-width="0.9" opacity="0.85"/>
<line x1="346.50" y1="569.76" x2="350.90" y2="569.76" stroke="#e97a91" stroke-width="0.9" opacity="0.85"/>
<line x1="359.32" y1="548.53" x2="359.32" y2="569.06" stroke="#e97a91" stroke-width="0.75" opacity="0.85"/>
<line x1="357.12" y1="548.53" x2="361.52" y2="548.53" stroke="#e97a91" stroke-width="0.9" opacity="0.85"/>
<line x1="357.12" y1="569.06" x2="361.52" y2="569.06" stroke="#e97a91" stroke-width="0.9" opacity="0.85"/>
<line x1="369.94" y1="608.10" x2="369.94" y2="616.31" stroke="#e97a91" stroke-width="0.75" opacity="0.85"/>
<line x1="367.74" y1="608.10" x2="372.14" y2="608.10" stroke="#e97a91" stroke-width="0.9" opacity="0.85"/>
<line x1="367.74" y1="616.31" x2="372.14" y2="616.31" stroke="#e97a91" stroke-width="0.9" opacity="0.85"/>
<line x1="380.56" y1="609.50" x2="380.56" y2="617.71" stroke="#e97a91" stroke-width="0.75" opacity="0.85"/>
<line x1="378.36" y1="609.50" x2="382.76" y2="609.50" stroke="#e97a91" stroke-width="0.9" opacity="0.85"/>
<line x1="378.36" y1="617.71" x2="382.76" y2="617.71" stroke="#e97a91" stroke-width="0.9" opacity="0.85"/>
<line x1="391.18" y1="610.20" x2="391.18" y2="618.41" stroke="#e97a91" stroke-width="0.75" opacity="0.85"/>
<line x1="388.98" y1="610.20" x2="393.38" y2="610.20" stroke="#e97a91" stroke-width="0.9" opacity="0.85"/>
<line x1="388.98" y1="618.41" x2="393.38" y2="618.41" stroke="#e97a91" stroke-width="0.9" opacity="0.85"/>
<line x1="401.80" y1="611.37" x2="401.80" y2="619.58" stroke="#e97a91" stroke-width="0.75" opacity="0.85"/>
<line x1="399.60" y1="611.37" x2="404.00" y2="611.37" stroke="#e97a91" stroke-width="0.9" opacity="0.85"/>
<line x1="399.60" y1="619.58" x2="404.00" y2="619.58" stroke="#e97a91" stroke-width="0.9" opacity="0.85"/>
<line x1="242.50" y1="573.72" x2="242.50" y2="588.65" stroke="#6e9fcb" stroke-width="0.75" opacity="0.85"/>
<line x1="240.30" y1="573.72" x2="244.70" y2="573.72" stroke="#6e9fcb" stroke-width="0.9" opacity="0.85"/>
<line x1="240.30" y1="588.65" x2="244.70" y2="588.65" stroke="#6e9fcb" stroke-width="0.9" opacity="0.85"/>
<line x1="253.12" y1="574.89" x2="253.12" y2="589.81" stroke="#6e9fcb" stroke-width="0.75" opacity="0.85"/>
<line x1="250.92" y1="574.89" x2="255.32" y2="574.89" stroke="#6e9fcb" stroke-width="0.9" opacity="0.85"/>
<line x1="250.92" y1="589.81" x2="255.32" y2="589.81" stroke="#6e9fcb" stroke-width="0.9" opacity="0.85"/>
<line x1="263.74" y1="574.89" x2="263.74" y2="589.81" stroke="#6e9fcb" stroke-width="0.75" opacity="0.85"/>
<line x1="261.54" y1="574.89" x2="265.94" y2="574.89" stroke="#6e9fcb" stroke-width="0.9" opacity="0.85"/>
<line x1="261.54" y1="589.81" x2="265.94" y2="589.81" stroke="#6e9fcb" stroke-width="0.9" opacity="0.85"/>
<line x1="274.36" y1="573.81" x2="274.36" y2="588.74" stroke="#6e9fcb" stroke-width="0.75" opacity="0.85"/>
<line x1="272.16" y1="573.81" x2="276.56" y2="573.81" stroke="#6e9fcb" stroke-width="0.9" opacity="0.85"/>
<line x1="272.16" y1="588.74" x2="276.56" y2="588.74" stroke="#6e9fcb" stroke-width="0.9" opacity="0.85"/>
<line x1="284.98" y1="551.56" x2="284.98" y2="587.02" stroke="#6e9fcb" stroke-width="0.75" opacity="0.85"/>
<line x1="282.78" y1="551.56" x2="287.18" y2="551.56" stroke="#6e9fcb" stroke-width="0.9" opacity="0.85"/>
<line x1="282.78" y1="587.02" x2="287.18" y2="587.02" stroke="#6e9fcb" stroke-width="0.9" opacity="0.85"/>
<line x1="295.60" y1="545.36" x2="295.60" y2="580.81" stroke="#6e9fcb" stroke-width="0.75" opacity="0.85"/>
<line x1="293.40" y1="545.36" x2="297.80" y2="545.36" stroke="#6e9fcb" stroke-width="0.9" opacity="0.85"/>
<line x1="293.40" y1="580.81" x2="297.80" y2="580.81" stroke="#6e9fcb" stroke-width="0.9" opacity="0.85"/>
<line x1="306.22" y1="541.77" x2="306.22" y2="577.22" stroke="#6e9fcb" stroke-width="0.75" opacity="0.85"/>
<line x1="304.02" y1="541.77" x2="308.42" y2="541.77" stroke="#6e9fcb" stroke-width="0.9" opacity="0.85"/>
<line x1="304.02" y1="577.22" x2="308.42" y2="577.22" stroke="#6e9fcb" stroke-width="0.9" opacity="0.85"/>
<line x1="316.84" y1="538.50" x2="316.84" y2="573.95" stroke="#6e9fcb" stroke-width="0.75" opacity="0.85"/>
<line x1="314.64" y1="538.50" x2="319.04" y2="538.50" stroke="#6e9fcb" stroke-width="0.9" opacity="0.85"/>
<line x1="314.64" y1="573.95" x2="319.04" y2="573.95" stroke="#6e9fcb" stroke-width="0.9" opacity="0.85"/>
<line x1="327.46" y1="536.17" x2="327.46" y2="571.62" stroke="#6e9fcb" stroke-width="0.75" opacity="0.85"/>
<line x1="325.26" y1="536.17" x2="329.66" y2="536.17" stroke="#6e9fcb" stroke-width="0.9" opacity="0.85"/>
<line x1="325.26" y1="571.62" x2="329.66" y2="571.62" stroke="#6e9fcb" stroke-width="0.9" opacity="0.85"/>
<line x1="338.08" y1="532.90" x2="338.08" y2="568.36" stroke="#6e9fcb" stroke-width="0.75" opacity="0.85"/>
<line x1="335.88" y1="532.90" x2="340.28" y2="532.90" stroke="#6e9fcb" stroke-width="0.9" opacity="0.85"/>
<line x1="335.88" y1="568.36" x2="340.28" y2="568.36" stroke="#6e9fcb" stroke-width="0.9" opacity="0.85"/>
<line x1="348.70" y1="531.50" x2="348.70" y2="566.96" stroke="#6e9fcb" stroke-width="0.75" opacity="0.85"/>
<line x1="346.50" y1="531.50" x2="350.90" y2="531.50" stroke="#6e9fcb" stroke-width="0.9" opacity="0.85"/>
<line x1="346.50" y1="566.96" x2="350.90" y2="566.96" stroke="#6e9fcb" stroke-width="0.9" opacity="0.85"/>
<line x1="359.32" y1="529.64" x2="359.32" y2="565.09" stroke="#6e9fcb" stroke-width="0.75" opacity="0.85"/>
<line x1="357.12" y1="529.64" x2="361.52" y2="529.64" stroke="#6e9fcb" stroke-width="0.9" opacity="0.85"/>
<line x1="357.12" y1="565.09" x2="361.52" y2="565.09" stroke="#6e9fcb" stroke-width="0.9" opacity="0.85"/>
<line x1="369.94" y1="601.57" x2="369.94" y2="610.90" stroke="#6e9fcb" stroke-width="0.75" opacity="0.85"/>
<line x1="367.74" y1="601.57" x2="372.14" y2="601.57" stroke="#6e9fcb" stroke-width="0.9" opacity="0.85"/>
<line x1="367.74" y1="610.90" x2="372.14" y2="610.90" stroke="#6e9fcb" stroke-width="0.9" opacity="0.85"/>
<line x1="380.56" y1="604.56" x2="380.56" y2="613.89" stroke="#6e9fcb" stroke-width="0.75" opacity="0.85"/>
<line x1="378.36" y1="604.56" x2="382.76" y2="604.56" stroke="#6e9fcb" stroke-width="0.9" opacity="0.85"/>
<line x1="378.36" y1="613.89" x2="382.76" y2="613.89" stroke="#6e9fcb" stroke-width="0.9" opacity="0.85"/>
<line x1="391.18" y1="605.21" x2="391.18" y2="614.54" stroke="#6e9fcb" stroke-width="0.75" opacity="0.85"/>
<line x1="388.98" y1="605.21" x2="393.38" y2="605.21" stroke="#6e9fcb" stroke-width="0.9" opacity="0.85"/>
<line x1="388.98" y1="614.54" x2="393.38" y2="614.54" stroke="#6e9fcb" stroke-width="0.9" opacity="0.85"/>
<line x1="401.80" y1="606.14" x2="401.80" y2="615.47" stroke="#6e9fcb" stroke-width="0.75" opacity="0.85"/>
<line x1="399.60" y1="606.14" x2="404.00" y2="606.14" stroke="#6e9fcb" stroke-width="0.9" opacity="0.85"/>
<line x1="399.60" y1="615.47" x2="404.00" y2="615.47" stroke="#6e9fcb" stroke-width="0.9" opacity="0.85"/>
<line x1="242.50" y1="564.16" x2="242.50" y2="587.48" stroke="#a984c2" stroke-width="0.75" opacity="0.85"/>
<line x1="240.30" y1="564.16" x2="244.70" y2="564.16" stroke="#a984c2" stroke-width="0.9" opacity="0.85"/>
<line x1="240.30" y1="587.48" x2="244.70" y2="587.48" stroke="#a984c2" stroke-width="0.9" opacity="0.85"/>
<line x1="253.12" y1="565.42" x2="253.12" y2="588.74" stroke="#a984c2" stroke-width="0.75" opacity="0.85"/>
<line x1="250.92" y1="565.42" x2="255.32" y2="565.42" stroke="#a984c2" stroke-width="0.9" opacity="0.85"/>
<line x1="250.92" y1="588.74" x2="255.32" y2="588.74" stroke="#a984c2" stroke-width="0.9" opacity="0.85"/>
<line x1="263.74" y1="565.79" x2="263.74" y2="589.12" stroke="#a984c2" stroke-width="0.75" opacity="0.85"/>
<line x1="261.54" y1="565.79" x2="265.94" y2="565.79" stroke="#a984c2" stroke-width="0.9" opacity="0.85"/>
<line x1="261.54" y1="589.12" x2="265.94" y2="589.12" stroke="#a984c2" stroke-width="0.9" opacity="0.85"/>
<line x1="274.36" y1="563.88" x2="274.36" y2="587.20" stroke="#a984c2" stroke-width="0.75" opacity="0.85"/>
<line x1="272.16" y1="563.88" x2="276.56" y2="563.88" stroke="#a984c2" stroke-width="0.9" opacity="0.85"/>
<line x1="272.16" y1="587.20" x2="276.56" y2="587.20" stroke="#a984c2" stroke-width="0.9" opacity="0.85"/>
<line x1="284.98" y1="557.16" x2="284.98" y2="575.82" stroke="#a984c2" stroke-width="0.75" opacity="0.85"/>
<line x1="282.78" y1="557.16" x2="287.18" y2="557.16" stroke="#a984c2" stroke-width="0.9" opacity="0.85"/>
<line x1="282.78" y1="575.82" x2="287.18" y2="575.82" stroke="#a984c2" stroke-width="0.9" opacity="0.85"/>
<line x1="295.60" y1="551.75" x2="295.60" y2="570.41" stroke="#a984c2" stroke-width="0.75" opacity="0.85"/>
<line x1="293.40" y1="551.75" x2="297.80" y2="551.75" stroke="#a984c2" stroke-width="0.9" opacity="0.85"/>
<line x1="293.40" y1="570.41" x2="297.80" y2="570.41" stroke="#a984c2" stroke-width="0.9" opacity="0.85"/>
<line x1="306.22" y1="548.95" x2="306.22" y2="567.61" stroke="#a984c2" stroke-width="0.75" opacity="0.85"/>
<line x1="304.02" y1="548.95" x2="308.42" y2="548.95" stroke="#a984c2" stroke-width="0.9" opacity="0.85"/>
<line x1="304.02" y1="567.61" x2="308.42" y2="567.61" stroke="#a984c2" stroke-width="0.9" opacity="0.85"/>
<line x1="316.84" y1="545.96" x2="316.84" y2="564.62" stroke="#a984c2" stroke-width="0.75" opacity="0.85"/>
<line x1="314.64" y1="545.96" x2="319.04" y2="545.96" stroke="#a984c2" stroke-width="0.9" opacity="0.85"/>
<line x1="314.64" y1="564.62" x2="319.04" y2="564.62" stroke="#a984c2" stroke-width="0.9" opacity="0.85"/>
<line x1="327.46" y1="543.44" x2="327.46" y2="562.10" stroke="#a984c2" stroke-width="0.75" opacity="0.85"/>
<line x1="325.26" y1="543.44" x2="329.66" y2="543.44" stroke="#a984c2" stroke-width="0.9" opacity="0.85"/>
<line x1="325.26" y1="562.10" x2="329.66" y2="562.10" stroke="#a984c2" stroke-width="0.9" opacity="0.85"/>
<line x1="338.08" y1="542.23" x2="338.08" y2="560.89" stroke="#a984c2" stroke-width="0.75" opacity="0.85"/>
<line x1="335.88" y1="542.23" x2="340.28" y2="542.23" stroke="#a984c2" stroke-width="0.9" opacity="0.85"/>
<line x1="335.88" y1="560.89" x2="340.28" y2="560.89" stroke="#a984c2" stroke-width="0.9" opacity="0.85"/>
<line x1="348.70" y1="541.30" x2="348.70" y2="559.96" stroke="#a984c2" stroke-width="0.75" opacity="0.85"/>
<line x1="346.50" y1="541.30" x2="350.90" y2="541.30" stroke="#a984c2" stroke-width="0.9" opacity="0.85"/>
<line x1="346.50" y1="559.96" x2="350.90" y2="559.96" stroke="#a984c2" stroke-width="0.9" opacity="0.85"/>
<line x1="359.32" y1="540.46" x2="359.32" y2="559.12" stroke="#a984c2" stroke-width="0.75" opacity="0.85"/>
<line x1="357.12" y1="540.46" x2="361.52" y2="540.46" stroke="#a984c2" stroke-width="0.9" opacity="0.85"/>
<line x1="357.12" y1="559.12" x2="361.52" y2="559.12" stroke="#a984c2" stroke-width="0.9" opacity="0.85"/>
<line x1="369.94" y1="602.50" x2="369.94" y2="609.97" stroke="#a984c2" stroke-width="0.75" opacity="0.85"/>
<line x1="367.74" y1="602.50" x2="372.14" y2="602.50" stroke="#a984c2" stroke-width="0.9" opacity="0.85"/>
<line x1="367.74" y1="609.97" x2="372.14" y2="609.97" stroke="#a984c2" stroke-width="0.9" opacity="0.85"/>
<line x1="380.56" y1="604.00" x2="380.56" y2="611.46" stroke="#a984c2" stroke-width="0.75" opacity="0.85"/>
<line x1="378.36" y1="604.00" x2="382.76" y2="604.00" stroke="#a984c2" stroke-width="0.9" opacity="0.85"/>
<line x1="378.36" y1="611.46" x2="382.76" y2="611.46" stroke="#a984c2" stroke-width="0.9" opacity="0.85"/>
<line x1="391.18" y1="604.51" x2="391.18" y2="611.97" stroke="#a984c2" stroke-width="0.75" opacity="0.85"/>
<line x1="388.98" y1="604.51" x2="393.38" y2="604.51" stroke="#a984c2" stroke-width="0.9" opacity="0.85"/>
<line x1="388.98" y1="611.97" x2="393.38" y2="611.97" stroke="#a984c2" stroke-width="0.9" opacity="0.85"/>
<line x1="401.80" y1="605.49" x2="401.80" y2="612.95" stroke="#a984c2" stroke-width="0.75" opacity="0.85"/>
<line x1="399.60" y1="605.49" x2="404.00" y2="605.49" stroke="#a984c2" stroke-width="0.9" opacity="0.85"/>
<line x1="399.60" y1="612.95" x2="404.00" y2="612.95" stroke="#a984c2" stroke-width="0.9" opacity="0.85"/>
<polyline points="242.50,602.88 253.12,603.81 263.74,604.28 274.36,603.34 284.98,599.14 295.60,595.79 306.22,594.48 316.84,593.08 327.46,591.68 338.08,590.75 348.70,589.81 359.32,588.56 369.94,621.77 380.56,622.47 391.18,622.94 401.80,623.40" fill="none" stroke="#2eab44" stroke-width="1.5" stroke-linejoin="round"/>
<circle cx="242.50" cy="602.88" r="1.6" fill="#2eab44" />
<circle cx="253.12" cy="603.81" r="1.6" fill="#2eab44" />
<circle cx="263.74" cy="604.28" r="1.6" fill="#2eab44" />
<circle cx="274.36" cy="603.34" r="1.6" fill="#2eab44" />
<circle cx="284.98" cy="599.14" r="1.6" fill="#2eab44" />
<circle cx="295.60" cy="595.79" r="1.6" fill="#2eab44" />
<circle cx="306.22" cy="594.48" r="1.6" fill="#2eab44" />
<circle cx="316.84" cy="593.08" r="1.6" fill="#2eab44" />
<circle cx="327.46" cy="591.68" r="1.6" fill="#2eab44" />
<circle cx="338.08" cy="590.75" r="1.6" fill="#2eab44" />
<circle cx="348.70" cy="589.81" r="1.6" fill="#2eab44" />
<circle cx="359.32" cy="588.56" r="1.6" fill="#2eab44" />
<circle cx="369.94" cy="621.77" r="1.6" fill="#2eab44" />
<circle cx="380.56" cy="622.47" r="1.6" fill="#2eab44" />
<circle cx="391.18" cy="622.94" r="1.6" fill="#2eab44" />
<circle cx="401.80" cy="623.40" r="1.6" fill="#2eab44" />
<polyline points="242.50,603.62 253.12,605.30 263.74,606.19 274.36,605.30 284.98,598.68 295.60,595.79 306.22,594.48 316.84,593.55 327.46,592.38 338.08,592.38 348.70,592.61 359.32,592.61 369.94,631.80" fill="none" stroke="#4c1c74" stroke-width="1.5" stroke-linejoin="round"/>
<circle cx="242.50" cy="603.62" r="1.6" fill="#4c1c74" />
<circle cx="253.12" cy="605.30" r="1.6" fill="#4c1c74" />
<circle cx="263.74" cy="606.19" r="1.6" fill="#4c1c74" />
<circle cx="274.36" cy="605.30" r="1.6" fill="#4c1c74" />
<circle cx="284.98" cy="598.68" r="1.6" fill="#4c1c74" />
<circle cx="295.60" cy="595.79" r="1.6" fill="#4c1c74" />
<circle cx="306.22" cy="594.48" r="1.6" fill="#4c1c74" />
<circle cx="316.84" cy="593.55" r="1.6" fill="#4c1c74" />
<circle cx="327.46" cy="592.38" r="1.6" fill="#4c1c74" />
<circle cx="338.08" cy="592.38" r="1.6" fill="#4c1c74" />
<circle cx="348.70" cy="592.61" r="1.6" fill="#4c1c74" />
<circle cx="359.32" cy="592.61" r="1.6" fill="#4c1c74" />
<circle cx="369.94" cy="631.80" r="1.6" fill="#4c1c74" />
<polyline points="242.50,601.80 253.12,602.88 263.74,603.44 274.36,601.80 284.98,595.32 295.60,592.61 306.22,591.21 316.84,590.00 327.46,588.88 338.08,587.95 348.70,587.25 359.32,586.78 369.94,624.01 380.56,624.80 391.18,625.27 401.80,625.50" fill="none" stroke="#0f4c8a" stroke-width="1.5" stroke-linejoin="round"/>
<circle cx="242.50" cy="601.80" r="1.6" fill="#0f4c8a" />
<circle cx="253.12" cy="602.88" r="1.6" fill="#0f4c8a" />
<circle cx="263.74" cy="603.44" r="1.6" fill="#0f4c8a" />
<circle cx="274.36" cy="601.80" r="1.6" fill="#0f4c8a" />
<circle cx="284.98" cy="595.32" r="1.6" fill="#0f4c8a" />
<circle cx="295.60" cy="592.61" r="1.6" fill="#0f4c8a" />
<circle cx="306.22" cy="591.21" r="1.6" fill="#0f4c8a" />
<circle cx="316.84" cy="590.00" r="1.6" fill="#0f4c8a" />
<circle cx="327.46" cy="588.88" r="1.6" fill="#0f4c8a" />
<circle cx="338.08" cy="587.95" r="1.6" fill="#0f4c8a" />
<circle cx="348.70" cy="587.25" r="1.6" fill="#0f4c8a" />
<circle cx="359.32" cy="586.78" r="1.6" fill="#0f4c8a" />
<circle cx="369.94" cy="624.01" r="1.6" fill="#0f4c8a" />
<circle cx="380.56" cy="624.80" r="1.6" fill="#0f4c8a" />
<circle cx="391.18" cy="625.27" r="1.6" fill="#0f4c8a" />
<circle cx="401.80" cy="625.50" r="1.6" fill="#0f4c8a" />
<polyline points="242.50,599.61 253.12,601.34 263.74,601.62 274.36,600.08 284.98,592.80 295.60,588.98 306.22,587.02 316.84,585.90 327.46,584.68 338.08,584.22 348.70,583.98 359.32,583.75 369.94,619.67 380.56,621.07 391.18,622.00 401.80,622.47" fill="none" stroke="#c8153c" stroke-width="1.5" stroke-linejoin="round"/>
<circle cx="242.50" cy="599.61" r="1.6" fill="#c8153c" />
<circle cx="253.12" cy="601.34" r="1.6" fill="#c8153c" />
<circle cx="263.74" cy="601.62" r="1.6" fill="#c8153c" />
<circle cx="274.36" cy="600.08" r="1.6" fill="#c8153c" />
<circle cx="284.98" cy="592.80" r="1.6" fill="#c8153c" />
<circle cx="295.60" cy="588.98" r="1.6" fill="#c8153c" />
<circle cx="306.22" cy="587.02" r="1.6" fill="#c8153c" />
<circle cx="316.84" cy="585.90" r="1.6" fill="#c8153c" />
<circle cx="327.46" cy="584.68" r="1.6" fill="#c8153c" />
<circle cx="338.08" cy="584.22" r="1.6" fill="#c8153c" />
<circle cx="348.70" cy="583.98" r="1.6" fill="#c8153c" />
<circle cx="359.32" cy="583.75" r="1.6" fill="#c8153c" />
<circle cx="369.94" cy="619.67" r="1.6" fill="#c8153c" />
<circle cx="380.56" cy="621.07" r="1.6" fill="#c8153c" />
<circle cx="391.18" cy="622.00" r="1.6" fill="#c8153c" />
<circle cx="401.80" cy="622.47" r="1.6" fill="#c8153c" />
<polyline points="242.50,586.08 253.12,587.02 263.74,587.95 274.36,587.02 284.98,580.95 295.60,574.56 306.22,571.15 316.84,568.36 327.46,566.49 338.08,566.49 348.70,565.56 359.32,565.09 369.94,609.87 380.56,612.21 391.18,613.14 401.80,613.61" fill="none" stroke="#7dd487" stroke-width="1.5" stroke-linejoin="round"/>
<circle cx="242.50" cy="586.08" r="1.6" fill="#7dd487" />
<circle cx="253.12" cy="587.02" r="1.6" fill="#7dd487" />
<circle cx="263.74" cy="587.95" r="1.6" fill="#7dd487" />
<circle cx="274.36" cy="587.02" r="1.6" fill="#7dd487" />
<circle cx="284.98" cy="580.95" r="1.6" fill="#7dd487" />
<circle cx="295.60" cy="574.56" r="1.6" fill="#7dd487" />
<circle cx="306.22" cy="571.15" r="1.6" fill="#7dd487" />
<circle cx="316.84" cy="568.36" r="1.6" fill="#7dd487" />
<circle cx="327.46" cy="566.49" r="1.6" fill="#7dd487" />
<circle cx="338.08" cy="566.49" r="1.6" fill="#7dd487" />
<circle cx="348.70" cy="565.56" r="1.6" fill="#7dd487" />
<circle cx="359.32" cy="565.09" r="1.6" fill="#7dd487" />
<circle cx="369.94" cy="609.87" r="1.6" fill="#7dd487" />
<circle cx="380.56" cy="612.21" r="1.6" fill="#7dd487" />
<circle cx="391.18" cy="613.14" r="1.6" fill="#7dd487" />
<circle cx="401.80" cy="613.61" r="1.6" fill="#7dd487" />
<polyline points="242.50,585.15 253.12,587.02 263.74,587.62 274.36,583.28 284.98,572.55 295.60,567.42 306.22,564.16 316.84,562.06 327.46,560.57 338.08,559.77 348.70,559.49 359.32,558.79 369.94,612.21 380.56,613.61 391.18,614.31 401.80,615.47" fill="none" stroke="#e97a91" stroke-width="1.5" stroke-linejoin="round"/>
<circle cx="242.50" cy="585.15" r="1.6" fill="#e97a91" />
<circle cx="253.12" cy="587.02" r="1.6" fill="#e97a91" />
<circle cx="263.74" cy="587.62" r="1.6" fill="#e97a91" />
<circle cx="274.36" cy="583.28" r="1.6" fill="#e97a91" />
<circle cx="284.98" cy="572.55" r="1.6" fill="#e97a91" />
<circle cx="295.60" cy="567.42" r="1.6" fill="#e97a91" />
<circle cx="306.22" cy="564.16" r="1.6" fill="#e97a91" />
<circle cx="316.84" cy="562.06" r="1.6" fill="#e97a91" />
<circle cx="327.46" cy="560.57" r="1.6" fill="#e97a91" />
<circle cx="338.08" cy="559.77" r="1.6" fill="#e97a91" />
<circle cx="348.70" cy="559.49" r="1.6" fill="#e97a91" />
<circle cx="359.32" cy="558.79" r="1.6" fill="#e97a91" />
<circle cx="369.94" cy="612.21" r="1.6" fill="#e97a91" />
<circle cx="380.56" cy="613.61" r="1.6" fill="#e97a91" />
<circle cx="391.18" cy="614.31" r="1.6" fill="#e97a91" />
<circle cx="401.80" cy="615.47" r="1.6" fill="#e97a91" />
<polyline points="242.50,581.18 253.12,582.35 263.74,582.35 274.36,581.28 284.98,569.29 295.60,563.08 306.22,559.49 316.84,556.23 327.46,553.89 338.08,550.63 348.70,549.23 359.32,547.36 369.94,606.24 380.56,609.22 391.18,609.87 401.80,610.81" fill="none" stroke="#6e9fcb" stroke-width="1.5" stroke-linejoin="round"/>
<circle cx="242.50" cy="581.18" r="1.6" fill="#6e9fcb" />
<circle cx="253.12" cy="582.35" r="1.6" fill="#6e9fcb" />
<circle cx="263.74" cy="582.35" r="1.6" fill="#6e9fcb" />
<circle cx="274.36" cy="581.28" r="1.6" fill="#6e9fcb" />
<circle cx="284.98" cy="569.29" r="1.6" fill="#6e9fcb" />
<circle cx="295.60" cy="563.08" r="1.6" fill="#6e9fcb" />
<circle cx="306.22" cy="559.49" r="1.6" fill="#6e9fcb" />
<circle cx="316.84" cy="556.23" r="1.6" fill="#6e9fcb" />
<circle cx="327.46" cy="553.89" r="1.6" fill="#6e9fcb" />
<circle cx="338.08" cy="550.63" r="1.6" fill="#6e9fcb" />
<circle cx="348.70" cy="549.23" r="1.6" fill="#6e9fcb" />
<circle cx="359.32" cy="547.36" r="1.6" fill="#6e9fcb" />
<circle cx="369.94" cy="606.24" r="1.6" fill="#6e9fcb" />
<circle cx="380.56" cy="609.22" r="1.6" fill="#6e9fcb" />
<circle cx="391.18" cy="609.87" r="1.6" fill="#6e9fcb" />
<circle cx="401.80" cy="610.81" r="1.6" fill="#6e9fcb" />
<polyline points="242.50,575.82 253.12,577.08 263.74,577.45 274.36,575.54 284.98,566.49 295.60,561.08 306.22,558.28 316.84,555.29 327.46,552.77 338.08,551.56 348.70,550.63 359.32,549.79 369.94,606.24 380.56,607.73 391.18,608.24 401.80,609.22" fill="none" stroke="#a984c2" stroke-width="1.5" stroke-linejoin="round"/>
<circle cx="242.50" cy="575.82" r="1.6" fill="#a984c2" />
<circle cx="253.12" cy="577.08" r="1.6" fill="#a984c2" />
<circle cx="263.74" cy="577.45" r="1.6" fill="#a984c2" />
<circle cx="274.36" cy="575.54" r="1.6" fill="#a984c2" />
<circle cx="284.98" cy="566.49" r="1.6" fill="#a984c2" />
<circle cx="295.60" cy="561.08" r="1.6" fill="#a984c2" />
<circle cx="306.22" cy="558.28" r="1.6" fill="#a984c2" />
<circle cx="316.84" cy="555.29" r="1.6" fill="#a984c2" />
<circle cx="327.46" cy="552.77" r="1.6" fill="#a984c2" />
<circle cx="338.08" cy="551.56" r="1.6" fill="#a984c2" />
<circle cx="348.70" cy="550.63" r="1.6" fill="#a984c2" />
<circle cx="359.32" cy="549.79" r="1.6" fill="#a984c2" />
<circle cx="369.94" cy="606.24" r="1.6" fill="#a984c2" />
<circle cx="380.56" cy="607.73" r="1.6" fill="#a984c2" />
<circle cx="391.18" cy="608.24" r="1.6" fill="#a984c2" />
<circle cx="401.80" cy="609.22" r="1.6" fill="#a984c2" />
<line x1="418.90" y1="514.30" x2="430.70" y2="514.30" stroke="#c8153c" stroke-width="1.7" />
<circle cx="424.80" cy="514.30" r="1.6" fill="#c8153c" />
<text x="434.30" y="517.16" font-size="7.1" text-anchor="start" fill="#1a1a1a" stroke="#1a1a1a" stroke-width="0.08" textLength="73.00" lengthAdjust="spacingAndGlyphs" >No treatment + medium</text>
<line x1="418.90" y1="529.10" x2="430.70" y2="529.10" stroke="#e97a91" stroke-width="1.7" />
<circle cx="424.80" cy="529.10" r="1.6" fill="#e97a91" />
<text x="434.30" y="531.96" font-size="7.1" text-anchor="start" fill="#1a1a1a" stroke="#1a1a1a" stroke-width="0.08" textLength="62.50" lengthAdjust="spacingAndGlyphs" >No treatment + IFN&#947;</text>
<line x1="418.90" y1="543.90" x2="430.70" y2="543.90" stroke="#4c1c74" stroke-width="1.7" />
<circle cx="424.80" cy="543.90" r="1.6" fill="#4c1c74" />
<text x="434.30" y="546.76" font-size="7.1" text-anchor="start" fill="#1a1a1a" stroke="#1a1a1a" stroke-width="0.08" textLength="53.50" lengthAdjust="spacingAndGlyphs" >BPTES + medium</text>
<line x1="418.90" y1="558.70" x2="430.70" y2="558.70" stroke="#a984c2" stroke-width="1.7" />
<circle cx="424.80" cy="558.70" r="1.6" fill="#a984c2" />
<text x="434.30" y="561.56" font-size="7.1" text-anchor="start" fill="#1a1a1a" stroke="#1a1a1a" stroke-width="0.08" textLength="42.50" lengthAdjust="spacingAndGlyphs" >BPTES + IFN&#947;</text>
<line x1="418.90" y1="573.50" x2="430.70" y2="573.50" stroke="#0f4c8a" stroke-width="1.7" />
<circle cx="424.80" cy="573.50" r="1.6" fill="#0f4c8a" />
<text x="434.30" y="576.36" font-size="7.1" text-anchor="start" fill="#1a1a1a" stroke="#1a1a1a" stroke-width="0.08" textLength="56.50" lengthAdjust="spacingAndGlyphs" >UK5099 + medium</text>
<line x1="418.90" y1="588.30" x2="430.70" y2="588.30" stroke="#6e9fcb" stroke-width="1.7" />
<circle cx="424.80" cy="588.30" r="1.6" fill="#6e9fcb" />
<text x="434.30" y="591.16" font-size="7.1" text-anchor="start" fill="#1a1a1a" stroke="#1a1a1a" stroke-width="0.08" textLength="45.50" lengthAdjust="spacingAndGlyphs" >UK5099 + IFN&#947;</text>
<line x1="418.90" y1="603.10" x2="430.70" y2="603.10" stroke="#2eab44" stroke-width="1.7" />
<circle cx="424.80" cy="603.10" r="1.6" fill="#2eab44" />
<text x="434.30" y="605.96" font-size="7.1" text-anchor="start" fill="#1a1a1a" stroke="#1a1a1a" stroke-width="0.08" textLength="59.00" lengthAdjust="spacingAndGlyphs" >Etomoxir + medium</text>
<line x1="418.90" y1="617.90" x2="430.70" y2="617.90" stroke="#7dd487" stroke-width="1.7" />
<circle cx="424.80" cy="617.90" r="1.6" fill="#7dd487" />
<text x="434.30" y="620.76" font-size="7.1" text-anchor="start" fill="#1a1a1a" stroke="#1a1a1a" stroke-width="0.08" textLength="48.50" lengthAdjust="spacingAndGlyphs" >Etomoxir + IFN&#947;</text>
<rect x="0.00" y="0.00" width="520.00" height="1.25" fill="#000" />
<rect x="0.00" y="0.00" width="1.00" height="677.00" fill="#000" />
<rect x="519.00" y="0.00" width="1.00" height="677.00" fill="#000" />
<rect x="0.00" y="675.80" width="520.00" height="1.20" fill="#000" />
</svg>
</body></html>
